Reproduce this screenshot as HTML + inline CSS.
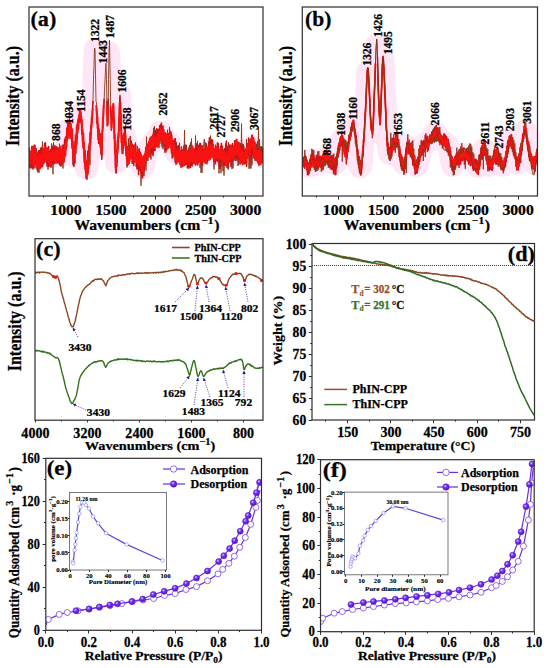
<!DOCTYPE html>
<html><head><meta charset="utf-8"><style>
html,body{margin:0;padding:0;background:#fff;width:550px;height:668px;overflow:hidden}
svg{display:block}
svg text{font-family:"Liberation Serif",serif;font-weight:bold}
</style></head><body>
<svg width="550" height="668" viewBox="0 0 550 668">
<rect width="550" height="668" fill="#fff"/>
<defs>
<clipPath id="ca"><rect x="29" y="7" width="234" height="189"/></clipPath>
<clipPath id="cb"><rect x="302.3" y="7" width="235.2" height="189"/></clipPath>
</defs>
<path d="M29.0,158.0 L30.0,157.6 L31.0,157.3 L32.0,157.1 L33.0,157.0 L34.0,157.0 L35.0,157.0 L36.0,157.2 L37.0,157.7 L38.0,158.3 L39.0,158.8 L40.0,159.0 L41.0,158.7 L42.0,157.9 L43.0,157.1 L44.0,156.3 L45.0,156.0 L46.0,156.1 L47.0,156.4 L48.0,156.6 L49.0,156.9 L50.0,157.0 L51.0,156.9 L52.0,156.6 L53.0,156.4 L54.0,156.1 L55.0,156.0 L56.0,156.0 L57.0,156.0 L58.0,156.0 L59.0,156.0 L60.0,156.0 L61.0,155.9 L62.0,155.6 L63.0,155.2 L64.0,153.6 L65.0,148.2 L66.0,142.0 L67.0,135.1 L68.0,130.0 L69.0,128.6 L70.0,128.0 L71.0,132.0 L72.0,140.0 L73.0,154.2 L74.0,156.6 L75.0,149.0 L76.0,141.2 L77.0,132.7 L78.0,125.0 L79.0,117.9 L80.0,114.0 L81.0,118.0 L82.0,127.1 L83.0,140.0 L84.0,150.4 L85.0,159.8 L86.0,168.5 L87.0,168.9 L88.0,163.0 L89.0,154.1 L90.0,142.7 L91.0,130.0 L92.0,119.3 L93.0,98.1 L94.0,63.8 L95.0,48.9 L96.0,97.3 L97.0,119.6 L98.0,130.0 L99.0,134.2 L100.0,138.0 L101.0,147.5 L102.0,143.0 L103.0,119.4 L104.0,101.0 L105.0,80.0 L106.0,62.0 L107.0,104.3 L108.0,111.5 L109.0,52.0 L110.0,66.8 L111.0,124.3 L112.0,120.4 L113.0,106.9 L114.0,124.8 L115.0,149.0 L116.0,163.0 L117.0,154.3 L118.0,142.8 L119.0,127.0 L120.0,93.8 L121.0,121.7 L122.0,140.0 L123.0,140.0 L124.0,139.0 L125.0,136.0 L126.0,144.9 L127.0,157.0 L128.0,157.0 L129.0,153.9 L130.0,152.0 L131.0,152.2 L132.0,152.7 L133.0,153.4 L134.0,154.2 L135.0,155.0 L136.0,155.8 L137.0,156.6 L138.0,157.5 L139.0,158.6 L140.0,160.0 L141.0,162.7 L142.0,166.3 L143.0,168.0 L144.0,165.3 L145.0,159.7 L146.0,155.0 L147.0,152.2 L148.0,149.8 L149.0,147.7 L150.0,146.0 L151.0,144.5 L152.0,143.3 L153.0,142.1 L154.0,141.1 L155.0,140.0 L156.0,139.1 L157.0,138.2 L158.0,137.0 L159.0,134.4 L160.0,131.5 L161.0,131.4 L162.0,133.7 L163.0,136.0 L164.0,137.5 L165.0,138.9 L166.0,140.0 L167.0,140.8 L168.0,141.5 L169.0,142.1 L170.0,143.0 L171.0,144.4 L172.0,146.3 L173.0,148.3 L174.0,150.0 L175.0,151.5 L176.0,153.0 L177.0,154.2 L178.0,155.0 L179.0,155.5 L180.0,155.9 L181.0,156.3 L182.0,156.6 L183.0,156.8 L184.0,156.9 L185.0,157.0 L186.0,157.0 L187.0,156.9 L188.0,156.8 L189.0,156.7 L190.0,156.6 L191.0,156.5 L192.0,156.4 L193.0,156.2 L194.0,156.1 L195.0,156.0 L196.0,155.9 L197.0,155.8 L198.0,155.8 L199.0,155.7 L200.0,155.6 L201.0,155.5 L202.0,155.4 L203.0,155.3 L204.0,155.2 L205.0,155.0 L206.0,154.5 L207.0,153.5 L208.0,152.4 L209.0,151.2 L210.0,150.3 L211.0,150.0 L212.0,150.8 L213.0,152.5 L214.0,154.2 L215.0,155.0 L216.0,154.8 L217.0,154.3 L218.0,153.7 L219.0,153.2 L220.0,153.0 L221.0,153.2 L222.0,153.6 L223.0,154.3 L224.0,155.0 L225.0,155.7 L226.0,156.4 L227.0,156.8 L228.0,157.0 L229.0,156.7 L230.0,155.9 L231.0,154.9 L232.0,154.0 L233.0,153.1 L234.0,152.0 L235.0,151.0 L236.0,150.3 L237.0,150.0 L238.0,150.6 L239.0,152.1 L240.0,153.9 L241.0,155.4 L242.0,156.0 L243.0,155.8 L244.0,155.4 L245.0,154.7 L246.0,153.9 L247.0,153.0 L248.0,151.6 L249.0,149.6 L250.0,147.6 L251.0,146.3 L252.0,146.1 L253.0,147.4 L254.0,149.4 L255.0,151.5 L256.0,153.0 L257.0,154.0 L258.0,154.8 L259.0,155.5 L260.0,156.0 L261.0,156.4 L262.0,156.8 L263.0,157.0" fill="none" stroke="#ffd6f2" stroke-width="22" stroke-linejoin="round" clip-path="url(#ca)" stroke-linecap="round" opacity="0.62"/>
<path d="M29.0,160.2 L29.5,147.8 L30.0,164.7 L30.5,154.0 L31.0,161.8 L31.5,146.3 L32.0,162.1 L32.5,154.3 L33.0,169.7 L33.5,146.7 L34.0,163.2 L34.5,149.9 L35.0,168.5 L35.5,153.5 L36.0,162.6 L36.5,148.1 L37.0,170.1 L37.5,152.8 L38.0,172.5 L38.5,151.6 L39.0,172.8 L39.5,154.2 L40.0,167.0 L40.5,150.5 L41.0,163.7 L41.5,147.1 L42.0,159.2 L42.5,141.5 L43.0,164.6 L43.5,149.0 L44.0,160.8 L44.5,148.7 L45.0,157.7 L45.5,142.6 L46.0,162.6 L46.5,152.2 L47.0,166.6 L47.5,152.6 L48.0,169.7 L48.5,152.4 L49.0,159.7 L49.5,153.1 L50.0,163.6 L50.5,149.0 L51.0,167.8 L51.5,143.4 L52.0,159.2 L52.5,151.2 L53.0,174.2 L53.5,142.1 L54.0,164.5 L54.5,147.9 L55.0,161.5 L55.5,156.5 L56.0,158.5 L56.5,149.1 L57.0,163.3 L57.5,151.5 L58.0,160.2 L58.5,152.6 L59.0,158.6 L59.5,143.7 L60.0,162.6 L60.5,151.5 L61.0,166.7 L61.5,153.0 L62.0,161.1 L62.5,148.8 L63.0,168.5 L63.5,151.2 L64.0,162.4 L64.5,144.2 L65.0,149.7 L65.5,142.3 L66.0,147.7 L66.5,128.2 L67.0,141.0 L67.5,119.6 L68.0,131.6 L68.5,123.1 L69.0,132.3 L69.5,107.5 L70.0,139.0 L70.5,124.4 L71.0,137.0 L71.5,128.3 L72.0,148.1 L72.5,142.1 L73.0,157.1 L73.5,153.3 L74.0,165.2 L74.5,145.4 L75.0,163.5 L75.5,139.6 L76.0,153.7 L76.5,129.7 L77.0,144.4 L77.5,119.8 L78.0,128.7 L78.5,115.8 L79.0,120.7 L79.5,111.8 L80.0,120.5 L80.5,108.4 L81.0,123.7 L81.5,117.8 L82.0,128.5 L82.5,125.3 L83.0,147.4 L83.5,134.7 L84.0,148.6 L84.5,143.0 L85.0,158.6 L85.5,150.8 L86.0,178.8 L86.5,168.6 L87.0,179.9 L87.5,165.6 L88.0,173.0 L88.5,165.8 L89.0,154.7 L89.5,143.4 L90.0,165.2 L90.5,127.0 L91.0,134.9 L91.5,130.5 L92.0,123.5 L92.5,110.7 L93.0,99.7 L93.5,79.2 L94.0,64.7 L94.5,48.1 L95.0,48.8 L95.5,74.2 L96.0,101.6 L96.5,102.1 L97.0,123.3 L97.5,113.3 L98.0,140.0 L98.5,125.7 L99.0,140.0 L99.5,131.3 L100.0,143.0 L100.5,133.4 L101.0,148.0 L101.5,140.2 L102.0,155.3 L102.5,126.6 L103.0,128.1 L103.5,110.0 L104.0,103.4 L104.5,90.2 L105.0,81.0 L105.5,68.5 L106.0,63.1 L106.5,79.5 L107.0,107.9 L107.5,122.5 L108.0,117.2 L108.5,79.5 L109.0,52.6 L109.5,40.1 L110.0,67.2 L110.5,94.0 L111.0,119.6 L111.5,118.0 L112.0,121.7 L112.5,105.2 L113.0,107.3 L113.5,106.6 L114.0,130.3 L114.5,133.9 L115.0,152.2 L115.5,146.7 L116.0,173.4 L116.5,150.1 L117.0,166.8 L117.5,137.4 L118.0,148.9 L118.5,128.1 L119.0,131.7 L119.5,105.0 L120.0,94.9 L120.5,102.1 L121.0,130.3 L121.5,129.7 L122.0,153.7 L122.5,134.9 L123.0,154.2 L123.5,133.7 L124.0,146.0 L124.5,130.8 L125.0,139.9 L125.5,124.5 L126.0,155.1 L126.5,142.6 L127.0,167.5 L127.5,146.2 L128.0,158.0 L128.5,138.4 L129.0,154.9 L129.5,145.0 L130.0,158.4 L130.5,143.0 L131.0,158.7 L131.5,140.7 L132.0,157.4 L132.5,144.6 L133.0,160.4 L133.5,144.8 L134.0,160.9 L134.5,149.8 L135.0,162.1 L135.5,142.4 L136.0,159.0 L136.5,152.5 L137.0,157.1 L137.5,146.1 L138.0,153.8 L138.5,151.2 L139.0,168.7 L139.5,148.5 L140.0,162.4 L140.5,154.1 L141.0,185.8 L141.5,155.5 L142.0,176.8 L142.5,164.7 L143.0,175.4 L143.5,156.3 L144.0,176.3 L144.5,154.7 L145.0,166.3 L145.5,147.2 L146.0,170.6 L146.5,136.7 L147.0,159.1 L147.5,147.6 L148.0,160.9 L148.5,149.1 L149.0,154.2 L149.5,146.5 L150.0,157.7 L150.5,140.2 L151.0,159.5 L151.5,146.5 L152.0,149.6 L152.5,137.3 L153.0,154.7 L153.5,127.8 L154.0,145.6 L154.5,126.0 L155.0,150.8 L155.5,130.4 L156.0,147.3 L156.5,130.4 L157.0,140.5 L157.5,128.8 L158.0,140.6 L158.5,128.7 L159.0,147.8 L159.5,125.4 L160.0,141.4 L160.5,131.0 L161.0,143.9 L161.5,123.1 L162.0,147.2 L162.5,129.4 L163.0,149.1 L163.5,135.3 L164.0,146.3 L164.5,137.3 L165.0,152.8 L165.5,136.5 L166.0,152.4 L166.5,134.5 L167.0,150.3 L167.5,129.7 L168.0,146.6 L168.5,133.8 L169.0,144.6 L169.5,127.1 L170.0,147.9 L170.5,134.4 L171.0,145.0 L171.5,132.9 L172.0,149.7 L172.5,140.6 L173.0,148.1 L173.5,140.6 L174.0,157.5 L174.5,141.2 L175.0,162.5 L175.5,138.0 L176.0,165.1 L176.5,142.1 L177.0,162.2 L177.5,146.6 L178.0,161.2 L178.5,147.2 L179.0,156.4 L179.5,142.8 L180.0,159.9 L180.5,153.5 L181.0,164.3 L181.5,146.7 L182.0,164.1 L182.5,149.6 L183.0,165.0 L183.5,151.1 L184.0,158.1 L184.5,130.1 L185.0,165.4 L185.5,144.6 L186.0,163.3 L186.5,144.8 L187.0,158.4 L187.5,153.4 L188.0,163.6 L188.5,147.7 L189.0,153.0 L189.5,144.9 L190.0,154.4 L190.5,142.4 L191.0,158.2 L191.5,138.5 L192.0,158.8 L192.5,149.5 L193.0,163.8 L193.5,153.6 L194.0,162.6 L194.5,150.1 L195.0,161.6 L195.5,135.5 L196.0,161.4 L196.5,143.4 L197.0,164.3 L197.5,140.8 L198.0,160.7 L198.5,144.8 L199.0,161.6 L199.5,149.8 L200.0,167.8 L200.5,146.5 L201.0,172.7 L201.5,149.1 L202.0,172.9 L202.5,154.1 L203.0,156.9 L203.5,147.6 L204.0,140.0 L204.5,139.0 L205.0,156.7 L205.5,142.6 L206.0,163.4 L206.5,150.8 L207.0,164.3 L207.5,151.2 L208.0,158.1 L208.5,141.6 L209.0,160.9 L209.5,142.2 L210.0,153.0 L210.5,135.5 L211.0,154.0 L211.5,148.7 L212.0,158.4 L212.5,152.7 L213.0,151.1 L213.5,152.6 L214.0,169.4 L214.5,150.8 L215.0,160.1 L215.5,144.7 L216.0,158.9 L216.5,147.2 L217.0,158.2 L217.5,150.0 L218.0,160.6 L218.5,154.9 L219.0,173.4 L219.5,156.0 L220.0,166.8 L220.5,151.2 L221.0,173.2 L221.5,154.8 L222.0,166.6 L222.5,149.7 L223.0,171.2 L223.5,149.7 L224.0,175.6 L224.5,152.1 L225.0,166.1 L225.5,143.7 L226.0,165.5 L226.5,140.4 L227.0,157.7 L227.5,147.0 L228.0,163.9 L228.5,142.3 L229.0,162.5 L229.5,144.6 L230.0,162.3 L230.5,150.9 L231.0,167.1 L231.5,151.1 L232.0,169.0 L232.5,144.5 L233.0,168.2 L233.5,148.3 L234.0,160.4 L234.5,140.2 L235.0,159.2 L235.5,140.8 L236.0,155.6 L236.5,145.4 L237.0,161.1 L237.5,141.6 L238.0,165.9 L238.5,150.4 L239.0,164.4 L239.5,146.3 L240.0,159.6 L240.5,143.1 L241.0,162.4 L241.5,123.6 L242.0,156.4 L242.5,143.7 L243.0,158.3 L243.5,144.1 L244.0,164.8 L244.5,149.1 L245.0,163.5 L245.5,148.6 L246.0,160.7 L246.5,139.2 L247.0,157.8 L247.5,143.0 L248.0,143.7 L248.5,149.1 L249.0,168.7 L249.5,150.3 L250.0,168.4 L250.5,146.7 L251.0,168.5 L251.5,149.8 L252.0,165.3 L252.5,139.3 L253.0,157.6 L253.5,137.6 L254.0,158.9 L254.5,142.3 L255.0,160.8 L255.5,147.8 L256.0,155.7 L256.5,143.7 L257.0,161.4 L257.5,141.0 L258.0,158.5 L258.5,126.5 L259.0,166.1 L259.5,139.3 L260.0,164.5 L260.5,146.4 L261.0,154.3 L261.5,146.3 L262.0,158.7 L262.5,150.2 L263.0,158.4" fill="none" stroke="#8a3418" stroke-width="0.9" stroke-linejoin="round" clip-path="url(#ca)"/>
<path d="M29.0,168.1 L29.4,155.4 L29.8,163.9 L30.2,151.5 L30.6,167.9 L31.0,157.6 L31.4,164.5 L31.8,154.0 L32.2,168.1 L32.6,151.0 L33.0,167.7 L33.4,150.4 L33.8,167.0 L34.2,145.1 L34.6,162.5 L35.0,145.5 L35.4,159.2 L35.8,152.7 L36.2,164.8 L36.6,156.9 L37.0,167.0 L37.4,154.0 L37.8,171.2 L38.2,151.5 L38.6,165.0 L39.0,150.5 L39.4,166.3 L39.8,151.3 L40.2,164.8 L40.6,148.3 L41.0,162.4 L41.4,155.6 L41.8,167.0 L42.2,149.3 L42.6,166.6 L43.0,155.3 L43.4,161.5 L43.8,148.6 L44.2,163.0 L44.6,143.5 L45.0,157.8 L45.4,142.7 L45.8,155.8 L46.2,148.9 L46.6,161.7 L47.0,149.1 L47.4,165.1 L47.8,149.7 L48.2,166.3 L48.6,146.5 L49.0,166.2 L49.4,153.7 L49.8,164.1 L50.2,150.9 L50.6,159.1 L51.0,150.2 L51.4,166.2 L51.8,146.5 L52.2,158.1 L52.6,151.5 L53.0,163.7 L53.4,144.3 L53.8,157.8 L54.2,152.2 L54.6,162.5 L55.0,145.8 L55.4,163.0 L55.8,150.2 L56.2,161.4 L56.6,146.7 L57.0,162.9 L57.4,152.6 L57.8,160.1 L58.2,147.9 L58.6,162.7 L59.0,151.0 L59.4,164.3 L59.8,145.9 L60.2,165.6 L60.6,150.3 L61.0,162.9 L61.4,149.9 L61.8,165.1 L62.2,145.8 L62.6,163.1 L63.0,145.0 L63.4,160.8 L63.8,145.6 L64.2,153.9 L64.6,139.6 L65.0,150.5 L65.4,137.4 L65.8,145.2 L66.2,136.3 L66.6,146.2 L67.0,127.8 L67.4,137.5 L67.8,125.4 L68.2,134.2 L68.6,120.5 L69.0,132.6 L69.4,122.5 L69.8,129.7 L70.2,122.5 L70.6,131.7 L71.0,123.3 L71.4,139.9 L71.8,134.3 L72.2,148.6 L72.6,145.9 L73.0,164.8 L73.4,146.4 L73.8,166.4 L74.2,146.8 L74.6,161.4 L75.0,141.8 L75.4,149.7 L75.8,137.5 L76.2,144.1 L76.6,125.7 L77.0,139.9 L77.4,124.6 L77.8,133.2 L78.2,120.6 L78.6,128.7 L79.0,117.5 L79.4,122.2 L79.8,115.2 L80.2,119.2 L80.6,112.4 L81.0,121.6 L81.4,119.6 L81.8,134.1 L82.2,130.7 L82.6,142.0 L83.0,133.2 L83.4,148.6 L83.8,144.2 L84.2,162.6 L84.6,149.7 L85.0,168.9 L85.4,153.9 L85.8,167.9 L86.2,163.8 L86.6,178.0 L87.0,161.0 L87.4,169.4 L87.8,151.1 L88.2,162.8 L88.6,146.4 L89.0,162.2 L89.4,142.9 L89.8,148.1 L90.2,133.4 L90.6,144.3 L91.0,125.6 L91.4,127.6 L91.8,120.1 L92.2,118.9 L92.6,108.2 L93.0,100.9 M96.2,108.7 L96.6,110.5 L97.0,123.5 L97.4,117.3 L97.8,135.7 L98.2,128.8 L98.6,143.5 L99.0,129.3 L99.4,142.6 L99.8,136.4 L100.2,145.1 L100.6,142.3 L101.0,154.2 L101.4,146.3 L101.8,159.5 L102.2,131.5 L102.6,131.0 L103.0,117.5 L103.4,116.6 L103.8,105.0 L104.2,98.6 M107.0,101.1 L107.4,125.8 L107.8,119.3 L108.2,98.8 M110.6,105.7 L111.0,117.1 L111.4,130.2 L111.8,115.1 L112.2,122.2 L112.6,108.5 L113.0,109.7 L113.4,103.5 L113.8,119.8 L114.2,122.3 L114.6,149.7 L115.0,141.3 L115.4,167.7 L115.8,152.0 L116.2,172.8 L116.6,153.8 L117.0,162.1 L117.4,140.4 L117.8,152.7 L118.2,137.6 L118.6,135.9 L119.0,121.3 L119.4,115.7 L119.8,96.8 M120.6,101.8 L121.0,122.1 L121.4,131.1 L121.8,145.0 L122.2,139.0 L122.6,150.2 L123.0,136.7 L123.4,147.3 L123.8,136.3 L124.2,141.8 L124.6,128.3 L125.0,139.2 L125.4,133.5 L125.8,150.6 L126.2,142.3 L126.6,159.4 L127.0,151.9 L127.4,165.4 L127.8,153.8 L128.2,164.4 L128.6,155.4 L129.0,157.0 L129.4,145.7 L129.8,159.2 L130.2,136.6 L130.6,157.1 L131.0,141.6 L131.4,158.0 L131.8,144.1 L132.2,163.6 L132.6,145.6 L133.0,162.9 L133.4,151.4 L133.8,165.5 L134.2,151.3 L134.6,157.3 L135.0,144.3 L135.4,156.9 L135.8,145.0 L136.2,166.6 L136.6,154.3 L137.0,168.9 L137.4,157.9 L137.8,168.6 L138.2,153.5 L138.6,174.6 L139.0,154.5 L139.4,169.2 L139.8,152.0 L140.2,170.6 L140.6,152.6 L141.0,173.3 L141.4,163.4 L141.8,175.9 L142.2,157.3 L142.6,177.9 L143.0,160.3 L143.4,169.8 L143.8,156.6 L144.2,171.1 L144.6,159.7 L145.0,164.3 L145.4,153.5 L145.8,163.4 L146.2,148.9 L146.6,160.4 L147.0,147.3 L147.4,157.5 L147.8,144.0 L148.2,153.4 L148.6,142.1 L149.0,155.6 L149.4,142.4 L149.8,152.8 L150.2,139.8 L150.6,154.0 L151.0,144.4 L151.4,153.1 L151.8,138.1 L152.2,151.3 L152.6,145.3 L153.0,155.8 L153.4,133.1 L153.8,150.3 L154.2,134.4 L154.6,150.5 L155.0,132.6 L155.4,138.9 L155.8,130.4 L156.2,142.5 L156.6,128.8 L157.0,145.7 L157.4,133.7 L157.8,146.1 L158.2,130.6 L158.6,144.5 L159.0,129.9 L159.4,137.3 L159.8,127.4 L160.2,134.0 L160.6,124.8 L161.0,136.6 L161.4,123.0 L161.8,135.5 L162.2,128.1 L162.6,140.6 L163.0,126.0 L163.4,143.8 L163.8,129.5 L164.2,146.2 L164.6,134.0 L165.0,150.8 L165.4,133.1 L165.8,150.5 L166.2,139.7 L166.6,146.7 L167.0,134.7 L167.4,141.6 L167.8,133.5 L168.2,148.3 L168.6,133.9 L169.0,144.7 L169.4,132.9 L169.8,141.6 L170.2,131.6 L170.6,146.4 L171.0,132.2 L171.4,152.9 L171.8,135.6 L172.2,158.0 L172.6,142.5 L173.0,151.4 L173.4,145.6 L173.8,151.4 L174.2,139.0 L174.6,151.3 L175.0,142.0 L175.4,156.9 L175.8,147.2 L176.2,162.8 L176.6,148.4 L177.0,155.3 L177.4,146.8 L177.8,162.4 L178.2,145.5 L178.6,158.4 L179.0,152.1 L179.4,158.4 L179.8,151.4 L180.2,164.3 L180.6,151.1 L181.0,167.5 L181.4,146.9 L181.8,165.3 L182.2,152.5 L182.6,166.4 L183.0,154.1 L183.4,165.4 L183.8,145.9 L184.2,165.4 L184.6,153.7 L185.0,164.2 L185.4,148.1 L185.8,164.5 L186.2,150.1 L186.6,164.2 L187.0,154.3 L187.4,168.1 L187.8,151.6 L188.2,166.6 L188.6,156.3 L189.0,168.3 L189.4,156.0 L189.8,163.6 L190.2,152.0 L190.6,167.5 L191.0,152.3 L191.4,165.1 L191.8,149.4 L192.2,165.7 L192.6,146.2 L193.0,163.2 L193.4,149.2 L193.8,157.3 L194.2,150.7 L194.6,157.2 L195.0,148.4 L195.4,158.3 L195.8,147.9 L196.2,159.6 L196.6,144.3 L197.0,158.3 L197.4,153.4 L197.8,164.9 L198.2,156.4 L198.6,161.3 L199.0,149.8 L199.4,161.1 L199.8,143.6 L200.2,160.3 L200.6,143.5 L201.0,157.3 L201.4,146.9 L201.8,162.7 L202.2,145.8 L202.6,165.1 L203.0,151.6 L203.4,159.6 L203.8,149.2 L204.2,160.7 L204.6,155.1 L205.0,162.3 L205.4,147.1 L205.8,159.1 L206.2,143.8 L206.6,159.0 L207.0,149.2 L207.4,161.5 L207.8,147.4 L208.2,157.5 L208.6,145.5 L209.0,154.3 L209.4,137.7 L209.8,153.5 L210.2,141.2 L210.6,146.3 L211.0,140.7 L211.4,150.4 L211.8,139.6 L212.2,156.1 L212.6,140.6 L213.0,156.7 L213.4,144.8 L213.8,161.4 L214.2,151.1 L214.6,160.1 L215.0,150.6 L215.4,163.8 L215.8,151.2 L216.2,160.9 L216.6,150.0 L217.0,154.7 L217.4,142.9 L217.8,161.2 L218.2,143.5 L218.6,162.4 L219.0,151.3 L219.4,168.2 L219.8,150.4 L220.2,168.6 L220.6,146.5 L221.0,159.9 L221.4,143.4 L221.8,156.3 L222.2,145.9 L222.6,158.5 L223.0,152.3 L223.4,162.6 L223.8,151.8 L224.2,164.8 L224.6,148.7 L225.0,158.0 L225.4,150.3 L225.8,158.9 L226.2,141.6 L226.6,159.2 L227.0,145.8 L227.4,164.2 L227.8,154.2 L228.2,168.9 L228.6,150.3 L229.0,162.0 L229.4,147.1 L229.8,159.8 L230.2,147.4 L230.6,160.1 L231.0,147.4 L231.4,165.3 L231.8,152.0 L232.2,159.2 L232.6,143.6 L233.0,160.3 L233.4,151.0 L233.8,156.8 L234.2,151.0 L234.6,155.8 L235.0,146.8 L235.4,160.5 L235.8,145.0 L236.2,154.1 L236.6,146.7 L237.0,158.4 L237.4,145.8 L237.8,159.4 L238.2,142.6 L238.6,159.2 L239.0,143.2 L239.4,152.9 L239.8,143.5 L240.2,163.9 L240.6,147.2 L241.0,162.4 L241.4,146.0 L241.8,158.7 L242.2,147.4 L242.6,164.4 L243.0,149.0 L243.4,160.1 L243.8,146.4 L244.2,158.9 L244.6,153.1 L245.0,163.5 L245.4,150.2 L245.8,161.3 L246.2,152.9 L246.6,166.6 L247.0,149.3 L247.4,158.1 L247.8,147.1 L248.2,155.2 L248.6,138.1 L249.0,154.9 L249.4,142.3 L249.8,152.3 L250.2,139.8 L250.6,159.9 L251.0,140.5 L251.4,153.9 L251.8,147.4 L252.2,153.9 L252.6,141.3 L253.0,151.8 L253.4,137.8 L253.8,151.6 L254.2,145.3 L254.6,157.2 L255.0,142.2 L255.4,156.1 L255.8,147.8 L256.2,156.5 L256.6,150.0 L257.0,160.6 L257.4,151.2 L257.8,162.6 L258.2,148.6 L258.6,164.0 L259.0,155.4 L259.4,159.5 L259.8,150.7 L260.2,163.9 L260.6,155.7 L261.0,159.5 L261.4,148.3 L261.8,161.8 L262.2,147.8 L262.6,160.0 L263.0,152.3" fill="none" stroke="#c81418" stroke-width="1.5" stroke-linejoin="round" clip-path="url(#ca)"/>
<path d="M29.0,160.7 L29.4,155.3 L29.7,163.4 L30.1,154.2 L30.4,163.6 L30.8,154.2 L31.1,156.9 L31.5,150.8 L31.8,156.9 L32.2,146.4 L32.5,154.7 L32.9,148.0 L33.2,163.8 L33.6,155.8 L33.9,165.1 L34.3,151.8 L34.6,159.0 L35.0,150.1 L35.3,158.7 L35.7,153.4 L36.0,160.8 L36.4,155.7 L36.7,162.8 L37.1,157.8 L37.4,166.7 L37.8,157.3 L38.1,165.8 L38.5,154.0 L38.8,168.2 L39.2,159.8 L39.5,167.9 L39.9,155.2 L40.2,168.3 L40.6,156.6 L40.9,166.8 L41.3,154.0 L41.6,162.9 L42.0,154.4 L42.3,163.2 L42.7,153.2 L43.0,162.5 L43.4,148.8 L43.7,158.1 L44.1,150.8 L44.4,154.0 L44.8,148.3 L45.1,157.5 L45.5,147.8 L45.8,160.3 L46.2,153.1 L46.5,158.2 L46.9,149.6 L47.2,160.3 L47.6,147.9 L47.9,159.7 L48.3,152.5 L48.6,161.9 L49.0,155.6 L49.3,161.2 L49.7,154.0 L50.0,165.9 L50.4,152.7 L50.7,166.3 L51.1,156.9 L51.4,160.4 L51.8,153.9 L52.1,159.9 L52.5,150.4 L52.8,157.8 L53.2,152.5 L53.5,156.1 L53.9,151.5 L54.2,160.8 L54.6,153.8 L54.9,158.6 L55.3,153.6 L55.6,162.3 L56.0,149.8 L56.3,160.2 L56.7,153.9 L57.0,162.5 L57.4,148.0 L57.7,158.1 L58.1,153.8 L58.4,159.5 L58.8,152.5 L59.1,157.8 L59.5,149.6 L59.8,156.7 L60.2,147.2 L60.5,159.8 L60.9,155.5 L61.2,162.9 L61.6,150.5 L61.9,159.4 L62.3,151.4 L62.6,159.3 L63.0,150.0 L63.3,158.8 L63.7,152.3 L64.0,161.6 L64.4,145.9 L64.7,156.9 L65.1,144.1 L65.4,155.5 L65.8,145.0 L66.1,148.9 L66.5,137.1 L66.8,141.1 L67.2,129.3 L67.5,138.6 L67.9,127.1 L68.2,137.9 L68.6,127.2 L68.9,136.1 L69.3,126.4 L69.6,134.1 L70.0,124.3 L70.3,133.1 L70.7,127.0 L71.0,134.7 L71.4,128.2 L71.7,138.6 L72.1,129.2 L72.4,145.7 L72.8,141.3 L73.1,156.1 L73.5,154.3 L73.8,158.0 L74.2,150.3 L74.5,154.2 L74.9,144.0 L75.2,149.2 L75.6,135.3 L75.9,148.2 L76.3,137.2 L76.6,138.4 L77.0,129.1 L77.3,130.8 L77.7,122.6 L78.0,127.4 L78.4,118.9 L78.7,120.2 L79.1,115.2 L79.4,118.1 L79.8,110.4 L80.1,115.1 L80.5,110.7 L80.8,117.6 L81.2,116.4 L81.5,122.3 L81.9,119.9 L82.2,134.3 L82.6,129.9 L82.9,143.2 L83.3,133.5 L83.6,148.3 L84.0,142.5 L84.3,157.4 L84.7,151.3 L85.0,165.0 L85.4,160.2 L85.7,172.2 L86.1,168.6 L86.4,175.9 L86.8,167.1 L87.1,176.0 L87.5,162.8 L87.8,174.0 L88.2,158.2 L88.5,168.5 L88.9,154.2 L89.2,155.7 L89.6,144.0 L89.9,146.3 L90.3,132.3 L90.6,138.6 L91.0,127.5 L91.3,127.0 L91.7,117.7 L92.0,122.5 L92.4,112.1 L92.7,108.7 M96.2,105.2 L96.6,108.8 L96.9,119.9 L97.3,116.6 L97.6,128.0 L98.0,124.0 L98.3,135.6 L98.7,128.7 L99.0,140.2 L99.4,133.3 L99.7,139.8 L100.1,135.5 L100.4,147.4 L100.8,137.2 L101.1,151.8 L101.5,145.1 L101.8,153.0 L102.2,132.7 L102.5,130.5 L102.9,117.9 L103.2,118.7 L103.6,105.1 M107.1,106.7 L107.4,125.4 L107.8,123.9 L108.1,107.6 M110.9,121.1 L111.3,121.2 L111.6,127.6 L112.0,116.9 L112.3,117.7 L112.7,110.6 L113.0,107.5 L113.4,104.2 L113.7,116.7 L114.1,119.0 L114.4,138.5 L114.8,134.2 L115.1,152.9 L115.5,155.5 L115.8,169.0 L116.2,155.5 L116.5,162.0 L116.9,155.5 L117.2,154.4 L117.6,143.8 L117.9,148.7 L118.3,133.8 L118.6,137.7 L119.0,120.6 L119.3,116.2 L119.7,102.8 M120.7,114.0 L121.1,121.5 L121.4,142.3 L121.8,136.6 L122.1,148.9 L122.5,136.0 L122.8,146.4 L123.2,136.0 L123.5,143.7 L123.9,133.8 L124.2,140.8 L124.6,134.5 L124.9,140.1 L125.3,133.9 L125.6,148.2 L126.0,142.4 L126.3,155.4 L126.7,149.8 L127.0,160.2 L127.4,149.1 L127.7,162.1 L128.1,155.5 L128.4,163.8 L128.8,151.9 L129.1,163.1 L129.5,152.3 L129.8,160.6 L130.2,146.5 L130.5,156.4 L130.9,146.0 L131.2,158.0 L131.6,144.0 L131.9,155.8 L132.3,148.0 L132.6,155.9 L133.0,148.7 L133.3,156.5 L133.7,152.4 L134.0,161.0 L134.4,148.8 L134.7,161.8 L135.1,152.3 L135.4,158.1 L135.8,153.2 L136.1,161.6 L136.5,153.4 L136.8,160.0 L137.2,155.0 L137.5,162.8 L137.9,149.2 L138.2,159.1 L138.6,153.4 L138.9,165.2 L139.3,152.6 L139.6,163.6 L140.0,158.8 L140.3,167.0 L140.7,155.3 L141.0,165.7 L141.4,155.3 L141.7,170.4 L142.1,160.8 L142.4,171.5 L142.8,164.7 L143.1,173.2 L143.5,156.8 L143.8,165.3 L144.2,155.3 L144.5,164.8 L144.9,154.1 L145.2,160.9 L145.6,151.6 L145.9,155.3 L146.3,147.3 L146.6,156.2 L147.0,146.6 L147.3,153.8 L147.7,150.1 L148.0,156.6 L148.4,148.1 L148.7,156.4 L149.1,141.8 L149.4,154.6 L149.8,138.4 L150.1,149.0 L150.5,138.5 L150.8,147.5 L151.2,137.0 L151.5,142.5 L151.9,139.0 L152.2,147.6 L152.6,135.5 L152.9,145.5 L153.3,140.3 L153.6,147.9 L154.0,136.1 L154.3,144.6 L154.7,137.9 L155.0,146.2 L155.4,140.3 L155.7,146.3 L156.1,138.9 L156.4,146.2 L156.8,138.1 L157.1,144.3 L157.5,135.0 L157.8,146.9 L158.2,135.9 L158.5,141.3 L158.9,131.8 L159.2,142.3 L159.6,132.9 L159.9,139.0 L160.3,128.1 L160.6,137.2 L161.0,130.6 L161.3,136.3 L161.7,130.3 L162.0,140.9 L162.4,133.4 L162.7,139.2 L163.1,130.2 L163.4,142.8 L163.8,136.0 L164.1,141.9 L164.5,137.4 L164.8,142.9 L165.2,132.8 L165.5,142.3 L165.9,136.7 L166.2,147.1 L166.6,134.3 L166.9,147.5 L167.3,138.1 L167.6,141.6 L168.0,137.4 L168.3,144.6 L168.7,134.8 L169.0,142.6 L169.4,135.0 L169.7,142.4 L170.1,131.5 L170.4,144.0 L170.8,137.9 L171.1,148.1 L171.5,138.5 L171.8,150.5 L172.2,140.2 L172.5,152.5 L172.9,142.7 L173.2,153.7 L173.6,145.2 L173.9,150.7 L174.3,145.7 L174.6,157.3 L175.0,150.7 L175.3,157.7 L175.7,152.9 L176.0,159.3 L176.4,150.2 L176.7,163.0 L177.1,150.9 L177.4,158.7 L177.8,152.0 L178.1,156.7 L178.5,151.2 L178.8,161.3 L179.2,150.5 L179.5,161.2 L179.9,152.1 L180.2,164.4 L180.6,155.7 L180.9,158.2 L181.3,154.5 L181.6,163.0 L182.0,152.9 L182.3,158.0 L182.7,151.8 L183.0,161.4 L183.4,151.8 L183.7,165.2 L184.1,152.0 L184.4,163.5 L184.8,150.9 L185.1,160.4 L185.5,152.1 L185.8,163.0 L186.2,155.0 L186.5,159.5 L186.9,150.8 L187.2,161.7 L187.6,153.2 L187.9,161.9 L188.3,152.2 L188.6,164.4 L189.0,155.2 L189.3,163.1 L189.7,152.6 L190.0,159.9 L190.4,149.9 L190.7,160.7 L191.1,149.9 L191.4,160.3 L191.8,146.0 L192.1,158.3 L192.5,147.2 L192.8,161.6 L193.2,152.7 L193.5,160.2 L193.9,149.5 L194.2,163.3 L194.6,150.8 L194.9,163.1 L195.3,154.6 L195.6,164.7 L196.0,154.6 L196.3,162.5 L196.7,154.2 L197.0,160.0 L197.4,151.7 L197.7,157.5 L198.1,153.5 L198.4,162.3 L198.8,147.4 L199.1,157.1 L199.5,150.9 L199.8,160.0 L200.2,152.3 L200.5,156.4 L200.9,147.9 L201.2,158.2 L201.6,147.7 L201.9,160.3 L202.3,151.6 L202.6,162.3 L203.0,153.4 L203.3,160.7 L203.7,152.0 L204.0,161.2 L204.4,150.2 L204.7,159.8 L205.1,154.0 L205.4,163.0 L205.8,151.3 L206.1,158.3 L206.5,148.6 L206.8,157.1 L207.2,147.4 L207.5,158.7 L207.9,150.2 L208.2,159.0 L208.6,149.2 L208.9,154.7 L209.3,145.3 L209.6,155.4 L210.0,148.4 L210.3,158.9 L210.7,145.9 L211.0,153.6 L211.4,145.7 L211.7,152.5 L212.1,145.1 L212.4,156.2 L212.8,145.3 L213.1,155.8 L213.5,147.8 L213.8,157.8 L214.2,149.0 L214.5,160.0 L214.9,152.6 L215.2,156.7 L215.6,151.4 L215.9,158.2 L216.3,148.7 L216.6,156.9 L217.0,146.9 L217.3,157.5 L217.7,152.0 L218.0,158.5 L218.4,150.1 L218.7,153.3 L219.1,149.6 L219.4,158.2 L219.8,152.4 L220.1,159.1 L220.5,153.6 L220.8,158.6 L221.2,148.2 L221.5,157.9 L221.9,150.0 L222.2,158.1 L222.6,154.1 L222.9,159.9 L223.3,155.7 L223.6,161.7 L224.0,151.7 L224.3,161.8 L224.7,155.7 L225.0,162.3 L225.4,152.7 L225.7,162.0 L226.1,155.7 L226.4,164.9 L226.8,156.8 L227.1,167.3 L227.5,157.6 L227.8,160.3 L228.2,153.6 L228.5,160.8 L228.9,149.9 L229.2,157.5 L229.6,147.4 L229.9,160.2 L230.3,148.4 L230.6,158.8 L231.0,145.1 L231.3,153.8 L231.7,149.6 L232.0,154.2 L232.4,150.8 L232.7,158.8 L233.1,148.4 L233.4,153.5 L233.8,146.0 L234.1,153.8 L234.5,149.4 L234.8,154.9 L235.2,143.8 L235.5,155.3 L235.9,140.6 L236.2,151.7 L236.6,139.5 L236.9,151.0 L237.3,143.3 L237.6,154.1 L238.0,143.9 L238.3,150.6 L238.7,142.6 L239.0,156.2 L239.4,146.3 L239.7,155.4 L240.1,150.6 L240.4,162.0 L240.8,153.6 L241.1,161.5 L241.5,151.4 L241.8,159.0 L242.2,150.3 L242.5,163.8 L242.9,155.5 L243.2,159.1 L243.6,152.6 L243.9,162.9 L244.3,155.1 L244.6,160.9 L245.0,154.2 L245.3,159.0 L245.7,149.6 L246.0,160.9 L246.4,150.1 L246.7,156.2 L247.1,146.4 L247.4,158.4 L247.8,149.5 L248.1,151.1 L248.5,143.7 L248.8,148.7 L249.2,141.9 L249.5,148.9 L249.9,139.7 L250.2,154.2 L250.6,141.9 L250.9,148.1 L251.3,138.2 L251.6,146.8 L252.0,135.2 L252.3,143.8 L252.7,141.0 L253.0,146.4 L253.4,138.9 L253.7,154.1 L254.1,141.5 L254.4,151.8 L254.8,148.0 L255.1,158.3 L255.5,149.8 L255.8,160.0 L256.2,150.1 L256.5,158.3 L256.9,151.4 L257.2,157.3 L257.6,153.7 L257.9,162.4 L258.3,150.9 L258.6,160.3 L259.0,151.3 L259.3,159.7 L259.7,150.3 L260.0,163.8 L260.4,155.6 L260.7,164.2 L261.1,152.3 L261.4,161.6 L261.8,156.6 L262.1,162.4 L262.5,158.0 L262.8,160.5" fill="none" stroke="#f81212" stroke-width="1.9" stroke-linejoin="round" clip-path="url(#ca)"/>
<path d="M302.3,166.0 L303.3,162.4 L304.3,160.4 L305.3,160.2 L306.3,162.8 L307.3,166.0 L308.3,166.9 L309.3,165.3 L310.3,162.7 L311.3,160.6 L312.3,160.1 L313.3,161.2 L314.3,163.1 L315.3,164.6 L316.3,165.0 L317.3,164.7 L318.3,164.1 L319.3,163.5 L320.3,162.8 L321.3,161.9 L322.3,160.7 L323.3,159.5 L324.3,158.3 L325.3,157.5 L326.3,157.0 L327.3,157.4 L328.3,158.8 L329.3,160.7 L330.3,162.4 L331.3,163.1 L332.3,163.5 L333.3,163.8 L334.3,164.0 L335.3,163.7 L336.3,159.5 L337.3,153.4 L338.3,148.9 L339.3,145.1 L340.3,141.7 L341.3,139.4 L342.3,139.7 L343.3,144.7 L344.3,149.0 L345.3,152.2 L346.3,154.0 L347.3,151.4 L348.3,145.1 L349.3,139.5 L350.3,133.9 L351.3,128.4 L352.3,124.7 L353.3,124.5 L354.3,129.0 L355.3,134.9 L356.3,143.2 L357.3,152.2 L358.3,158.6 L359.3,164.1 L360.3,167.6 L361.3,166.2 L362.3,157.5 L363.3,146.5 L364.3,131.2 L365.3,113.5 L366.3,92.5 L367.3,71.6 L368.3,71.8 L369.3,91.2 L370.3,112.9 L371.3,127.4 L372.3,132.8 L373.3,122.0 L374.3,94.7 L375.3,68.7 L376.3,44.2 L377.3,49.1 L378.3,89.3 L379.3,113.9 L380.3,119.7 L381.3,94.9 L382.3,67.5 L383.3,57.6 L384.3,78.0 L385.3,101.7 L386.3,126.2 L387.3,141.0 L388.3,149.5 L389.3,153.9 L390.3,153.1 L391.3,150.7 L392.3,148.4 L393.3,146.2 L394.3,144.3 L395.3,142.9 L396.3,141.6 L397.3,141.0 L398.3,143.5 L399.3,149.6 L400.3,155.3 L401.3,158.6 L402.3,161.5 L403.3,163.5 L404.3,163.6 L405.3,157.8 L406.3,150.0 L407.3,146.0 L408.3,146.4 L409.3,147.3 L410.3,148.6 L411.3,150.5 L412.3,153.8 L413.3,157.4 L414.3,160.8 L415.3,164.4 L416.3,166.0 L417.3,164.7 L418.3,161.7 L419.3,158.2 L420.3,155.2 L421.3,152.1 L422.3,149.0 L423.3,146.3 L424.3,144.3 L425.3,143.4 L426.3,142.8 L427.3,142.4 L428.3,142.0 L429.3,141.5 L430.3,140.7 L431.3,139.2 L432.3,137.2 L433.3,135.2 L434.3,133.6 L435.3,133.0 L436.3,133.5 L437.3,134.7 L438.3,136.1 L439.3,137.3 L440.3,138.4 L441.3,139.5 L442.3,140.6 L443.3,141.5 L444.3,142.3 L445.3,142.9 L446.3,143.6 L447.3,144.6 L448.3,145.8 L449.3,149.3 L450.3,155.7 L451.3,162.2 L452.3,165.9 L453.3,165.6 L454.3,164.4 L455.3,162.7 L456.3,161.0 L457.3,159.6 L458.3,158.2 L459.3,156.7 L460.3,155.4 L461.3,154.4 L462.3,154.0 L463.3,154.1 L464.3,154.4 L465.3,154.8 L466.3,155.4 L467.3,156.0 L468.3,156.8 L469.3,157.5 L470.3,158.2 L471.3,159.3 L472.3,160.6 L473.3,162.1 L474.3,163.7 L475.3,165.0 L476.3,166.2 L477.3,166.8 L478.3,166.9 L479.3,164.7 L480.3,160.8 L481.3,156.1 L482.3,152.0 L483.3,149.4 L484.3,149.4 L485.3,151.8 L486.3,155.8 L487.3,160.1 L488.3,163.8 L489.3,165.9 L490.3,165.6 L491.3,163.9 L492.3,161.3 L493.3,158.3 L494.3,155.6 L495.3,153.7 L496.3,153.0 L497.3,154.0 L498.3,156.1 L499.3,158.9 L500.3,161.8 L501.3,164.3 L502.3,165.8 L503.3,165.6 L504.3,163.1 L505.3,159.1 L506.3,154.7 L507.3,150.9 L508.3,146.5 L509.3,142.0 L510.3,138.8 L511.3,138.2 L512.3,141.5 L513.3,146.7 L514.3,151.3 L515.3,156.3 L516.3,161.0 L517.3,163.8 L518.3,163.0 L519.3,158.9 L520.3,153.5 L521.3,148.5 L522.3,142.4 L523.3,135.9 L524.3,131.2 L525.3,130.2 L526.3,133.9 L527.3,140.2 L528.3,146.6 L529.3,151.1 L530.3,154.9 L531.3,158.6 L532.3,161.6 L533.3,163.6 L534.3,163.9 L535.3,162.6 L536.3,159.9 L537.3,155.9" fill="none" stroke="#ffd6f2" stroke-width="22" stroke-linejoin="round" clip-path="url(#cb)" stroke-linecap="round" opacity="0.62"/>
<path d="M302.3,174.6 L302.8,158.1 L303.3,165.6 L303.8,158.7 L304.3,166.8 L304.8,150.0 L305.3,161.7 L305.8,156.3 L306.3,169.9 L306.8,160.7 L307.3,175.2 L307.8,168.5 L308.3,175.4 L308.8,166.8 L309.3,174.1 L309.8,163.0 L310.3,171.2 L310.8,154.6 L311.3,165.5 L311.8,148.8 L312.3,157.7 L312.8,149.6 L313.3,163.8 L313.8,150.3 L314.3,169.8 L314.8,160.3 L315.3,171.9 L315.8,160.7 L316.3,171.3 L316.8,155.7 L317.3,171.0 L317.8,151.5 L318.3,167.0 L318.8,151.0 L319.3,165.7 L319.8,157.2 L320.3,164.7 L320.8,157.3 L321.3,171.7 L321.8,158.6 L322.3,170.4 L322.8,159.0 L323.3,169.7 L323.8,153.1 L324.3,166.4 L324.8,149.9 L325.3,165.7 L325.8,152.8 L326.3,160.1 L326.8,152.4 L327.3,162.3 L327.8,153.1 L328.3,167.7 L328.8,153.6 L329.3,166.3 L329.8,155.8 L330.3,165.6 L330.8,154.8 L331.3,163.0 L331.8,155.2 L332.3,170.1 L332.8,154.7 L333.3,167.3 L333.8,153.6 L334.3,168.4 L334.8,161.4 L335.3,167.5 L335.8,156.9 L336.3,168.1 L336.8,156.3 L337.3,165.5 L337.8,148.5 L338.3,157.8 L338.8,143.3 L339.3,153.5 L339.8,138.5 L340.3,144.9 L340.8,135.9 L341.3,146.5 L341.8,138.8 L342.3,161.7 L342.8,135.4 L343.3,150.3 L343.8,138.0 L344.3,151.1 L344.8,139.7 L345.3,151.5 L345.8,139.9 L346.3,152.8 L346.8,141.8 L347.3,148.6 L347.8,141.8 L348.3,151.4 L348.8,134.7 L349.3,143.9 L349.8,137.3 L350.3,139.4 L350.8,127.5 L351.3,136.7 L351.8,123.4 L352.3,131.7 L352.8,122.8 L353.3,128.8 L353.8,128.1 L354.3,134.4 L354.8,129.4 L355.3,143.4 L355.8,135.0 L356.3,146.4 L356.8,139.9 L357.3,160.5 L357.8,149.3 L358.3,164.6 L358.8,157.7 L359.3,172.3 L359.8,163.5 L360.3,173.8 L360.8,162.4 L361.3,170.6 L361.8,165.7 L362.3,153.7 L362.8,145.6 L363.3,156.0 L363.8,134.7 L364.3,131.8 L364.8,116.2 L365.3,111.4 L365.8,102.3 L366.3,93.1 L366.8,80.5 L367.3,72.4 L367.8,68.0 L368.3,72.4 L368.8,80.8 L369.3,91.9 L369.8,101.1 L370.3,114.8 L370.8,119.5 L371.3,129.2 L371.8,126.6 L372.3,138.2 L372.8,129.9 L373.3,126.8 L373.8,106.3 L374.3,95.3 L374.8,82.0 L375.3,69.2 L375.8,54.2 L376.3,43.9 L376.8,38.9 L377.3,48.8 L377.8,68.3 L378.3,89.6 L378.8,100.7 L379.3,115.1 L379.8,120.1 L380.3,124.9 L380.8,107.9 L381.3,95.1 L381.8,81.9 L382.3,67.4 L382.8,56.5 L383.3,57.6 L383.8,65.3 L384.3,78.6 L384.8,90.3 L385.3,102.9 L385.8,112.1 L386.3,131.4 L386.8,134.1 L387.3,151.4 L387.8,142.0 L388.3,153.9 L388.8,148.0 L389.3,156.5 L389.8,159.5 L390.3,160.7 L390.8,132.9 L391.3,156.4 L391.8,137.9 L392.3,149.6 L392.8,137.9 L393.3,145.7 L393.8,134.2 L394.3,150.1 L394.8,142.4 L395.3,152.7 L395.8,134.8 L396.3,147.9 L396.8,129.4 L397.3,141.3 L397.8,133.2 L398.3,147.1 L398.8,139.1 L399.3,153.8 L399.8,146.2 L400.3,161.9 L400.8,154.3 L401.3,169.2 L401.8,160.7 L402.3,170.8 L402.8,157.1 L403.3,171.2 L403.8,160.9 L404.3,173.9 L404.8,165.7 L405.3,169.1 L405.8,153.3 L406.3,172.9 L406.8,142.5 L407.3,150.3 L407.8,134.1 L408.3,151.4 L408.8,152.8 L409.3,153.7 L409.8,145.6 L410.3,157.1 L410.8,144.1 L411.3,149.8 L411.8,141.8 L412.3,153.4 L412.8,140.3 L413.3,155.9 L413.8,148.5 L414.3,166.6 L414.8,155.2 L415.3,174.1 L415.8,164.6 L416.3,173.6 L416.8,158.9 L417.3,173.3 L417.8,156.7 L418.3,164.0 L418.8,148.8 L419.3,156.6 L419.8,145.0 L420.3,156.3 L420.8,143.4 L421.3,139.9 L421.8,147.2 L422.3,155.2 L422.8,147.3 L423.3,161.0 L423.8,142.1 L424.3,152.3 L424.8,142.7 L425.3,156.9 L425.8,138.2 L426.3,147.1 L426.8,137.2 L427.3,152.1 L427.8,136.0 L428.3,150.6 L428.8,139.0 L429.3,145.0 L429.8,134.3 L430.3,142.6 L430.8,135.2 L431.3,144.2 L431.8,137.2 L432.3,143.6 L432.8,135.3 L433.3,142.0 L433.8,134.8 L434.3,143.0 L434.8,129.9 L435.3,141.7 L435.8,128.4 L436.3,141.7 L436.8,129.7 L437.3,141.3 L437.8,133.2 L438.3,140.8 L438.8,127.7 L439.3,142.2 L439.8,127.0 L440.3,139.2 L440.8,134.4 L441.3,140.6 L441.8,139.5 L442.3,148.5 L442.8,136.4 L443.3,146.0 L443.8,133.6 L444.3,145.4 L444.8,137.8 L445.3,148.4 L445.8,140.4 L446.3,148.6 L446.8,137.7 L447.3,152.2 L447.8,143.3 L448.3,155.5 L448.8,142.0 L449.3,156.9 L449.8,149.1 L450.3,167.4 L450.8,159.1 L451.3,167.4 L451.8,157.9 L452.3,170.6 L452.8,159.2 L453.3,175.4 L453.8,162.4 L454.3,174.8 L454.8,157.0 L455.3,169.8 L455.8,154.7 L456.3,165.2 L456.8,147.7 L457.3,164.3 L457.8,151.8 L458.3,164.9 L458.8,149.6 L459.3,161.5 L459.8,148.8 L460.3,159.5 L460.8,146.4 L461.3,160.8 L461.8,143.1 L462.3,154.2 L462.8,149.4 L463.3,159.8 L463.8,147.3 L464.3,164.8 L464.8,152.5 L465.3,168.7 L465.8,149.7 L466.3,160.3 L466.8,151.7 L467.3,160.7 L467.8,147.3 L468.3,153.8 L468.8,145.5 L469.3,160.6 L469.8,143.4 L470.3,153.4 L470.8,144.2 L471.3,156.7 L471.8,146.7 L472.3,165.4 L472.8,152.2 L473.3,170.5 L473.8,153.7 L474.3,170.4 L474.8,159.9 L475.3,168.1 L475.8,158.6 L476.3,168.7 L476.8,160.7 L477.3,170.2 L477.8,166.0 L478.3,164.7 L478.8,154.9 L479.3,161.1 L479.8,156.4 L480.3,163.0 L480.8,147.5 L481.3,158.4 L481.8,145.1 L482.3,159.6 L482.8,144.2 L483.3,169.3 L483.8,142.8 L484.3,155.9 L484.8,140.4 L485.3,155.4 L485.8,145.0 L486.3,161.1 L486.8,147.8 L487.3,165.0 L487.8,149.1 L488.3,166.6 L488.8,156.2 L489.3,171.2 L489.8,155.6 L490.3,167.1 L490.8,155.8 L491.3,168.1 L491.8,162.3 L492.3,171.0 L492.8,155.9 L493.3,161.9 L493.8,150.4 L494.3,157.7 L494.8,149.4 L495.3,160.1 L495.8,153.7 L496.3,160.1 L496.8,148.1 L497.3,164.7 L497.8,149.3 L498.3,166.7 L498.8,151.6 L499.3,164.1 L499.8,153.1 L500.3,167.5 L500.8,153.5 L501.3,169.1 L501.8,157.1 L502.3,170.6 L502.8,164.3 L503.3,173.3 L503.8,163.0 L504.3,168.7 L504.8,157.8 L505.3,167.4 L505.8,150.9 L506.3,156.8 L506.8,148.8 L507.3,158.1 L507.8,139.9 L508.3,152.2 L508.8,140.2 L509.3,141.8 L509.8,135.2 L510.3,140.4 L510.8,136.5 L511.3,148.9 L511.8,137.5 L512.3,151.6 L512.8,137.4 L513.3,153.6 L513.8,140.3 L514.3,154.6 L514.8,143.4 L515.3,159.3 L515.8,152.0 L516.3,163.4 L516.8,157.4 L517.3,169.7 L517.8,163.7 L518.3,170.6 L518.8,153.5 L519.3,161.2 L519.8,147.4 L520.3,155.5 L520.8,143.1 L521.3,151.0 L521.8,143.0 L522.3,150.8 L522.8,134.6 L523.3,141.1 L523.8,125.9 L524.3,133.7 L524.8,121.2 L525.3,129.9 L525.8,122.5 L526.3,135.6 L526.8,130.8 L527.3,141.7 L527.8,137.8 L528.3,152.1 L528.8,141.5 L529.3,157.9 L529.8,146.0 L530.3,161.0 L530.8,152.6 L531.3,160.0 L531.8,156.8 L532.3,167.1 L532.8,159.8 L533.3,169.8 L533.8,158.4 L534.3,173.6 L534.8,155.8 L535.3,171.4 L535.8,159.0 L536.3,163.2 L536.8,148.7 L537.3,164.2" fill="none" stroke="#8a3418" stroke-width="0.9" stroke-linejoin="round" clip-path="url(#cb)"/>
<path d="M302.3,169.5 L302.7,159.0 L303.1,164.8 L303.5,158.9 L303.9,166.8 L304.3,156.9 L304.7,168.3 L305.1,155.7 L305.5,165.7 L305.9,157.0 L306.3,165.8 L306.7,162.1 L307.1,171.0 L307.5,165.5 L307.9,174.4 L308.3,166.3 L308.7,172.0 L309.1,162.8 L309.5,167.3 L309.9,159.6 L310.3,168.1 L310.7,156.9 L311.1,162.8 L311.5,158.0 L311.9,167.4 L312.3,154.2 L312.7,165.1 L313.1,153.9 L313.5,165.2 L313.9,155.4 L314.3,164.1 L314.7,158.6 L315.1,167.9 L315.5,158.1 L315.9,164.6 L316.3,155.3 L316.7,165.4 L317.1,156.6 L317.5,166.4 L317.9,160.2 L318.3,169.1 L318.7,155.9 L319.1,164.0 L319.5,157.5 L319.9,162.4 L320.3,156.3 L320.7,167.3 L321.1,157.1 L321.5,169.1 L321.9,156.9 L322.3,164.6 L322.7,154.8 L323.1,161.0 L323.5,153.8 L323.9,159.3 L324.3,155.8 L324.7,159.0 L325.1,154.3 L325.5,161.0 L325.9,152.1 L326.3,158.8 L326.7,150.0 L327.1,164.6 L327.5,156.0 L327.9,162.7 L328.3,156.5 L328.7,162.9 L329.1,158.1 L329.5,167.1 L329.9,158.9 L330.3,168.1 L330.7,159.1 L331.1,169.2 L331.5,156.8 L331.9,169.2 L332.3,156.7 L332.7,167.1 L333.1,162.7 L333.5,173.8 L333.9,163.3 L334.3,169.8 L334.7,164.3 L335.1,174.9 L335.5,162.6 L335.9,174.4 L336.3,159.4 L336.7,167.7 L337.1,153.6 L337.5,155.5 L337.9,149.0 L338.3,155.4 L338.7,143.9 L339.1,151.5 L339.5,142.3 L339.9,150.3 L340.3,138.9 L340.7,142.3 L341.1,136.6 L341.5,141.4 L341.9,131.6 L342.3,145.0 L342.7,137.3 L343.1,148.0 L343.5,139.5 L343.9,151.9 L344.3,145.8 L344.7,152.1 L345.1,149.1 L345.5,155.2 L345.9,147.6 L346.3,164.0 L346.7,153.2 L347.1,159.0 L347.5,152.1 L347.9,151.6 L348.3,145.4 L348.7,145.9 L349.1,136.2 L349.5,141.7 L349.9,135.0 L350.3,137.6 L350.7,130.5 L351.1,134.3 L351.5,127.0 L351.9,129.4 L352.3,123.3 L352.7,127.6 L353.1,120.0 L353.5,127.2 L353.9,120.4 L354.3,130.6 L354.7,128.2 L355.1,136.1 L355.5,132.3 L355.9,143.0 L356.3,136.4 L356.7,151.8 L357.1,147.4 L357.5,153.9 L357.9,150.3 L358.3,164.1 L358.7,156.0 L359.1,168.0 L359.5,157.0 L359.9,169.3 L360.3,160.2 L360.7,174.7 L361.1,165.7 L361.5,173.6 L361.9,161.1 L362.3,160.4 L362.7,152.7 L363.1,155.7 L363.5,139.7 L363.9,141.9 L364.3,131.4 L364.7,126.5 L365.1,116.1 L365.5,111.5 L365.9,101.0 L366.3,92.7 L366.7,82.6 L367.1,75.1 L367.5,69.1 L367.9,68.5 L368.3,71.3 L368.7,78.9 L369.1,86.9 L369.5,95.6 L369.9,103.0 L370.3,114.7 L370.7,120.2 L371.1,130.3 L371.5,126.0 L371.9,132.9 L372.3,129.8 L372.7,135.2 L373.1,125.0 L373.5,117.7 L373.9,104.1 L374.3,95.0 L374.7,85.1 L375.1,74.7 L375.5,62.5 M377.5,56.7 L377.9,73.3 L378.3,89.6 L378.7,99.3 L379.1,110.7 L379.5,115.2 L379.9,124.4 L380.3,117.7 L380.7,113.4 L381.1,100.1 L381.5,90.1 L381.9,78.7 L382.3,67.6 L382.7,57.9 L383.1,56.2 L383.5,59.5 L383.9,68.1 L384.3,77.5 L384.7,88.8 L385.1,96.7 L385.5,108.0 L385.9,116.1 L386.3,128.4 L386.7,132.3 L387.1,145.3 L387.5,142.8 L387.9,154.2 L388.3,144.2 L388.7,154.9 L389.1,147.8 L389.5,156.2 L389.9,147.2 L390.3,154.0 L390.7,146.0 L391.1,158.6 L391.5,145.4 L391.9,156.1 L392.3,146.2 L392.7,151.0 L393.1,138.2 L393.5,149.1 L393.9,141.3 L394.3,148.0 L394.7,138.9 L395.1,142.3 L395.5,138.3 L395.9,145.5 L396.3,135.0 L396.7,144.0 L397.1,137.0 L397.5,145.1 L397.9,140.8 L398.3,149.2 L398.7,144.3 L399.1,156.8 L399.5,150.1 L399.9,159.4 L400.3,156.0 L400.7,165.8 L401.1,154.5 L401.5,166.8 L401.9,156.7 L402.3,166.1 L402.7,160.8 L403.1,167.7 L403.5,161.5 L403.9,174.6 L404.3,163.3 L404.7,168.9 L405.1,160.7 L405.5,163.1 L405.9,149.1 L406.3,157.9 L406.7,143.0 L407.1,154.1 L407.5,141.5 L407.9,149.8 L408.3,143.8 L408.7,150.0 L409.1,139.9 L409.5,153.9 L409.9,143.6 L410.3,153.1 L410.7,143.1 L411.1,156.9 L411.5,148.9 L411.9,158.8 L412.3,154.1 L412.7,165.1 L413.1,154.9 L413.5,163.2 L413.9,157.4 L414.3,168.5 L414.7,157.3 L415.1,174.2 L415.5,166.4 L415.9,173.4 L416.3,166.4 L416.7,169.0 L417.1,161.0 L417.5,171.5 L417.9,158.7 L418.3,167.8 L418.7,156.7 L419.1,164.4 L419.5,149.7 L419.9,161.4 L420.3,148.6 L420.7,157.1 L421.1,146.4 L421.5,154.9 L421.9,141.6 L422.3,147.2 L422.7,141.5 L423.1,144.4 L423.5,140.5 L423.9,149.0 L424.3,141.3 L424.7,149.6 L425.1,135.5 L425.5,143.1 L425.9,133.6 L426.3,145.2 L426.7,138.4 L427.1,148.1 L427.5,136.1 L427.9,150.3 L428.3,140.3 L428.7,147.6 L429.1,139.4 L429.5,143.7 L429.9,135.7 L430.3,143.0 L430.7,135.6 L431.1,140.7 L431.5,132.4 L431.9,139.7 L432.3,131.4 L432.7,139.8 L433.1,129.7 L433.5,139.3 L433.9,129.9 L434.3,136.1 L434.7,127.5 L435.1,136.2 L435.5,126.5 L435.9,130.9 L436.3,125.4 L436.7,131.9 L437.1,129.8 L437.5,135.1 L437.9,127.7 L438.3,137.4 L438.7,132.2 L439.1,141.9 L439.5,131.6 L439.9,144.7 L440.3,134.3 L440.7,141.2 L441.1,137.8 L441.5,144.0 L441.9,135.8 L442.3,143.2 L442.7,137.0 L443.1,146.1 L443.5,135.4 L443.9,144.3 L444.3,133.9 L444.7,145.9 L445.1,134.6 L445.5,146.9 L445.9,136.0 L446.3,144.9 L446.7,136.6 L447.1,151.8 L447.5,141.8 L447.9,151.1 L448.3,139.2 L448.7,153.5 L449.1,144.0 L449.5,153.8 L449.9,146.8 L450.3,159.9 L450.7,151.5 L451.1,162.2 L451.5,155.8 L451.9,170.0 L452.3,156.9 L452.7,171.3 L453.1,160.0 L453.5,168.4 L453.9,159.4 L454.3,165.6 L454.7,156.6 L455.1,163.9 L455.5,156.6 L455.9,164.7 L456.3,153.8 L456.7,164.4 L457.1,158.8 L457.5,165.0 L457.9,156.2 L458.3,163.6 L458.7,155.0 L459.1,167.4 L459.5,152.8 L459.9,161.8 L460.3,153.3 L460.7,164.2 L461.1,149.5 L461.5,158.7 L461.9,149.5 L462.3,159.9 L462.7,148.6 L463.1,157.7 L463.5,149.1 L463.9,159.9 L464.3,152.0 L464.7,162.3 L465.1,153.6 L465.5,156.7 L465.9,150.2 L466.3,158.3 L466.7,148.6 L467.1,158.1 L467.5,152.5 L467.9,161.6 L468.3,151.7 L468.7,164.2 L469.1,155.8 L469.5,161.3 L469.9,157.6 L470.3,165.7 L470.7,152.2 L471.1,162.3 L471.5,155.3 L471.9,165.2 L472.3,158.2 L472.7,168.2 L473.1,161.8 L473.5,170.5 L473.9,159.0 L474.3,169.8 L474.7,159.8 L475.1,169.3 L475.5,159.6 L475.9,170.3 L476.3,160.0 L476.7,168.1 L477.1,160.2 L477.5,173.9 L477.9,163.9 L478.3,174.5 L478.7,164.5 L479.1,168.5 L479.5,154.9 L479.9,165.7 L480.3,153.9 L480.7,160.1 L481.1,148.9 L481.5,157.7 L481.9,148.6 L482.3,157.3 L482.7,148.9 L483.1,151.4 L483.5,142.0 L483.9,149.2 L484.3,139.4 L484.7,155.2 L485.1,142.9 L485.5,154.8 L485.9,149.5 L486.3,159.2 L486.7,153.9 L487.1,164.4 L487.5,160.5 L487.9,170.9 L488.3,160.4 L488.7,169.1 L489.1,163.9 L489.5,168.7 L489.9,162.7 L490.3,169.4 L490.7,160.8 L491.1,169.0 L491.5,159.3 L491.9,170.2 L492.3,162.5 L492.7,168.7 L493.1,156.2 L493.5,164.1 L493.9,154.4 L494.3,161.4 L494.7,148.8 L495.1,162.7 L495.5,149.7 L495.9,164.4 L496.3,152.5 L496.7,163.9 L497.1,149.2 L497.5,156.1 L497.9,147.9 L498.3,158.2 L498.7,153.0 L499.1,159.1 L499.5,156.9 L499.9,165.1 L500.3,159.6 L500.7,163.6 L501.1,157.4 L501.5,168.0 L501.9,161.9 L502.3,168.1 L502.7,160.9 L503.1,169.9 L503.5,162.0 L503.9,170.4 L504.3,159.8 L504.7,164.8 L505.1,159.0 L505.5,166.3 L505.9,152.2 L506.3,161.9 L506.7,146.4 L507.1,153.0 L507.5,142.1 L507.9,153.5 L508.3,142.9 L508.7,145.5 L509.1,136.4 L509.5,143.9 L509.9,139.3 L510.3,146.2 L510.7,138.1 L511.1,141.6 L511.5,134.5 L511.9,146.1 L512.3,138.2 L512.7,145.5 L513.1,141.5 L513.5,155.1 L513.9,147.5 L514.3,152.8 L514.7,148.8 L515.1,158.7 L515.5,153.9 L515.9,166.3 L516.3,156.9 L516.7,170.1 L517.1,161.0 L517.5,168.0 L517.9,156.7 L518.3,168.8 L518.7,157.5 L519.1,166.4 L519.5,155.5 L519.9,161.9 L520.3,155.0 L520.7,162.8 L521.1,147.3 L521.5,154.7 L521.9,141.2 L522.3,143.5 L522.7,134.3 L523.1,138.6 L523.5,132.9 L523.9,138.4 L524.3,129.8 L524.7,133.1 L525.1,128.5 L525.5,134.0 L525.9,128.1 L526.3,138.1 L526.7,133.8 L527.1,144.0 L527.5,142.3 L527.9,150.0 L528.3,142.4 L528.7,156.5 L529.1,145.5 L529.5,160.5 L529.9,151.6 L530.3,159.4 L530.7,157.4 L531.1,162.1 L531.5,154.2 L531.9,168.7 L532.3,160.0 L532.7,167.9 L533.1,156.7 L533.5,164.1 L533.9,161.0 L534.3,165.3 L534.7,157.0 L535.1,162.8 L535.5,156.3 L535.9,160.5 L536.3,152.1 L536.7,159.7 L537.1,151.8 L537.5,160.8" fill="none" stroke="#d01418" stroke-width="1.4" stroke-linejoin="round" clip-path="url(#cb)"/>
<path d="M302.3,168.5 L302.7,161.3 L303.0,163.8 L303.4,157.4 L303.7,161.6 L304.1,159.1 L304.4,163.2 L304.8,160.2 L305.1,163.7 L305.5,160.2 L305.8,164.5 L306.2,160.7 L306.5,163.2 L306.9,160.2 L307.2,167.4 L307.6,163.0 L307.9,170.6 L308.3,164.9 L308.6,168.6 L309.0,163.7 L309.3,169.2 L309.7,163.6 L310.0,165.1 L310.4,158.8 L310.7,162.9 L311.1,159.8 L311.4,161.1 L311.8,157.8 L312.1,161.3 L312.5,159.3 L312.8,163.4 L313.2,159.4 L313.5,166.9 L313.9,160.0 L314.2,164.8 L314.6,160.3 L314.9,165.2 L315.3,158.5 L315.6,165.4 L316.0,159.3 L316.3,164.7 L316.7,161.0 L317.0,165.9 L317.4,163.2 L317.7,168.3 L318.1,162.5 L318.4,167.4 L318.8,163.6 L319.1,166.4 L319.5,162.0 L319.8,166.3 L320.2,160.0 L320.5,165.0 L320.9,157.2 L321.2,164.4 L321.6,157.1 L321.9,162.9 L322.3,155.7 L322.6,162.0 L323.0,156.0 L323.3,159.3 L323.7,155.2 L324.0,160.3 L324.4,155.1 L324.7,158.2 L325.1,152.5 L325.4,159.5 L325.8,151.5 L326.1,160.1 L326.5,154.3 L326.8,158.7 L327.2,153.5 L327.5,159.8 L327.9,152.3 L328.2,158.2 L328.6,156.5 L328.9,159.7 L329.3,156.5 L329.6,163.2 L330.0,159.3 L330.3,165.0 L330.7,159.2 L331.0,164.5 L331.4,161.6 L331.7,166.0 L332.1,163.5 L332.4,164.8 L332.8,161.1 L333.1,164.1 L333.5,161.2 L333.8,163.7 L334.2,159.8 L334.5,165.2 L334.9,158.6 L335.2,163.9 L335.6,158.0 L335.9,161.0 L336.3,156.8 L336.6,160.3 L337.0,154.8 L337.3,156.8 L337.7,151.4 L338.0,153.8 L338.4,145.7 L338.7,149.0 L339.1,143.9 L339.4,146.5 L339.8,140.2 L340.1,144.7 L340.5,137.3 L340.8,143.5 L341.2,137.4 L341.5,140.4 L341.9,137.7 L342.2,142.9 L342.6,138.4 L342.9,145.2 L343.3,144.1 L343.6,148.9 L344.0,146.8 L344.3,154.4 L344.7,147.8 L345.0,156.7 L345.4,151.3 L345.7,154.2 L346.1,149.7 L346.4,157.5 L346.8,152.2 L347.1,154.6 L347.5,149.0 L347.8,150.0 L348.2,143.3 L348.5,147.6 L348.9,138.8 L349.2,143.7 L349.6,136.8 L349.9,140.1 L350.3,132.8 L350.6,134.6 L351.0,127.6 L351.3,129.0 L351.7,125.2 L352.0,127.2 L352.4,121.8 L352.7,124.2 L353.1,121.4 L353.4,126.3 L353.8,123.7 L354.1,127.8 L354.5,128.0 L354.8,133.6 L355.2,132.0 L355.5,138.3 L355.9,137.6 L356.2,145.6 L356.6,144.4 L356.9,151.0 L357.3,151.3 L357.6,157.5 L358.0,155.1 L358.3,161.4 L358.7,161.3 L359.0,165.3 L359.4,161.1 L359.7,167.9 L360.1,163.9 L360.4,169.1 L360.8,166.0 L361.1,171.4 L361.5,165.5 L361.8,165.8 L362.2,158.3 L362.5,157.5 L362.9,147.7 L363.2,150.8 L363.6,139.9 L363.9,139.8 L364.3,132.2 L364.6,127.5 L365.0,119.4 L365.3,115.4 L365.7,107.0 L366.0,100.1 L366.4,91.1 L366.7,83.1 L367.1,75.3 L367.4,70.4 L367.8,67.8 L368.1,69.4 L368.5,73.9 L368.8,80.8 L369.2,88.1 L369.5,95.3 L369.9,102.3 L370.2,112.0 L370.6,118.1 L370.9,125.1 L371.3,126.5 L371.6,129.8 L372.0,128.3 L372.3,132.5 L372.7,129.8 L373.0,130.2 L373.4,118.4 L373.7,111.8 L374.1,101.1 L374.4,92.5 L374.8,83.9 L375.1,74.7 L375.5,64.0 M377.9,73.9 L378.3,87.2 L378.6,97.3 L379.0,105.0 L379.3,114.4 L379.7,118.6 L380.0,124.8 L380.4,119.2 L380.7,113.1 L381.1,101.8 L381.4,92.5 L381.8,83.5 L382.1,73.4 L382.5,63.6 M383.9,66.7 L384.2,75.5 L384.6,84.1 L384.9,92.9 L385.3,99.9 L385.6,108.9 L386.0,116.3 L386.3,126.4 L386.7,129.6 L387.0,138.8 L387.4,138.1 L387.7,147.6 L388.1,145.3 L388.4,153.4 L388.8,151.3 L389.1,155.8 L389.5,153.9 L389.8,158.9 L390.2,151.7 L390.5,156.5 L390.9,149.7 L391.2,155.4 L391.6,148.8 L391.9,152.6 L392.3,147.9 L392.6,150.0 L393.0,143.5 L393.3,148.8 L393.7,143.1 L394.0,148.0 L394.4,141.6 L394.7,145.1 L395.1,138.4 L395.4,144.1 L395.8,138.7 L396.1,144.1 L396.5,140.9 L396.8,143.6 L397.2,141.0 L397.5,144.7 L397.9,141.7 L398.2,146.8 L398.6,142.1 L398.9,149.4 L399.3,146.6 L399.6,152.3 L400.0,149.4 L400.3,156.8 L400.7,154.9 L401.0,160.9 L401.4,155.2 L401.7,161.4 L402.1,160.3 L402.4,164.5 L402.8,161.7 L403.1,167.0 L403.5,162.8 L403.8,166.8 L404.2,159.1 L404.5,163.3 L404.9,157.6 L405.2,160.4 L405.6,153.8 L405.9,156.8 L406.3,147.9 L406.6,151.1 L407.0,145.5 L407.3,150.0 L407.7,145.7 L408.0,152.1 L408.4,148.3 L408.7,153.8 L409.1,146.2 L409.4,153.0 L409.8,146.2 L410.1,149.9 L410.5,143.9 L410.8,151.4 L411.2,147.7 L411.5,153.7 L411.9,149.0 L412.2,157.8 L412.6,151.4 L412.9,157.4 L413.3,155.2 L413.6,158.1 L414.0,155.1 L414.3,162.0 L414.7,160.0 L415.0,165.3 L415.4,164.5 L415.7,170.1 L416.1,164.7 L416.4,169.9 L416.8,162.7 L417.1,167.7 L417.5,164.1 L417.8,167.9 L418.2,159.6 L418.5,164.9 L418.9,158.9 L419.2,161.0 L419.6,154.5 L419.9,157.6 L420.3,151.2 L420.6,154.9 L421.0,148.9 L421.3,155.1 L421.7,147.4 L422.0,154.7 L422.4,147.0 L422.7,151.0 L423.1,148.3 L423.4,151.6 L423.8,147.1 L424.1,151.1 L424.5,144.6 L424.8,147.5 L425.2,144.2 L425.5,145.4 L425.9,141.0 L426.2,145.3 L426.6,141.8 L426.9,147.6 L427.3,142.7 L427.6,145.0 L428.0,141.6 L428.3,146.3 L428.7,140.5 L429.0,145.1 L429.4,138.2 L429.7,142.4 L430.1,138.1 L430.4,140.7 L430.8,136.1 L431.1,141.1 L431.5,137.1 L431.8,140.2 L432.2,135.7 L432.5,138.1 L432.9,134.4 L433.2,135.9 L433.6,132.0 L433.9,136.6 L434.3,131.3 L434.6,133.7 L435.0,129.9 L435.3,134.2 L435.7,129.4 L436.0,134.0 L436.4,129.2 L436.7,135.0 L437.1,130.5 L437.4,135.9 L437.8,135.3 L438.1,139.0 L438.5,137.0 L438.8,138.8 L439.2,135.8 L439.5,138.2 L439.9,134.5 L440.2,139.6 L440.6,134.2 L440.9,139.9 L441.3,136.9 L441.6,142.7 L442.0,138.7 L442.3,142.6 L442.7,139.0 L443.0,144.5 L443.4,141.1 L443.7,143.7 L444.1,141.3 L444.4,143.7 L444.8,140.6 L445.1,145.9 L445.5,141.2 L445.8,147.2 L446.2,139.2 L446.5,147.3 L446.9,141.6 L447.2,146.6 L447.6,141.8 L447.9,148.2 L448.3,142.7 L448.6,148.6 L449.0,145.4 L449.3,151.6 L449.7,147.8 L450.0,156.5 L450.4,154.0 L450.7,160.3 L451.1,157.2 L451.4,164.2 L451.8,157.8 L452.1,164.3 L452.5,158.6 L452.8,164.0 L453.2,159.3 L453.5,164.9 L453.9,161.8 L454.2,163.9 L454.6,159.4 L454.9,166.7 L455.3,159.4 L455.6,167.1 L456.0,159.0 L456.3,163.9 L456.7,158.9 L457.0,162.7 L457.4,156.3 L457.7,164.3 L458.1,156.6 L458.4,160.5 L458.8,154.6 L459.1,159.5 L459.5,152.4 L459.8,157.0 L460.2,154.7 L460.5,156.3 L460.9,153.1 L461.2,157.4 L461.6,151.4 L461.9,157.7 L462.3,153.2 L462.6,160.8 L463.0,155.8 L463.3,157.7 L463.7,152.6 L464.0,157.2 L464.4,151.9 L464.7,157.0 L465.1,153.5 L465.4,155.6 L465.8,152.2 L466.1,155.3 L466.5,151.0 L466.8,158.4 L467.2,154.8 L467.5,157.7 L467.9,153.5 L468.2,160.0 L468.6,154.8 L468.9,159.6 L469.3,156.1 L469.6,159.0 L470.0,156.2 L470.3,159.4 L470.7,156.9 L471.0,160.5 L471.4,157.9 L471.7,162.0 L472.1,158.0 L472.4,162.0 L472.8,157.1 L473.1,162.7 L473.5,160.7 L473.8,166.9 L474.2,163.3 L474.5,168.9 L474.9,164.6 L475.2,169.3 L475.6,164.8 L475.9,171.7 L476.3,168.6 L476.6,172.6 L477.0,165.5 L477.3,171.5 L477.7,166.0 L478.0,171.6 L478.4,166.0 L478.7,169.5 L479.1,167.0 L479.4,169.4 L479.8,163.0 L480.1,164.4 L480.5,157.0 L480.8,159.4 L481.2,151.6 L481.5,156.7 L481.9,149.6 L482.2,151.9 L482.6,147.3 L482.9,147.8 L483.3,142.8 L483.6,148.6 L484.0,147.4 L484.3,150.9 L484.7,149.8 L485.0,152.7 L485.4,151.2 L485.7,156.2 L486.1,151.7 L486.4,159.7 L486.8,155.9 L487.1,159.4 L487.5,155.3 L487.8,162.4 L488.2,159.8 L488.5,166.4 L488.9,160.4 L489.2,166.3 L489.6,161.1 L489.9,166.1 L490.3,161.1 L490.6,165.6 L491.0,161.6 L491.3,166.7 L491.7,159.9 L492.0,166.5 L492.4,158.8 L492.7,162.3 L493.1,156.8 L493.4,162.3 L493.8,154.6 L494.1,161.3 L494.5,154.1 L494.8,159.1 L495.2,152.3 L495.5,157.0 L495.9,149.9 L496.2,154.4 L496.6,149.7 L496.9,153.6 L497.3,151.1 L497.6,157.2 L498.0,153.8 L498.3,160.0 L498.7,156.4 L499.0,162.6 L499.4,157.8 L499.7,164.6 L500.1,161.3 L500.4,166.5 L500.8,163.1 L501.1,169.4 L501.5,162.9 L501.8,168.4 L502.2,163.8 L502.5,168.0 L502.9,163.8 L503.2,166.3 L503.6,162.7 L503.9,165.7 L504.3,158.1 L504.6,164.0 L505.0,157.3 L505.3,160.8 L505.7,154.1 L506.0,156.8 L506.4,151.7 L506.7,157.4 L507.1,149.8 L507.4,153.6 L507.8,149.0 L508.1,150.7 L508.5,145.5 L508.8,148.2 L509.2,141.7 L509.5,143.1 L509.9,136.7 L510.2,140.1 L510.6,135.3 L510.9,140.3 L511.3,135.2 L511.6,142.8 L512.0,140.5 L512.3,146.2 L512.7,143.3 L513.0,146.4 L513.4,143.0 L513.7,149.6 L514.1,146.9 L514.4,156.9 L514.8,151.3 L515.1,157.3 L515.5,156.3 L515.8,160.8 L516.2,160.2 L516.5,165.1 L516.9,164.4 L517.2,168.0 L517.6,164.0 L517.9,168.5 L518.3,161.4 L518.6,165.5 L519.0,157.0 L519.3,160.5 L519.7,154.6 L520.0,156.6 L520.4,150.6 L520.7,154.9 L521.1,145.0 L521.4,149.7 L521.8,141.5 L522.1,145.5 L522.5,138.1 L522.8,142.2 L523.2,136.4 L523.5,136.7 L523.9,130.4 L524.2,133.5 L524.6,127.0 L524.9,128.1 L525.3,126.4 L525.6,129.4 L526.0,128.7 L526.3,136.5 L526.7,136.8 L527.0,141.9 L527.4,140.1 L527.7,148.1 L528.1,141.9 L528.4,147.7 L528.8,144.0 L529.1,150.5 L529.5,148.1 L529.8,155.4 L530.2,151.8 L530.5,156.6 L530.9,154.4 L531.2,161.0 L531.6,156.3 L531.9,161.4 L532.3,159.2 L532.6,162.7 L533.0,158.8 L533.3,167.6 L533.7,162.8 L534.0,168.8 L534.4,161.6 L534.7,166.8 L535.1,159.4 L535.4,162.2 L535.8,157.3 L536.1,160.9 L536.5,157.0 L536.8,160.4 L537.2,152.9 L537.5,156.2" fill="none" stroke="#f81212" stroke-width="1.7" stroke-linejoin="round" clip-path="url(#cb)"/>
<path d="M302.3,166.3 L302.9,162.2 L303.5,160.3 L304.1,157.7 L304.7,157.1 L305.3,156.2 L305.9,158.3 L306.5,158.9 L307.1,162.1 L307.7,162.9 L308.3,164.2 L308.9,162.4 L309.5,163.3 L310.1,160.6 L310.7,161.4 L311.3,158.9 L311.9,160.0 L312.5,158.7 L313.1,160.1 L313.7,158.6 L314.3,159.8 L314.9,159.9 L315.5,162.7 L316.1,163.3 L316.7,165.7 L317.3,166.9 L317.9,168.4 L318.5,167.3 L319.1,167.3 L319.7,164.5 L320.3,162.9 L320.9,159.3 L321.5,159.7 L322.1,157.3 L322.7,158.4 L323.3,157.8 L323.9,159.8 L324.5,159.4 L325.1,161.3 L325.7,161.2 L326.3,163.3 L326.9,161.7 L327.5,163.7 L328.1,161.9 L328.7,162.3 L329.3,160.6 L329.9,161.0 L330.5,160.0 L331.1,162.0 L331.7,161.2 L332.3,164.3 L332.9,164.2 L333.5,166.3 L334.1,165.4 L334.7,166.3 L335.3,163.2 L335.9,161.9 L336.5,155.5 L337.1,153.3 L337.7,148.4 L338.3,148.9 L338.9,146.9 L339.5,147.1 L340.1,144.7 L340.7,145.4 L341.3,142.7 L341.9,141.8 L342.5,141.2 L343.1,143.5 L343.7,143.5 L344.3,145.9 L344.9,145.8 L345.5,148.4 L346.1,148.7 L346.7,150.2 L347.3,147.7 L347.9,145.8 L348.5,140.5 L349.1,138.8 L349.7,134.9 L350.3,133.0 L350.9,128.6 L351.5,126.8 L352.1,123.6 L352.7,122.9 L353.3,122.5 L353.9,125.0 L354.5,127.7 L355.1,131.8 L355.7,135.1 L356.3,142.3 L356.9,147.3 L357.5,155.8 L358.1,158.9 L358.7,166.1 L359.3,169.4 L359.9,173.9 L360.5,175.2 L361.1,175.5 L361.7,169.0 L362.3,163.8 L362.9,153.9 L363.5,145.8 L364.1,133.9 L364.7,123.3 L365.3,112.3 L365.9,101.7 L366.5,87.3 L367.1,74.6 L367.7,67.8 L368.3,71.6 L368.9,82.5 L369.5,94.8 L370.1,107.0 L370.7,119.2 L371.3,124.0 L371.9,128.4 L372.5,129.2 L373.1,124.6 L373.7,110.1 L374.3,94.5 L374.9,79.7 L375.5,62.7 L376.1,47.4 L376.7,39.8 L377.3,48.5 L377.9,73.0 L378.5,94.4 L379.1,107.6 L379.7,116.6 L380.3,117.4 L380.9,105.2 L381.5,89.9 L382.1,73.2 L382.7,58.6 L383.3,57.6 L383.9,68.2 L384.5,83.3 L385.1,97.3 L385.7,111.7 L386.3,128.0 L386.9,138.1 L387.5,146.8 L388.1,153.0 L388.7,159.1 L389.3,159.8 L389.9,160.8 L390.5,156.4 L391.1,154.3 L391.7,148.4 L392.3,147.4 L392.9,143.9 L393.5,143.5 L394.1,142.3 L394.7,144.4 L395.3,143.1 L395.9,145.0 L396.5,142.9 L397.1,144.1 L397.7,143.3 L398.3,147.9 L398.9,150.7 L399.5,157.2 L400.1,160.8 L400.7,165.0 L401.3,167.0 L401.9,170.3 L402.5,169.4 L403.1,169.8 L403.7,167.3 L404.3,165.5 L404.9,158.9 L405.5,154.8 L406.1,148.0 L406.7,145.7 L407.3,143.7 L407.9,145.7 L408.5,147.0 L409.1,149.9 L409.7,150.1 L410.3,152.6 L410.9,153.2 L411.5,155.6 L412.1,155.7 L412.7,158.6 L413.3,158.8 L413.9,160.9 L414.5,160.9 L415.1,163.9 L415.7,164.6 L416.3,167.4 L416.9,165.5 L417.5,165.8 L418.1,162.3 L418.7,162.0 L419.3,158.8 L419.9,157.6 L420.5,155.2 L421.1,155.0 L421.7,152.5 L422.3,152.6 L422.9,150.0 L423.5,150.6 L424.1,148.0 L424.7,147.5 L425.3,143.8 L425.9,143.8 L426.5,140.7 L427.1,140.8 L427.7,140.4 L428.3,142.0 L428.9,141.7 L429.5,142.7 L430.1,140.9 L430.7,140.8 L431.3,137.4 L431.9,136.1 L432.5,132.0 L433.1,130.7 L433.7,128.1 L434.3,128.5 L434.9,127.4 L435.5,129.1 L436.1,129.7 L436.7,133.1 L437.3,134.1 L437.9,137.3 L438.5,138.0 L439.1,139.8 L439.7,139.1 L440.3,141.2 L440.9,141.3 L441.5,143.3 L442.1,144.4 L442.7,147.4 L443.3,147.2 L443.9,149.9 L444.5,149.4 L445.1,150.7 L445.7,149.2 L446.3,150.8 L446.9,149.7 L447.5,151.4 L448.1,150.3 L448.7,151.0 L449.3,151.0 L449.9,154.9 L450.5,156.9 L451.1,161.5 L451.7,163.7 L452.3,166.8 L452.9,166.7 L453.5,168.5 L454.1,166.4 L454.7,167.6 L455.3,166.2 L455.9,165.7 L456.5,162.6 L457.1,162.3 L457.7,158.0 L458.3,157.9 L458.9,154.2 L459.5,154.8 L460.1,152.2 L460.7,153.2 L461.3,151.7 L461.9,152.8 L462.5,150.7 L463.1,151.7 L463.7,149.4 L464.3,150.1 L464.9,148.0 L465.5,149.6 L466.1,149.9 L466.7,152.0 L467.3,151.8 L467.9,153.3 L468.5,153.3 L469.1,154.5 L469.7,154.7 L470.3,157.1 L470.9,157.3 L471.5,160.8 L472.1,162.0 L472.7,165.9 L473.3,166.5 L473.9,168.5 L474.5,167.5 L475.1,169.9 L475.7,168.8 L476.3,170.0 L476.9,168.7 L477.5,169.9 L478.1,168.8 L478.7,169.1 L479.3,165.4 L479.9,163.2 L480.5,158.8 L481.1,156.9 L481.7,152.2 L482.3,151.3 L482.9,148.2 L483.5,147.9 L484.1,147.1 L484.7,148.7 L485.3,148.4 L485.9,150.5 L486.5,151.2 L487.1,154.2 L487.7,155.5 L488.3,159.0 L488.9,159.0 L489.5,161.8 L490.1,161.6 L490.7,161.9 L491.3,160.2 L491.9,160.4 L492.5,157.0 L493.1,155.9 L493.7,150.8 L494.3,149.6 L494.9,145.3 L495.5,145.2 L496.1,143.0 L496.7,145.9 L497.3,146.4 L497.9,150.9 L498.5,152.9 L499.1,157.5 L499.7,160.1 L500.3,163.8 L500.9,165.0 L501.5,167.7 L502.1,167.8 L502.7,169.9 L503.3,168.0 L503.9,168.5 L504.5,165.3 L505.1,164.6 L505.7,160.2 L506.3,159.4 L506.9,156.3 L507.5,154.6 L508.1,149.9 L508.7,147.5 L509.3,142.4 L509.9,139.6 L510.5,136.5 L511.1,137.3 L511.7,136.9 L512.3,141.8 L512.9,144.4 L513.5,149.4 L514.1,150.2 L514.7,153.7 L515.3,154.5 L515.9,157.3 L516.5,157.6 L517.1,160.9 L517.7,160.3 L518.3,161.5 L518.9,159.9 L519.5,159.9 L520.1,157.7 L520.7,156.8 L521.3,153.7 L521.9,150.7 L522.5,145.0 L523.1,140.9 L523.7,135.5 L524.3,133.1 L524.9,130.3 L525.5,131.7 L526.1,133.9 L526.7,139.0 L527.3,142.5 L527.9,149.3 L528.5,152.0 L529.1,156.8 L529.7,158.0 L530.3,161.8 L530.9,163.7 L531.5,168.0 L532.1,170.2 L532.7,174.3 L533.3,174.3 L533.9,175.2 L534.5,172.3 L535.1,171.5 L535.7,166.6 L536.3,163.9 L536.9,159.3 L537.5,157.5" fill="none" stroke="#7a3a10" stroke-width="0.8" stroke-linejoin="round" clip-path="url(#cb)"/>
<rect x="29.00" y="7.00" width="234.00" height="189.00" fill="none" stroke="#2e2e2e" stroke-width="1.2"/>
<rect x="302.30" y="7.00" width="235.20" height="189.00" fill="none" stroke="#2e2e2e" stroke-width="1.2"/>
<line x1="43.50" y1="196.00" x2="43.50" y2="197.60" stroke="#2e2e2e" stroke-width="1.0" />
<line x1="66.50" y1="196.00" x2="66.50" y2="199.60" stroke="#2e2e2e" stroke-width="1.0" />
<line x1="88.50" y1="196.00" x2="88.50" y2="197.60" stroke="#2e2e2e" stroke-width="1.0" />
<line x1="110.50" y1="196.00" x2="110.50" y2="199.60" stroke="#2e2e2e" stroke-width="1.0" />
<line x1="133.50" y1="196.00" x2="133.50" y2="197.60" stroke="#2e2e2e" stroke-width="1.0" />
<line x1="155.50" y1="196.00" x2="155.50" y2="199.60" stroke="#2e2e2e" stroke-width="1.0" />
<line x1="178.50" y1="196.00" x2="178.50" y2="197.60" stroke="#2e2e2e" stroke-width="1.0" />
<line x1="200.50" y1="196.00" x2="200.50" y2="199.60" stroke="#2e2e2e" stroke-width="1.0" />
<line x1="223.50" y1="196.00" x2="223.50" y2="197.60" stroke="#2e2e2e" stroke-width="1.0" />
<line x1="245.50" y1="196.00" x2="245.50" y2="199.60" stroke="#2e2e2e" stroke-width="1.0" />
<line x1="316.50" y1="196.00" x2="316.50" y2="197.60" stroke="#2e2e2e" stroke-width="1.0" />
<line x1="338.50" y1="196.00" x2="338.50" y2="199.60" stroke="#2e2e2e" stroke-width="1.0" />
<line x1="360.50" y1="196.00" x2="360.50" y2="197.60" stroke="#2e2e2e" stroke-width="1.0" />
<line x1="383.50" y1="196.00" x2="383.50" y2="199.60" stroke="#2e2e2e" stroke-width="1.0" />
<line x1="405.50" y1="196.00" x2="405.50" y2="197.60" stroke="#2e2e2e" stroke-width="1.0" />
<line x1="428.50" y1="196.00" x2="428.50" y2="199.60" stroke="#2e2e2e" stroke-width="1.0" />
<line x1="450.50" y1="196.00" x2="450.50" y2="197.60" stroke="#2e2e2e" stroke-width="1.0" />
<line x1="473.50" y1="196.00" x2="473.50" y2="199.60" stroke="#2e2e2e" stroke-width="1.0" />
<line x1="495.50" y1="196.00" x2="495.50" y2="197.60" stroke="#2e2e2e" stroke-width="1.0" />
<line x1="518.50" y1="196.00" x2="518.50" y2="199.60" stroke="#2e2e2e" stroke-width="1.0" />
<text transform="translate(66.00,215.20) scale(1.12,1.0)" text-anchor="middle" font-size="14" fill="#000" stroke="#000" stroke-width="0.25" >1000</text>
<text transform="translate(338.50,215.20) scale(1.12,1.0)" text-anchor="middle" font-size="14" fill="#000" stroke="#000" stroke-width="0.25" >1000</text>
<text transform="translate(110.90,215.20) scale(1.12,1.0)" text-anchor="middle" font-size="14" fill="#000" stroke="#000" stroke-width="0.25" >1500</text>
<text transform="translate(383.40,215.20) scale(1.12,1.0)" text-anchor="middle" font-size="14" fill="#000" stroke="#000" stroke-width="0.25" >1500</text>
<text transform="translate(155.80,215.20) scale(1.12,1.0)" text-anchor="middle" font-size="14" fill="#000" stroke="#000" stroke-width="0.25" >2000</text>
<text transform="translate(428.30,215.20) scale(1.12,1.0)" text-anchor="middle" font-size="14" fill="#000" stroke="#000" stroke-width="0.25" >2000</text>
<text transform="translate(200.70,215.20) scale(1.12,1.0)" text-anchor="middle" font-size="14" fill="#000" stroke="#000" stroke-width="0.25" >2500</text>
<text transform="translate(473.20,215.20) scale(1.12,1.0)" text-anchor="middle" font-size="14" fill="#000" stroke="#000" stroke-width="0.25" >2500</text>
<text transform="translate(245.60,215.20) scale(1.12,1.0)" text-anchor="middle" font-size="14" fill="#000" stroke="#000" stroke-width="0.25" >3000</text>
<text transform="translate(518.10,215.20) scale(1.12,1.0)" text-anchor="middle" font-size="14" fill="#000" stroke="#000" stroke-width="0.25" >3000</text>
<text transform="translate(146.90,229.50) scale(1.12,1.0)" text-anchor="middle" font-size="14" fill="#000" stroke="#000" stroke-width="0.25" >Wavenumbers (cm<tspan dy="-5.5" dx="1" font-size="10.1">&#8722;1</tspan><tspan dy="5.5" dx="0.6">)</tspan></text>
<text transform="translate(416.90,229.50) scale(1.1312000000000002,1.0)" text-anchor="middle" font-size="14" fill="#000" stroke="#000" stroke-width="0.25" >Wavenumbers (cm<tspan dy="-5.5" dx="1" font-size="10.1">&#8722;1</tspan><tspan dy="5.5" dx="0.6">)</tspan></text>
<text transform="translate(19.00,96.00) scale(1.12,1.0) rotate(-90)" text-anchor="middle" font-size="16" fill="#000" stroke="#000" stroke-width="0.25" >Intensity (a.u.)</text>
<text transform="translate(292.00,96.00) scale(1.12,1.0) rotate(-90)" text-anchor="middle" font-size="16" fill="#000" stroke="#000" stroke-width="0.25" >Intensity (a.u.)</text>
<text transform="translate(43.40,25.70) scale(1.08,1.0)" text-anchor="middle" font-size="20.5" fill="#000" stroke="#000" stroke-width="0.25" >(a)</text>
<text transform="translate(318.20,25.90) scale(1.05,1.0)" text-anchor="middle" font-size="20.5" fill="#000" stroke="#000" stroke-width="0.25" >(b)</text>
<text transform="translate(59.60,140.90) scale(1.12,1.0) rotate(-90)" text-anchor="start" font-size="11.6" fill="#000" stroke="#000" stroke-width="0.25" >868</text>
<text transform="translate(72.60,124.00) scale(1.12,1.0) rotate(-90)" text-anchor="start" font-size="11.6" fill="#000" stroke="#000" stroke-width="0.25" >1034</text>
<text transform="translate(85.40,111.90) scale(1.12,1.0) rotate(-90)" text-anchor="start" font-size="11.6" fill="#000" stroke="#000" stroke-width="0.25" >1154</text>
<text transform="translate(99.00,42.00) scale(1.12,1.0) rotate(-90)" text-anchor="start" font-size="11.6" fill="#000" stroke="#000" stroke-width="0.25" >1322</text>
<text transform="translate(107.30,63.40) scale(1.12,1.0) rotate(-90)" text-anchor="start" font-size="11.6" fill="#000" stroke="#000" stroke-width="0.25" >1443</text>
<text transform="translate(114.00,38.20) scale(1.12,1.0) rotate(-90)" text-anchor="start" font-size="11.6" fill="#000" stroke="#000" stroke-width="0.25" >1487</text>
<text transform="translate(126.00,92.50) scale(1.12,1.0) rotate(-90)" text-anchor="start" font-size="11.6" fill="#000" stroke="#000" stroke-width="0.25" >1606</text>
<text transform="translate(131.20,130.50) scale(1.12,1.0) rotate(-90)" text-anchor="start" font-size="11.6" fill="#000" stroke="#000" stroke-width="0.25" >1658</text>
<text transform="translate(166.80,115.50) scale(1.12,1.0) rotate(-90)" text-anchor="start" font-size="11.6" fill="#000" stroke="#000" stroke-width="0.25" >2052</text>
<text transform="translate(217.60,129.40) scale(1.12,1.0) rotate(-90)" text-anchor="start" font-size="11.6" fill="#000" stroke="#000" stroke-width="0.25" >2617</text>
<text transform="translate(224.80,137.50) scale(1.12,1.0) rotate(-90)" text-anchor="start" font-size="11.6" fill="#000" stroke="#000" stroke-width="0.25" >2727</text>
<text transform="translate(239.00,132.00) scale(1.12,1.0) rotate(-90)" text-anchor="start" font-size="11.6" fill="#000" stroke="#000" stroke-width="0.25" >2906</text>
<text transform="translate(257.60,130.00) scale(1.12,1.0) rotate(-90)" text-anchor="start" font-size="11.6" fill="#000" stroke="#000" stroke-width="0.25" >3067</text>
<text transform="translate(330.80,155.40) scale(1.12,1.0) rotate(-90)" text-anchor="start" font-size="11.6" fill="#000" stroke="#000" stroke-width="0.25" >868</text>
<text transform="translate(345.00,135.80) scale(1.12,1.0) rotate(-90)" text-anchor="start" font-size="11.6" fill="#000" stroke="#000" stroke-width="0.25" >1038</text>
<text transform="translate(357.00,119.60) scale(1.12,1.0) rotate(-90)" text-anchor="start" font-size="11.6" fill="#000" stroke="#000" stroke-width="0.25" >1160</text>
<text transform="translate(371.20,65.80) scale(1.12,1.0) rotate(-90)" text-anchor="start" font-size="11.6" fill="#000" stroke="#000" stroke-width="0.25" >1326</text>
<text transform="translate(381.70,37.00) scale(1.12,1.0) rotate(-90)" text-anchor="start" font-size="11.6" fill="#000" stroke="#000" stroke-width="0.25" >1426</text>
<text transform="translate(391.70,54.30) scale(1.12,1.0) rotate(-90)" text-anchor="start" font-size="11.6" fill="#000" stroke="#000" stroke-width="0.25" >1495</text>
<text transform="translate(402.30,136.00) scale(1.12,1.0) rotate(-90)" text-anchor="start" font-size="11.6" fill="#000" stroke="#000" stroke-width="0.25" >1653</text>
<text transform="translate(439.40,125.40) scale(1.12,1.0) rotate(-90)" text-anchor="start" font-size="11.6" fill="#000" stroke="#000" stroke-width="0.25" >2066</text>
<text transform="translate(488.80,144.40) scale(1.12,1.0) rotate(-90)" text-anchor="start" font-size="11.6" fill="#000" stroke="#000" stroke-width="0.25" >2611</text>
<text transform="translate(502.80,148.50) scale(1.12,1.0) rotate(-90)" text-anchor="start" font-size="11.6" fill="#000" stroke="#000" stroke-width="0.25" >2743</text>
<text transform="translate(514.30,131.20) scale(1.12,1.0) rotate(-90)" text-anchor="start" font-size="11.6" fill="#000" stroke="#000" stroke-width="0.25" >2903</text>
<text transform="translate(531.00,123.80) scale(1.12,1.0) rotate(-90)" text-anchor="start" font-size="11.6" fill="#000" stroke="#000" stroke-width="0.25" >3061</text>
<defs><clipPath id="cc"><rect x="35" y="238.7" width="228" height="181.5"/></clipPath></defs>
<path d="M35.0,273.5 L35.5,272.2 L36.0,272.9 L36.5,272.5 L37.0,272.5 L37.5,272.5 L38.0,272.0 L38.5,272.3 L39.0,272.1 L39.5,273.1 L40.0,272.3 L40.5,272.2 L41.0,272.2 L41.5,272.1 L42.0,272.0 L42.5,272.1 L43.0,272.3 L43.5,272.1 L44.0,272.4 L44.5,272.2 L45.0,272.2 L45.5,272.6 L46.0,272.5 L46.5,272.3 L47.0,272.5 L47.5,272.8 L48.0,273.3 L48.5,272.9 L49.0,273.1 L49.5,273.6 L50.0,273.3 L50.5,273.7 L51.0,274.5 L51.5,275.0 L52.0,275.5 L52.5,276.2 L53.0,275.8 L53.5,277.1 L54.0,276.8 L54.5,276.5 L55.0,276.8 L55.5,276.7 L56.0,276.2 L56.5,275.9 L57.0,276.0 L57.5,276.1 L58.0,277.4 L58.5,278.7 L59.0,280.3 L59.5,282.3 L60.0,284.1 L60.5,286.7 L61.0,289.8 L61.5,292.2 L62.0,294.0 L62.5,295.7 L63.0,297.8 L63.5,298.8 L64.0,301.4 L64.5,303.1 L65.0,304.4 L65.5,306.7 L66.0,308.3 L66.5,310.5 L67.0,311.7 L67.5,313.7 L68.0,315.9 L68.5,317.8 L69.0,318.9 L69.5,321.1 L70.0,322.8 L70.5,323.8 L71.0,325.5 L71.5,325.8 L72.0,326.9 L72.5,326.7 L73.0,326.9 L73.5,325.8 L74.0,324.6 L74.5,323.0 L75.0,322.0 L75.5,319.5 L76.0,317.1 L76.5,314.9 L77.0,312.3 L77.5,309.6 L78.0,307.2 L78.5,304.9 L79.0,303.1 L79.5,300.1 L80.0,298.2 L80.5,296.6 L81.0,295.3 L81.5,294.1 L82.0,292.4 L82.5,291.2 L83.0,290.6 L83.5,290.1 L84.0,289.2 L84.5,288.4 L85.0,287.7 L85.5,287.3 L86.0,286.7 L86.5,286.5 L87.0,285.7 L87.5,285.5 L88.0,285.0 L88.5,284.8 L89.0,284.3 L89.5,284.4 L90.0,283.7 L90.5,283.3 L91.0,282.0 L91.5,282.0 L92.0,281.5 L92.5,281.4 L93.0,280.4 L93.5,281.0 L94.0,280.6 L94.5,279.7 L95.0,279.5 L95.5,279.3 L96.0,279.3 L96.5,279.3 L97.0,279.5 L97.5,279.0 L98.0,279.2 L98.5,279.0 L99.0,279.4 L99.5,279.2 L100.0,279.3 L100.5,278.7 L101.0,279.0 L101.5,278.8 L102.0,279.6 L102.5,279.9 L103.0,280.4 L103.5,281.1 L104.0,282.2 L104.5,283.1 L105.0,284.2 L105.5,285.3 L106.0,285.7 L106.5,284.2 L107.0,282.8 L107.5,281.3 L108.0,280.3 L108.5,280.0 L109.0,279.3 L109.5,278.4 L110.0,278.1 L110.5,277.8 L111.0,277.5 L111.5,276.9 L112.0,276.9 L112.5,276.9 L113.0,276.5 L113.5,276.5 L114.0,276.3 L114.5,276.3 L115.0,276.4 L115.5,276.0 L116.0,276.0 L116.5,276.1 L117.0,275.9 L117.5,276.1 L118.0,275.0 L118.5,275.7 L119.0,275.3 L119.5,275.3 L120.0,275.4 L120.5,275.4 L121.0,275.3 L121.5,275.0 L122.0,275.3 L122.5,274.7 L123.0,274.7 L123.5,274.9 L124.0,274.4 L124.5,275.0 L125.0,274.7 L125.5,274.9 L126.0,274.3 L126.5,274.1 L127.0,274.2 L127.5,274.3 L128.0,273.9 L128.5,274.0 L129.0,273.9 L129.5,274.2 L130.0,273.6 L130.5,274.0 L131.0,273.5 L131.5,273.4 L132.0,273.4 L132.5,273.3 L133.0,273.6 L133.5,273.8 L134.0,273.5 L134.5,273.6 L135.0,273.8 L135.5,273.5 L136.0,273.4 L136.5,273.3 L137.0,272.9 L137.5,273.5 L138.0,272.8 L138.5,273.4 L139.0,273.2 L139.5,273.5 L140.0,273.2 L140.5,273.0 L141.0,273.3 L141.5,273.0 L142.0,273.1 L142.5,273.2 L143.0,273.1 L143.5,273.1 L144.0,272.9 L144.5,273.1 L145.0,272.6 L145.5,273.1 L146.0,272.8 L146.5,273.4 L147.0,273.4 L147.5,272.6 L148.0,273.1 L148.5,273.0 L149.0,272.8 L149.5,273.1 L150.0,272.9 L150.5,272.5 L151.0,272.9 L151.5,272.9 L152.0,272.9 L152.5,272.6 L153.0,273.0 L153.5,273.0 L154.0,272.5 L154.5,272.6 L155.0,272.7 L155.5,272.5 L156.0,273.1 L156.5,272.7 L157.0,272.3 L157.5,272.3 L158.0,272.5 L158.5,273.0 L159.0,272.3 L159.5,272.4 L160.0,272.4 L160.5,272.2 L161.0,272.7 L161.5,272.0 L162.0,272.3 L162.5,272.1 L163.0,272.1 L163.5,271.6 L164.0,272.3 L164.5,271.7 L165.0,271.7 L165.5,271.3 L166.0,271.3 L166.5,271.5 L167.0,271.5 L167.5,271.4 L168.0,271.4 L168.5,271.1 L169.0,270.8 L169.5,270.9 L170.0,270.8 L170.5,270.5 L171.0,270.6 L171.5,270.6 L172.0,270.3 L172.5,270.1 L173.0,270.3 L173.5,270.5 L174.0,269.9 L174.5,269.9 L175.0,269.8 L175.5,270.1 L176.0,269.3 L176.5,269.9 L177.0,270.1 L177.5,269.6 L178.0,270.3 L178.5,270.1 L179.0,269.9 L179.5,270.2 L180.0,269.9 L180.5,270.3 L181.0,271.1 L181.5,270.6 L182.0,271.5 L182.5,271.3 L183.0,272.0 L183.5,272.4 L184.0,272.6 L184.5,273.9 L185.0,275.1 L185.5,275.7 L186.0,277.0 L186.5,279.3 L187.0,281.2 L187.5,283.1 L188.0,285.1 L188.5,286.7 L189.0,286.7 L189.5,286.5 L190.0,285.5 L190.5,283.8 L191.0,282.0 L191.5,280.7 L192.0,279.7 L192.5,278.5 L193.0,276.9 L193.5,275.7 L194.0,274.5 L194.5,274.4 L195.0,274.9 L195.5,276.9 L196.0,279.1 L196.5,281.5 L197.0,283.6 L197.5,284.2 L198.0,283.5 L198.5,282.2 L199.0,280.1 L199.5,279.7 L200.0,278.7 L200.5,277.9 L201.0,278.0 L201.5,277.8 L202.0,277.8 L202.5,278.8 L203.0,279.1 L203.5,279.4 L204.0,281.3 L204.5,281.8 L205.0,283.1 L205.5,283.1 L206.0,283.1 L206.5,283.6 L207.0,282.4 L207.5,282.0 L208.0,281.5 L208.5,280.3 L209.0,279.5 L209.5,279.0 L210.0,278.8 L210.5,278.0 L211.0,278.0 L211.5,277.6 L212.0,277.8 L212.5,276.9 L213.0,276.5 L213.5,276.8 L214.0,276.5 L214.5,276.7 L215.0,276.8 L215.5,277.2 L216.0,276.9 L216.5,277.3 L217.0,277.0 L217.5,277.7 L218.0,278.7 L218.5,278.5 L219.0,278.8 L219.5,279.2 L220.0,280.4 L220.5,281.1 L221.0,281.6 L221.5,283.0 L222.0,283.6 L222.5,284.2 L223.0,284.2 L223.5,285.1 L224.0,285.1 L224.5,285.3 L225.0,285.4 L225.5,285.6 L226.0,285.9 L226.5,285.2 L227.0,284.6 L227.5,283.1 L228.0,281.7 L228.5,280.2 L229.0,279.0 L229.5,277.8 L230.0,277.6 L230.5,277.0 L231.0,276.2 L231.5,275.7 L232.0,274.9 L232.5,274.6 L233.0,274.1 L233.5,274.6 L234.0,274.1 L234.5,273.8 L235.0,273.5 L235.5,273.7 L236.0,274.0 L236.5,273.6 L237.0,273.3 L237.5,273.7 L238.0,273.7 L238.5,273.5 L239.0,273.4 L239.5,273.5 L240.0,273.3 L240.5,273.6 L241.0,273.6 L241.5,274.8 L242.0,275.3 L242.5,276.5 L243.0,276.7 L243.5,279.1 L244.0,280.6 L244.5,280.9 L245.0,280.7 L245.5,279.7 L246.0,278.3 L246.5,276.8 L247.0,276.0 L247.5,275.7 L248.0,275.2 L248.5,274.5 L249.0,274.3 L249.5,274.4 L250.0,274.6 L250.5,274.2 L251.0,274.2 L251.5,274.7 L252.0,274.6 L252.5,274.9 L253.0,275.2 L253.5,275.5 L254.0,275.3 L254.5,276.0 L255.0,275.6 L255.5,276.3 L256.0,276.0 L256.5,276.3 L257.0,277.1 L257.5,277.1 L258.0,277.3 L258.5,277.6 L259.0,278.2 L259.5,278.4 L260.0,278.7 L260.5,279.3 L261.0,279.3 L261.5,279.7 L262.0,280.1 L262.5,280.9 L263.0,281.2" fill="none" stroke="#8a4822" stroke-width="1.4" stroke-linejoin="round" clip-path="url(#cc)"/>
<path d="M35.0,350.3 L35.5,350.5 L36.0,351.0 L36.5,350.8 L37.0,350.2 L37.5,350.7 L38.0,350.6 L38.5,350.9 L39.0,350.5 L39.5,351.0 L40.0,351.1 L40.5,351.6 L41.0,351.3 L41.5,351.5 L42.0,351.1 L42.5,352.1 L43.0,351.2 L43.5,352.1 L44.0,351.8 L44.5,351.8 L45.0,352.0 L45.5,352.1 L46.0,352.5 L46.5,352.5 L47.0,353.1 L47.5,352.4 L48.0,353.0 L48.5,353.0 L49.0,353.6 L49.5,353.1 L50.0,353.8 L50.5,354.2 L51.0,354.0 L51.5,354.9 L52.0,355.1 L52.5,355.7 L53.0,356.1 L53.5,356.1 L54.0,356.5 L54.5,357.0 L55.0,357.5 L55.5,357.8 L56.0,357.5 L56.5,357.7 L57.0,357.7 L57.5,357.9 L58.0,358.3 L58.5,358.7 L59.0,360.6 L59.5,361.8 L60.0,363.7 L60.5,366.0 L61.0,368.0 L61.5,370.3 L62.0,372.3 L62.5,374.4 L63.0,375.7 L63.5,378.3 L64.0,380.0 L64.5,382.4 L65.0,384.8 L65.5,386.8 L66.0,388.7 L66.5,390.1 L67.0,391.6 L67.5,393.2 L68.0,394.3 L68.5,396.3 L69.0,397.3 L69.5,398.7 L70.0,400.9 L70.5,401.5 L71.0,402.1 L71.5,403.6 L72.0,403.3 L72.5,403.4 L73.0,402.4 L73.5,401.8 L74.0,400.6 L74.5,399.6 L75.0,398.7 L75.5,397.6 L76.0,396.3 L76.5,394.9 L77.0,391.8 L77.5,389.8 L78.0,386.8 L78.5,384.0 L79.0,380.9 L79.5,378.9 L80.0,377.6 L80.5,376.2 L81.0,375.5 L81.5,374.3 L82.0,373.9 L82.5,372.9 L83.0,372.1 L83.5,371.7 L84.0,370.9 L84.5,370.1 L85.0,369.5 L85.5,368.9 L86.0,368.7 L86.5,368.1 L87.0,367.5 L87.5,367.1 L88.0,366.3 L88.5,366.1 L89.0,365.2 L89.5,365.5 L90.0,364.7 L90.5,364.3 L91.0,364.0 L91.5,363.5 L92.0,363.1 L92.5,363.2 L93.0,362.7 L93.5,362.3 L94.0,362.4 L94.5,361.7 L95.0,362.4 L95.5,361.7 L96.0,361.6 L96.5,362.0 L97.0,361.8 L97.5,361.2 L98.0,361.2 L98.5,361.2 L99.0,361.3 L99.5,360.7 L100.0,360.7 L100.5,360.9 L101.0,360.7 L101.5,360.8 L102.0,360.9 L102.5,361.0 L103.0,361.7 L103.5,362.0 L104.0,363.5 L104.5,365.2 L105.0,365.8 L105.5,367.2 L106.0,367.1 L106.5,366.1 L107.0,365.0 L107.5,364.0 L108.0,363.1 L108.5,362.7 L109.0,362.2 L109.5,362.0 L110.0,361.8 L110.5,361.2 L111.0,361.4 L111.5,360.9 L112.0,360.8 L112.5,360.8 L113.0,360.5 L113.5,360.4 L114.0,360.3 L114.5,360.0 L115.0,359.8 L115.5,359.8 L116.0,360.0 L116.5,359.6 L117.0,360.0 L117.5,359.5 L118.0,358.6 L118.5,359.2 L119.0,359.6 L119.5,359.2 L120.0,359.0 L120.5,358.9 L121.0,359.4 L121.5,359.3 L122.0,359.2 L122.5,359.1 L123.0,359.4 L123.5,359.2 L124.0,358.7 L124.5,359.2 L125.0,359.1 L125.5,359.1 L126.0,359.4 L126.5,359.2 L127.0,358.5 L127.5,359.7 L128.0,359.6 L128.5,359.4 L129.0,359.4 L129.5,359.6 L130.0,359.3 L130.5,359.8 L131.0,359.7 L131.5,359.8 L132.0,359.7 L132.5,359.9 L133.0,360.4 L133.5,360.5 L134.0,360.4 L134.5,360.3 L135.0,360.2 L135.5,360.6 L136.0,360.9 L136.5,360.2 L137.0,360.9 L137.5,360.2 L138.0,360.7 L138.5,360.9 L139.0,360.5 L139.5,360.5 L140.0,360.9 L140.5,361.1 L141.0,360.8 L141.5,361.3 L142.0,360.8 L142.5,361.5 L143.0,361.1 L143.5,361.1 L144.0,361.2 L144.5,361.2 L145.0,361.6 L145.5,361.7 L146.0,361.3 L146.5,361.2 L147.0,360.9 L147.5,361.1 L148.0,361.3 L148.5,361.3 L149.0,361.3 L149.5,361.3 L150.0,361.5 L150.5,361.0 L151.0,361.1 L151.5,361.7 L152.0,361.6 L152.5,361.3 L153.0,361.8 L153.5,361.3 L154.0,361.4 L154.5,361.0 L155.0,361.7 L155.5,361.5 L156.0,361.8 L156.5,361.7 L157.0,361.6 L157.5,361.6 L158.0,361.9 L158.5,361.5 L159.0,361.5 L159.5,361.6 L160.0,361.8 L160.5,361.8 L161.0,362.1 L161.5,361.6 L162.0,361.9 L162.5,361.4 L163.0,361.8 L163.5,361.6 L164.0,362.0 L164.5,361.7 L165.0,361.4 L165.5,361.6 L166.0,361.5 L166.5,361.3 L167.0,361.2 L167.5,361.0 L168.0,361.9 L168.5,361.2 L169.0,361.3 L169.5,360.7 L170.0,360.6 L170.5,360.8 L171.0,360.7 L171.5,360.9 L172.0,360.4 L172.5,360.7 L173.0,360.8 L173.5,360.2 L174.0,360.6 L174.5,360.0 L175.0,360.3 L175.5,360.3 L176.0,360.6 L176.5,359.9 L177.0,360.1 L177.5,360.3 L178.0,359.7 L178.5,360.0 L179.0,359.8 L179.5,359.9 L180.0,360.4 L180.5,360.5 L181.0,361.2 L181.5,361.1 L182.0,361.4 L182.5,361.3 L183.0,361.6 L183.5,362.1 L184.0,361.9 L184.5,363.3 L185.0,363.2 L185.5,363.6 L186.0,364.6 L186.5,366.2 L187.0,367.8 L187.5,369.0 L188.0,370.8 L188.5,372.6 L189.0,374.2 L189.5,375.3 L190.0,374.4 L190.5,372.0 L191.0,370.3 L191.5,367.6 L192.0,366.2 L192.5,363.9 L193.0,362.2 L193.5,360.8 L194.0,360.7 L194.5,361.0 L195.0,363.2 L195.5,366.1 L196.0,367.8 L196.5,370.4 L197.0,373.4 L197.5,375.3 L198.0,376.5 L198.5,375.8 L199.0,375.0 L199.5,373.4 L200.0,371.8 L200.5,371.4 L201.0,370.7 L201.5,371.4 L202.0,372.5 L202.5,374.2 L203.0,375.7 L203.5,376.4 L204.0,376.5 L204.5,375.4 L205.0,374.8 L205.5,374.3 L206.0,373.1 L206.5,372.4 L207.0,372.2 L207.5,371.6 L208.0,371.4 L208.5,371.0 L209.0,371.2 L209.5,370.8 L210.0,370.2 L210.5,370.3 L211.0,369.7 L211.5,370.1 L212.0,369.8 L212.5,369.5 L213.0,369.3 L213.5,368.8 L214.0,369.4 L214.5,369.1 L215.0,368.9 L215.5,369.1 L216.0,368.7 L216.5,368.6 L217.0,368.5 L217.5,368.3 L218.0,369.2 L218.5,368.5 L219.0,368.4 L219.5,368.7 L220.0,367.7 L220.5,368.5 L221.0,368.5 L221.5,368.2 L222.0,368.5 L222.5,367.9 L223.0,368.4 L223.5,368.5 L224.0,367.5 L224.5,367.3 L225.0,367.2 L225.5,366.8 L226.0,366.2 L226.5,366.0 L227.0,365.5 L227.5,364.8 L228.0,364.7 L228.5,364.0 L229.0,363.4 L229.5,363.0 L230.0,363.5 L230.5,362.9 L231.0,363.1 L231.5,362.1 L232.0,362.1 L232.5,362.1 L233.0,361.9 L233.5,361.9 L234.0,361.6 L234.5,361.3 L235.0,360.7 L235.5,360.9 L236.0,361.4 L236.5,361.0 L237.0,360.9 L237.5,360.2 L238.0,360.1 L238.5,359.7 L239.0,359.8 L239.5,359.5 L240.0,359.5 L240.5,359.7 L241.0,359.1 L241.5,359.8 L242.0,360.0 L242.5,361.7 L243.0,363.3 L243.5,367.3 L244.0,369.5 L244.5,369.5 L245.0,368.0 L245.5,366.8 L246.0,365.7 L246.5,365.3 L247.0,364.4 L247.5,363.9 L248.0,363.9 L248.5,364.1 L249.0,363.9 L249.5,364.5 L250.0,365.1 L250.5,364.6 L251.0,365.7 L251.5,366.2 L252.0,365.8 L252.5,366.4 L253.0,366.3 L253.5,367.1 L254.0,367.4 L254.5,367.9 L255.0,367.9 L255.5,368.1 L256.0,368.3 L256.5,368.2 L257.0,368.2 L257.5,368.3 L258.0,368.1 L258.5,368.3 L259.0,368.4 L259.5,367.6 L260.0,368.2 L260.5,367.9 L261.0,367.7 L261.5,367.5 L262.0,367.5 L262.5,367.3 L263.0,367.3" fill="none" stroke="#36701c" stroke-width="1.4" stroke-linejoin="round" clip-path="url(#cc)"/>
<circle cx="188.9" cy="286.3" r="1.5" fill="#e01818" clip-path="url(#cc)"/>
<circle cx="197.5" cy="284.0" r="1.5" fill="#e01818" clip-path="url(#cc)"/>
<circle cx="206" cy="283.0" r="1.5" fill="#e01818" clip-path="url(#cc)"/>
<circle cx="226" cy="285.2" r="1.5" fill="#e01818" clip-path="url(#cc)"/>
<circle cx="244.5" cy="280.5" r="1.5" fill="#e01818" clip-path="url(#cc)"/>
<circle cx="53.5" cy="276.5" r="1.5" fill="#e01818" clip-path="url(#cc)"/>
<circle cx="55.5" cy="277.5" r="1.5" fill="#e01818" clip-path="url(#cc)"/>
<circle cx="261.5" cy="280.5" r="1.5" fill="#e01818" clip-path="url(#cc)"/>
<circle cx="219" cy="278.5" r="1.5" fill="#e01818" clip-path="url(#cc)"/>
<circle cx="236" cy="273.6" r="1.5" fill="#e01818" clip-path="url(#cc)"/>
<rect x="35.00" y="238.70" width="228.00" height="181.50" fill="none" stroke="#2e2e2e" stroke-width="1.2"/>
<line x1="35.50" y1="420.20" x2="35.50" y2="422.40" stroke="#2e2e2e" stroke-width="1.0" />
<line x1="61.50" y1="420.20" x2="61.50" y2="421.50" stroke="#2e2e2e" stroke-width="1.0" />
<line x1="87.50" y1="420.20" x2="87.50" y2="422.40" stroke="#2e2e2e" stroke-width="1.0" />
<line x1="113.50" y1="420.20" x2="113.50" y2="421.50" stroke="#2e2e2e" stroke-width="1.0" />
<line x1="139.50" y1="420.20" x2="139.50" y2="422.40" stroke="#2e2e2e" stroke-width="1.0" />
<line x1="165.50" y1="420.20" x2="165.50" y2="421.50" stroke="#2e2e2e" stroke-width="1.0" />
<line x1="191.50" y1="420.20" x2="191.50" y2="422.40" stroke="#2e2e2e" stroke-width="1.0" />
<line x1="217.50" y1="420.20" x2="217.50" y2="421.50" stroke="#2e2e2e" stroke-width="1.0" />
<line x1="243.50" y1="420.20" x2="243.50" y2="422.40" stroke="#2e2e2e" stroke-width="1.0" />
<text transform="translate(35.40,437.80) scale(1.08,1.08)" text-anchor="middle" font-size="13" fill="#000" stroke="#000" stroke-width="0.25" >4000</text>
<text transform="translate(87.40,437.80) scale(1.08,1.08)" text-anchor="middle" font-size="13" fill="#000" stroke="#000" stroke-width="0.25" >3200</text>
<text transform="translate(139.40,437.80) scale(1.08,1.08)" text-anchor="middle" font-size="13" fill="#000" stroke="#000" stroke-width="0.25" >2400</text>
<text transform="translate(191.40,437.80) scale(1.08,1.08)" text-anchor="middle" font-size="13" fill="#000" stroke="#000" stroke-width="0.25" >1600</text>
<text transform="translate(243.40,437.80) scale(1.08,1.08)" text-anchor="middle" font-size="13" fill="#000" stroke="#000" stroke-width="0.25" >800</text>
<text transform="translate(150.00,449.50) scale(1.1,1.0)" text-anchor="middle" font-size="13" fill="#000" stroke="#000" stroke-width="0.25" >Wavenumbers (cm<tspan dy="-5" font-size="9.4">&#8722;1</tspan><tspan dy="5">)</tspan></text>
<text transform="translate(20.50,371.30) scale(1.12,1.0) rotate(-90)" text-anchor="start" font-size="16" fill="#000" stroke="#000" stroke-width="0.25" >Intensity (a.u.)</text>
<text transform="translate(48.30,255.80) scale(1.08,1.0)" text-anchor="middle" font-size="20.5" fill="#000" stroke="#000" stroke-width="0.25" >(c)</text>
<line x1="172.00" y1="247.50" x2="189.70" y2="247.50" stroke="#8e4a22" stroke-width="1.6" />
<line x1="172.00" y1="258.00" x2="189.70" y2="258.00" stroke="#3a7a1c" stroke-width="1.6" />
<text transform="translate(194.40,251.00) scale(1.02,1.0)" text-anchor="start" font-size="10" fill="#000" stroke="#000" stroke-width="0.25" >PhIN-CPP</text>
<text transform="translate(194.40,261.50) scale(1.02,1.0)" text-anchor="start" font-size="10" fill="#000" stroke="#000" stroke-width="0.25" >ThIN-CPP</text>
<defs><marker id="ah" viewBox="0 0 10 10" refX="9" refY="5" markerWidth="3.4" markerHeight="3.4" orient="auto"><path d="M0,0 L10,5 L0,10 z" fill="#2a1a90"/></marker></defs>
<line x1="78.00" y1="337.00" x2="73.00" y2="328.00" stroke="#6a48c8" stroke-width="1" stroke-dasharray="1.1,1.3" marker-end="url(#ah)"/>
<text transform="translate(80.00,351.30) scale(1.1,1.0)" text-anchor="middle" font-size="10.5" fill="#000" stroke="#000" stroke-width="0.25" >3430</text>
<line x1="88.00" y1="411.00" x2="73.00" y2="404.00" stroke="#6a48c8" stroke-width="1" stroke-dasharray="1.1,1.3" marker-end="url(#ah)"/>
<text transform="translate(98.40,416.30) scale(1.1,1.0)" text-anchor="middle" font-size="10.5" fill="#000" stroke="#000" stroke-width="0.25" >3430</text>
<line x1="175.00" y1="302.00" x2="189.00" y2="288.00" stroke="#6a48c8" stroke-width="1" stroke-dasharray="1.1,1.3" marker-end="url(#ah)"/>
<text transform="translate(165.60,311.60) scale(1.1,1.0)" text-anchor="middle" font-size="10.5" fill="#000" stroke="#000" stroke-width="0.25" >1617</text>
<line x1="195.00" y1="311.00" x2="197.50" y2="286.00" stroke="#6a48c8" stroke-width="1" stroke-dasharray="1.1,1.3" marker-end="url(#ah)"/>
<text transform="translate(191.20,319.60) scale(1.1,1.0)" text-anchor="middle" font-size="10.5" fill="#000" stroke="#000" stroke-width="0.25" >1500</text>
<line x1="209.00" y1="302.00" x2="206.00" y2="285.00" stroke="#6a48c8" stroke-width="1" stroke-dasharray="1.1,1.3" marker-end="url(#ah)"/>
<text transform="translate(210.50,311.60) scale(1.1,1.0)" text-anchor="middle" font-size="10.5" fill="#000" stroke="#000" stroke-width="0.25" >1364</text>
<line x1="230.00" y1="311.00" x2="225.50" y2="287.00" stroke="#6a48c8" stroke-width="1" stroke-dasharray="1.1,1.3" marker-end="url(#ah)"/>
<text transform="translate(231.40,319.60) scale(1.1,1.0)" text-anchor="middle" font-size="10.5" fill="#000" stroke="#000" stroke-width="0.25" >1120</text>
<line x1="248.00" y1="302.00" x2="244.50" y2="283.00" stroke="#6a48c8" stroke-width="1" stroke-dasharray="1.1,1.3" marker-end="url(#ah)"/>
<text transform="translate(249.60,311.60) scale(1.1,1.0)" text-anchor="middle" font-size="10.5" fill="#000" stroke="#000" stroke-width="0.25" >802</text>
<line x1="180.00" y1="388.00" x2="189.50" y2="376.00" stroke="#6a48c8" stroke-width="1" stroke-dasharray="1.1,1.3" marker-end="url(#ah)"/>
<text transform="translate(174.10,397.10) scale(1.1,1.0)" text-anchor="middle" font-size="10.5" fill="#000" stroke="#000" stroke-width="0.25" >1629</text>
<line x1="194.00" y1="405.00" x2="198.00" y2="378.00" stroke="#6a48c8" stroke-width="1" stroke-dasharray="1.1,1.3" marker-end="url(#ah)"/>
<text transform="translate(193.40,414.80) scale(1.1,1.0)" text-anchor="middle" font-size="10.5" fill="#000" stroke="#000" stroke-width="0.25" >1483</text>
<line x1="210.00" y1="397.00" x2="203.60" y2="378.00" stroke="#6a48c8" stroke-width="1" stroke-dasharray="1.1,1.3" marker-end="url(#ah)"/>
<text transform="translate(212.00,406.20) scale(1.1,1.0)" text-anchor="middle" font-size="10.5" fill="#000" stroke="#000" stroke-width="0.25" >1365</text>
<line x1="228.00" y1="388.00" x2="223.00" y2="370.00" stroke="#6a48c8" stroke-width="1" stroke-dasharray="1.1,1.3" marker-end="url(#ah)"/>
<text transform="translate(229.30,397.10) scale(1.1,1.0)" text-anchor="middle" font-size="10.5" fill="#000" stroke="#000" stroke-width="0.25" >1124</text>
<line x1="244.00" y1="397.00" x2="244.00" y2="371.00" stroke="#6a48c8" stroke-width="1" stroke-dasharray="1.1,1.3" marker-end="url(#ah)"/>
<text transform="translate(243.50,406.20) scale(1.1,1.0)" text-anchor="middle" font-size="10.5" fill="#000" stroke="#000" stroke-width="0.25" >792</text>
<rect x="312.00" y="243.50" width="222.50" height="176.50" fill="none" stroke="#2e2e2e" stroke-width="1.2"/>
<line x1="347.50" y1="420.00" x2="347.50" y2="423.20" stroke="#2e2e2e" stroke-width="1.0" />
<line x1="390.50" y1="420.00" x2="390.50" y2="423.20" stroke="#2e2e2e" stroke-width="1.0" />
<line x1="433.50" y1="420.00" x2="433.50" y2="423.20" stroke="#2e2e2e" stroke-width="1.0" />
<line x1="477.50" y1="420.00" x2="477.50" y2="423.20" stroke="#2e2e2e" stroke-width="1.0" />
<line x1="520.50" y1="420.00" x2="520.50" y2="423.20" stroke="#2e2e2e" stroke-width="1.0" />
<line x1="325.50" y1="420.00" x2="325.50" y2="421.60" stroke="#2e2e2e" stroke-width="1.0" />
<line x1="369.50" y1="420.00" x2="369.50" y2="421.60" stroke="#2e2e2e" stroke-width="1.0" />
<line x1="412.50" y1="420.00" x2="412.50" y2="421.60" stroke="#2e2e2e" stroke-width="1.0" />
<line x1="455.50" y1="420.00" x2="455.50" y2="421.60" stroke="#2e2e2e" stroke-width="1.0" />
<line x1="498.50" y1="420.00" x2="498.50" y2="421.60" stroke="#2e2e2e" stroke-width="1.0" />
<line x1="308.80" y1="420.50" x2="312.00" y2="420.50" stroke="#2e2e2e" stroke-width="1.0" />
<line x1="310.20" y1="409.50" x2="312.00" y2="409.50" stroke="#2e2e2e" stroke-width="1.0" />
<line x1="308.80" y1="398.50" x2="312.00" y2="398.50" stroke="#2e2e2e" stroke-width="1.0" />
<line x1="310.20" y1="387.50" x2="312.00" y2="387.50" stroke="#2e2e2e" stroke-width="1.0" />
<line x1="308.80" y1="376.50" x2="312.00" y2="376.50" stroke="#2e2e2e" stroke-width="1.0" />
<line x1="310.20" y1="365.50" x2="312.00" y2="365.50" stroke="#2e2e2e" stroke-width="1.0" />
<line x1="308.80" y1="354.50" x2="312.00" y2="354.50" stroke="#2e2e2e" stroke-width="1.0" />
<line x1="310.20" y1="343.50" x2="312.00" y2="343.50" stroke="#2e2e2e" stroke-width="1.0" />
<line x1="308.80" y1="332.50" x2="312.00" y2="332.50" stroke="#2e2e2e" stroke-width="1.0" />
<line x1="310.20" y1="321.50" x2="312.00" y2="321.50" stroke="#2e2e2e" stroke-width="1.0" />
<line x1="308.80" y1="310.50" x2="312.00" y2="310.50" stroke="#2e2e2e" stroke-width="1.0" />
<line x1="310.20" y1="299.50" x2="312.00" y2="299.50" stroke="#2e2e2e" stroke-width="1.0" />
<line x1="308.80" y1="288.50" x2="312.00" y2="288.50" stroke="#2e2e2e" stroke-width="1.0" />
<line x1="310.20" y1="277.50" x2="312.00" y2="277.50" stroke="#2e2e2e" stroke-width="1.0" />
<line x1="308.80" y1="266.50" x2="312.00" y2="266.50" stroke="#2e2e2e" stroke-width="1.0" />
<line x1="310.20" y1="255.50" x2="312.00" y2="255.50" stroke="#2e2e2e" stroke-width="1.0" />
<line x1="308.80" y1="244.50" x2="312.00" y2="244.50" stroke="#2e2e2e" stroke-width="1.0" />
<text transform="translate(347.70,436.60) scale(1.08,1.13)" text-anchor="middle" font-size="13" fill="#000" stroke="#000" stroke-width="0.25" >150</text>
<text transform="translate(390.90,436.60) scale(1.08,1.13)" text-anchor="middle" font-size="13" fill="#000" stroke="#000" stroke-width="0.25" >300</text>
<text transform="translate(434.10,436.60) scale(1.08,1.13)" text-anchor="middle" font-size="13" fill="#000" stroke="#000" stroke-width="0.25" >450</text>
<text transform="translate(477.30,436.60) scale(1.08,1.13)" text-anchor="middle" font-size="13" fill="#000" stroke="#000" stroke-width="0.25" >600</text>
<text transform="translate(520.50,436.60) scale(1.08,1.13)" text-anchor="middle" font-size="13" fill="#000" stroke="#000" stroke-width="0.25" >750</text>
<text transform="translate(306.20,424.70) scale(1.05,1.13)" text-anchor="end" font-size="13" fill="#000" stroke="#000" stroke-width="0.25" >60</text>
<text transform="translate(306.20,402.70) scale(1.05,1.13)" text-anchor="end" font-size="13" fill="#000" stroke="#000" stroke-width="0.25" >65</text>
<text transform="translate(306.20,380.70) scale(1.05,1.13)" text-anchor="end" font-size="13" fill="#000" stroke="#000" stroke-width="0.25" >70</text>
<text transform="translate(306.20,358.70) scale(1.05,1.13)" text-anchor="end" font-size="13" fill="#000" stroke="#000" stroke-width="0.25" >75</text>
<text transform="translate(306.20,336.70) scale(1.05,1.13)" text-anchor="end" font-size="13" fill="#000" stroke="#000" stroke-width="0.25" >80</text>
<text transform="translate(306.20,314.70) scale(1.05,1.13)" text-anchor="end" font-size="13" fill="#000" stroke="#000" stroke-width="0.25" >85</text>
<text transform="translate(306.20,292.70) scale(1.05,1.13)" text-anchor="end" font-size="13" fill="#000" stroke="#000" stroke-width="0.25" >90</text>
<text transform="translate(306.20,270.70) scale(1.05,1.13)" text-anchor="end" font-size="13" fill="#000" stroke="#000" stroke-width="0.25" >95</text>
<text transform="translate(306.20,248.70) scale(1.05,1.13)" text-anchor="end" font-size="13" fill="#000" stroke="#000" stroke-width="0.25" >100</text>
<text transform="translate(422.90,449.50) scale(1.02,1.0)" text-anchor="middle" font-size="13.5" fill="#000" stroke="#000" stroke-width="0.25" >Temperature (&#176;C)</text>
<text transform="translate(282.30,365.40) scale(0.92,1.0) rotate(-90)" text-anchor="start" font-size="14" fill="#000" stroke="#000" stroke-width="0.25" >Weight (%)</text>
<text transform="translate(521.30,260.60) scale(1.08,1.0)" text-anchor="middle" font-size="20.5" fill="#000" stroke="#000" stroke-width="0.25" >(d)</text>
<line x1="312" y1="265.5" x2="534.5" y2="265.5" stroke="#4a3880" stroke-width="1.1" stroke-dasharray="1.1,0.9"/>
<path d="M312.0,243.8 L312.5,244.2 L313.0,244.9 L313.5,245.5 L314.0,246.2 L314.5,246.4 L315.0,246.7 L315.5,247.1 L316.0,247.8 L316.5,248.4 L317.0,248.5 L317.5,248.6 L318.0,248.9 L318.5,249.7 L319.0,249.7 L319.5,249.5 L320.0,250.1 L320.5,250.1 L321.0,250.4 L321.5,250.7 L322.0,250.8 L322.5,251.3 L323.0,251.3 L323.5,251.4 L324.0,251.8 L324.5,252.1 L325.0,251.7 L325.5,252.2 L326.0,252.2 L326.5,252.5 L327.0,252.4 L327.5,252.8 L328.0,252.9 L328.5,253.0 L329.0,253.0 L329.5,253.3 L330.0,253.3 L330.5,253.4 L331.0,253.8 L331.5,253.7 L332.0,254.3 L332.5,254.3 L333.0,253.9 L333.5,254.5 L334.0,254.4 L334.5,254.7 L335.0,254.8 L335.5,254.5 L336.0,255.0 L336.5,255.1 L337.0,255.5 L337.5,255.2 L338.0,255.7 L338.5,255.4 L339.0,255.7 L339.5,255.7 L340.0,256.2 L340.5,256.2 L341.0,256.6 L341.5,256.4 L342.0,256.5 L342.5,256.6 L343.0,256.4 L343.5,256.6 L344.0,257.0 L344.5,256.8 L345.0,257.0 L345.5,257.0 L346.0,257.2 L346.5,257.1 L347.0,257.3 L347.5,257.4 L348.0,257.5 L348.5,257.4 L349.0,257.8 L349.5,257.5 L350.0,257.6 L350.5,257.7 L351.0,258.2 L351.5,258.0 L352.0,258.0 L352.5,258.1 L353.0,258.5 L353.5,258.3 L354.0,258.3 L354.5,258.8 L355.0,258.6 L355.5,258.8 L356.0,259.0 L356.5,259.0 L357.0,259.2 L357.5,259.6 L358.0,259.4 L358.5,259.3 L359.0,259.3 L359.5,259.8 L360.0,259.9 L360.5,260.1 L361.0,260.1 L361.5,260.2 L362.0,260.3 L362.5,260.4 L363.0,260.7 L363.5,260.7 L364.0,260.9 L364.5,261.4 L365.0,261.2 L365.5,260.9 L366.0,261.7 L366.5,261.5 L367.0,261.4 L367.5,261.9 L368.0,261.8 L368.5,261.8 L369.0,261.9 L369.5,262.0 L370.0,262.3 L370.5,262.6 L371.0,262.5 L371.5,262.7 L372.0,263.2 L372.5,262.6 L373.0,263.0 L373.5,263.0 L374.0,263.0 L374.5,263.1 L375.0,263.4 L375.5,263.6 L376.0,263.5 L376.5,263.7 L377.0,263.9 L377.5,263.9 L378.0,264.1 L378.5,264.1 L379.0,264.2 L379.5,264.5 L380.0,264.3 L380.5,264.3 L381.0,264.5 L381.5,264.2 L382.0,264.4 L382.5,264.7 L383.0,264.7 L383.5,265.0 L384.0,264.7 L384.5,264.5 L385.0,265.3 L385.5,265.2 L386.0,264.8 L386.5,265.4 L387.0,265.2 L387.5,264.9 L388.0,265.3 L388.5,265.4 L389.0,265.9 L389.5,265.6 L390.0,265.8 L390.5,265.9 L391.0,266.1 L391.5,266.1 L392.0,266.5 L392.5,266.8 L393.0,266.9 L393.5,266.7 L394.0,266.8 L394.5,267.3 L395.0,267.2 L395.5,267.4 L396.0,267.3 L396.5,268.2 L397.0,268.1 L397.5,267.8 L398.0,268.3 L398.5,268.5 L399.0,267.9 L399.5,268.3 L400.0,268.5 L400.5,268.8 L401.0,268.7 L401.5,268.8 L402.0,268.9 L402.5,269.4 L403.0,269.5 L403.5,269.0 L404.0,269.1 L404.5,269.9 L405.0,269.2 L405.5,269.4 L406.0,269.6 L406.5,269.8 L407.0,270.0 L407.5,269.9 L408.0,269.8 L408.5,270.2 L409.0,270.2 L409.5,270.7 L410.0,270.4 L410.5,270.3 L411.0,270.5 L411.5,271.1 L412.0,270.8 L412.5,270.7 L413.0,271.1 L413.5,271.3 L414.0,271.7 L414.5,271.4 L415.0,271.9 L415.5,272.0 L416.0,271.8 L416.5,272.0 L417.0,272.5 L417.5,272.6 L418.0,272.5 L418.5,272.5 L419.0,272.7 L419.5,272.5 L420.0,272.6 L420.5,272.5 L421.0,272.7 L421.5,272.7 L422.0,273.3 L422.5,272.8 L423.0,273.1 L423.5,273.1 L424.0,272.9 L424.5,273.2 L425.0,272.5 L425.5,273.0 L426.0,273.2 L426.5,272.6 L427.0,272.9 L427.5,273.4 L428.0,273.2 L428.5,273.0 L429.0,273.2 L429.5,273.2 L430.0,273.6 L430.5,273.6 L431.0,273.5 L431.5,273.4 L432.0,273.6 L432.5,274.0 L433.0,273.8 L433.5,273.9 L434.0,273.8 L434.5,273.7 L435.0,273.9 L435.5,274.2 L436.0,274.1 L436.5,274.0 L437.0,273.9 L437.5,274.3 L438.0,274.3 L438.5,274.4 L439.0,274.4 L439.5,274.6 L440.0,274.7 L440.5,274.9 L441.0,275.0 L441.5,275.1 L442.0,275.1 L442.5,274.9 L443.0,275.0 L443.5,275.2 L444.0,275.1 L444.5,275.3 L445.0,275.5 L445.5,275.2 L446.0,275.0 L446.5,275.7 L447.0,275.5 L447.5,275.7 L448.0,275.3 L448.5,276.0 L449.0,275.8 L449.5,275.7 L450.0,275.7 L450.5,275.8 L451.0,275.8 L451.5,275.8 L452.0,275.7 L452.5,276.2 L453.0,276.0 L453.5,276.1 L454.0,276.1 L454.5,275.7 L455.0,276.3 L455.5,276.2 L456.0,276.2 L456.5,276.3 L457.0,276.2 L457.5,276.6 L458.0,276.3 L458.5,276.4 L459.0,276.4 L459.5,276.7 L460.0,276.9 L460.5,276.7 L461.0,276.6 L461.5,277.2 L462.0,276.8 L462.5,277.3 L463.0,277.2 L463.5,277.2 L464.0,277.3 L464.5,277.6 L465.0,277.9 L465.5,277.8 L466.0,278.2 L466.5,278.6 L467.0,278.3 L467.5,278.2 L468.0,278.4 L468.5,278.5 L469.0,278.8 L469.5,279.0 L470.0,279.0 L470.5,279.6 L471.0,279.1 L471.5,279.5 L472.0,280.4 L472.5,280.3 L473.0,280.4 L473.5,280.5 L474.0,281.0 L474.5,280.9 L475.0,280.9 L475.5,280.8 L476.0,281.2 L476.5,281.2 L477.0,281.4 L477.5,281.5 L478.0,281.8 L478.5,281.9 L479.0,282.3 L479.5,282.1 L480.0,282.4 L480.5,283.0 L481.0,282.8 L481.5,283.2 L482.0,283.4 L482.5,283.6 L483.0,283.6 L483.5,283.4 L484.0,283.8 L484.5,283.9 L485.0,283.9 L485.5,284.3 L486.0,284.3 L486.5,284.4 L487.0,285.0 L487.5,285.1 L488.0,285.2 L488.5,285.4 L489.0,285.7 L489.5,285.9 L490.0,286.1 L490.5,286.4 L491.0,286.6 L491.5,287.0 L492.0,287.2 L492.5,287.4 L493.0,287.5 L493.5,287.7 L494.0,288.2 L494.5,288.4 L495.0,288.7 L495.5,288.5 L496.0,288.8 L496.5,289.7 L497.0,290.0 L497.5,290.6 L498.0,290.8 L498.5,291.1 L499.0,291.5 L499.5,291.6 L500.0,292.5 L500.5,292.7 L501.0,293.3 L501.5,293.7 L502.0,294.2 L502.5,294.8 L503.0,295.0 L503.5,295.4 L504.0,295.8 L504.5,296.4 L505.0,297.3 L505.5,297.3 L506.0,298.2 L506.5,298.6 L507.0,299.1 L507.5,299.6 L508.0,299.8 L508.5,300.6 L509.0,301.3 L509.5,301.4 L510.0,302.0 L510.5,302.4 L511.0,303.1 L511.5,303.3 L512.0,304.3 L512.5,304.4 L513.0,304.6 L513.5,305.7 L514.0,306.0 L514.5,306.4 L515.0,306.8 L515.5,307.1 L516.0,307.6 L516.5,308.2 L517.0,308.7 L517.5,309.1 L518.0,309.4 L518.5,309.7 L519.0,310.2 L519.5,310.9 L520.0,311.4 L520.5,311.5 L521.0,312.0 L521.5,312.8 L522.0,313.2 L522.5,313.7 L523.0,313.7 L523.5,314.4 L524.0,314.8 L524.5,315.4 L525.0,315.5 L525.5,316.5 L526.0,316.7 L526.5,317.1 L527.0,317.1 L527.5,317.7 L528.0,318.2 L528.5,317.9 L529.0,318.6 L529.5,319.0 L530.0,319.0 L530.5,319.5 L531.0,319.5 L531.5,320.1 L532.0,320.2 L532.5,320.3 L533.0,320.9 L533.5,320.8 L534.0,321.1 L534.5,320.8" fill="none" stroke="#8b4826" stroke-width="1.5" stroke-linejoin="round" />
<path d="M312.0,244.2 L312.5,244.9 L313.0,244.6 L313.5,245.6 L314.0,246.3 L314.5,246.9 L315.0,247.3 L315.5,247.9 L316.0,248.1 L316.5,248.6 L317.0,248.9 L317.5,249.0 L318.0,249.4 L318.5,250.0 L319.0,250.0 L319.5,250.7 L320.0,250.9 L320.5,251.2 L321.0,251.1 L321.5,251.6 L322.0,251.3 L322.5,251.5 L323.0,251.9 L323.5,252.1 L324.0,251.9 L324.5,252.0 L325.0,252.6 L325.5,252.5 L326.0,253.1 L326.5,253.1 L327.0,253.2 L327.5,253.3 L328.0,253.6 L328.5,253.5 L329.0,253.9 L329.5,253.7 L330.0,253.9 L330.5,254.0 L331.0,254.4 L331.5,254.4 L332.0,254.4 L332.5,255.1 L333.0,254.8 L333.5,255.0 L334.0,255.2 L334.5,255.7 L335.0,255.4 L335.5,255.8 L336.0,255.8 L336.5,255.6 L337.0,256.2 L337.5,256.4 L338.0,256.3 L338.5,256.5 L339.0,256.3 L339.5,256.4 L340.0,256.8 L340.5,257.1 L341.0,257.0 L341.5,257.3 L342.0,257.5 L342.5,257.5 L343.0,257.7 L343.5,258.0 L344.0,257.5 L344.5,258.0 L345.0,257.6 L345.5,258.2 L346.0,258.2 L346.5,258.1 L347.0,258.1 L347.5,258.4 L348.0,258.4 L348.5,258.6 L349.0,258.5 L349.5,258.9 L350.0,258.7 L350.5,258.9 L351.0,259.0 L351.5,259.4 L352.0,258.9 L352.5,259.2 L353.0,259.6 L353.5,259.4 L354.0,259.3 L354.5,259.7 L355.0,259.7 L355.5,260.0 L356.0,259.8 L356.5,260.1 L357.0,260.3 L357.5,260.5 L358.0,260.1 L358.5,260.7 L359.0,260.4 L359.5,260.3 L360.0,260.5 L360.5,260.8 L361.0,260.8 L361.5,261.1 L362.0,261.2 L362.5,261.2 L363.0,261.2 L363.5,261.7 L364.0,261.0 L364.5,261.2 L365.0,261.5 L365.5,261.4 L366.0,261.2 L366.5,261.7 L367.0,261.8 L367.5,261.5 L368.0,262.3 L368.5,262.4 L369.0,262.5 L369.5,262.2 L370.0,262.4 L370.5,262.2 L371.0,262.5 L371.5,262.4 L372.0,262.6 L372.5,262.4 L373.0,262.6 L373.5,262.4 L374.0,262.4 L374.5,261.7 L375.0,261.5 L375.5,261.8 L376.0,261.5 L376.5,261.6 L377.0,261.6 L377.5,261.5 L378.0,261.7 L378.5,261.7 L379.0,261.8 L379.5,261.6 L380.0,262.2 L380.5,261.9 L381.0,262.2 L381.5,262.2 L382.0,262.5 L382.5,262.4 L383.0,262.5 L383.5,262.7 L384.0,262.7 L384.5,262.9 L385.0,263.1 L385.5,263.3 L386.0,263.3 L386.5,264.2 L387.0,263.7 L387.5,264.1 L388.0,264.8 L388.5,264.4 L389.0,264.8 L389.5,265.0 L390.0,265.0 L390.5,265.0 L391.0,265.2 L391.5,265.7 L392.0,266.0 L392.5,265.7 L393.0,266.4 L393.5,266.4 L394.0,266.9 L394.5,267.0 L395.0,267.0 L395.5,267.3 L396.0,267.6 L396.5,268.0 L397.0,268.5 L397.5,268.1 L398.0,268.2 L398.5,268.5 L399.0,268.5 L399.5,268.8 L400.0,268.8 L400.5,268.9 L401.0,268.9 L401.5,269.2 L402.0,269.4 L402.5,269.4 L403.0,269.8 L403.5,269.8 L404.0,269.7 L404.5,270.2 L405.0,269.7 L405.5,270.3 L406.0,270.6 L406.5,270.3 L407.0,270.4 L407.5,270.8 L408.0,271.0 L408.5,271.0 L409.0,271.1 L409.5,271.4 L410.0,271.5 L410.5,271.4 L411.0,271.8 L411.5,272.0 L412.0,271.9 L412.5,272.5 L413.0,272.4 L413.5,272.9 L414.0,272.7 L414.5,273.0 L415.0,273.1 L415.5,273.9 L416.0,274.1 L416.5,274.3 L417.0,274.5 L417.5,274.6 L418.0,274.8 L418.5,274.5 L419.0,275.1 L419.5,275.1 L420.0,275.3 L420.5,275.3 L421.0,276.0 L421.5,276.0 L422.0,275.9 L422.5,276.5 L423.0,276.5 L423.5,276.5 L424.0,276.9 L424.5,277.0 L425.0,276.8 L425.5,277.2 L426.0,277.8 L426.5,277.9 L427.0,278.1 L427.5,278.0 L428.0,278.3 L428.5,278.6 L429.0,278.9 L429.5,278.8 L430.0,278.9 L430.5,279.5 L431.0,279.4 L431.5,279.5 L432.0,279.6 L432.5,279.8 L433.0,280.4 L433.5,280.4 L434.0,280.3 L434.5,280.3 L435.0,281.0 L435.5,281.1 L436.0,281.1 L436.5,281.2 L437.0,280.8 L437.5,281.0 L438.0,281.5 L438.5,281.5 L439.0,281.7 L439.5,281.7 L440.0,281.8 L440.5,282.1 L441.0,282.0 L441.5,282.2 L442.0,282.4 L442.5,282.5 L443.0,282.9 L443.5,283.0 L444.0,282.6 L444.5,283.0 L445.0,283.0 L445.5,283.4 L446.0,283.2 L446.5,283.7 L447.0,283.9 L447.5,284.0 L448.0,283.9 L448.5,284.2 L449.0,284.1 L449.5,284.6 L450.0,284.9 L450.5,284.5 L451.0,284.9 L451.5,285.2 L452.0,285.3 L452.5,285.8 L453.0,285.7 L453.5,286.0 L454.0,285.9 L454.5,286.6 L455.0,286.5 L455.5,286.8 L456.0,286.9 L456.5,286.7 L457.0,287.0 L457.5,287.3 L458.0,287.9 L458.5,288.0 L459.0,288.4 L459.5,288.6 L460.0,288.9 L460.5,289.3 L461.0,289.5 L461.5,289.4 L462.0,289.9 L462.5,290.6 L463.0,290.4 L463.5,291.2 L464.0,291.6 L464.5,291.4 L465.0,291.9 L465.5,291.9 L466.0,292.6 L466.5,292.6 L467.0,292.8 L467.5,293.3 L468.0,293.6 L468.5,293.9 L469.0,294.3 L469.5,294.5 L470.0,294.7 L470.5,295.4 L471.0,296.0 L471.5,295.8 L472.0,295.9 L472.5,296.2 L473.0,296.8 L473.5,297.0 L474.0,297.3 L474.5,297.3 L475.0,297.8 L475.5,298.1 L476.0,298.9 L476.5,299.0 L477.0,298.9 L477.5,299.8 L478.0,300.3 L478.5,300.7 L479.0,300.3 L479.5,301.3 L480.0,301.8 L480.5,302.2 L481.0,302.4 L481.5,302.5 L482.0,303.2 L482.5,303.7 L483.0,304.3 L483.5,304.7 L484.0,305.0 L484.5,305.7 L485.0,305.8 L485.5,306.3 L486.0,306.9 L486.5,307.5 L487.0,307.8 L487.5,308.6 L488.0,309.0 L488.5,309.2 L489.0,309.9 L489.5,310.2 L490.0,310.7 L490.5,311.1 L491.0,312.2 L491.5,312.7 L492.0,312.8 L492.5,313.9 L493.0,314.5 L493.5,314.9 L494.0,315.8 L494.5,316.9 L495.0,317.4 L495.5,318.4 L496.0,319.6 L496.5,320.3 L497.0,321.5 L497.5,322.8 L498.0,324.4 L498.5,325.9 L499.0,326.9 L499.5,328.2 L500.0,330.0 L500.5,331.4 L501.0,333.1 L501.5,334.5 L502.0,336.1 L502.5,337.7 L503.0,339.3 L503.5,340.6 L504.0,342.1 L504.5,344.1 L505.0,345.9 L505.5,347.0 L506.0,347.9 L506.5,349.7 L507.0,351.4 L507.5,352.3 L508.0,354.0 L508.5,355.5 L509.0,356.9 L509.5,358.4 L510.0,360.3 L510.5,361.6 L511.0,363.1 L511.5,365.1 L512.0,366.1 L512.5,367.4 L513.0,369.4 L513.5,371.2 L514.0,372.3 L514.5,373.7 L515.0,374.9 L515.5,376.4 L516.0,378.3 L516.5,379.7 L517.0,380.9 L517.5,382.1 L518.0,383.3 L518.5,384.6 L519.0,385.8 L519.5,387.4 L520.0,388.3 L520.5,389.4 L521.0,390.7 L521.5,391.7 L522.0,392.6 L522.5,393.6 L523.0,394.5 L523.5,395.1 L524.0,396.4 L524.5,397.3 L525.0,398.3 L525.5,399.5 L526.0,400.4 L526.5,401.8 L527.0,402.5 L527.5,403.6 L528.0,404.7 L528.5,405.6 L529.0,406.7 L529.5,407.7 L530.0,408.6 L530.5,409.3 L531.0,410.1 L531.5,411.0 L532.0,412.0 L532.5,412.5 L533.0,413.5 L533.5,414.2 L534.0,415.1 L534.5,415.8" fill="none" stroke="#2f6a22" stroke-width="1.5" stroke-linejoin="round" />
<text transform="translate(351.30,293.20)" text-anchor="start" font-size="12" fill="#9a4e28" stroke="#9a4e28" stroke-width="0.25" >T</text>
<text transform="translate(359.40,295.60)" text-anchor="start" font-size="7.5" fill="#9a4e28" stroke="#9a4e28" stroke-width="0.125" >d</text>
<text transform="translate(364.20,293.20) scale(0.92,1.0)" text-anchor="start" font-size="12" fill="#9a4e28" stroke="#9a4e28" stroke-width="0.25" >= 302</text>
<text transform="translate(398.20,293.20) scale(0.95,1.0)" text-anchor="middle" font-size="12" fill="#111" stroke="#111" stroke-width="0.25" >&#176;C</text>
<text transform="translate(351.30,309.00)" text-anchor="start" font-size="12" fill="#36722a" stroke="#36722a" stroke-width="0.25" >T</text>
<text transform="translate(359.40,311.40)" text-anchor="start" font-size="7.5" fill="#36722a" stroke="#36722a" stroke-width="0.125" >d</text>
<text transform="translate(364.20,309.00) scale(0.92,1.0)" text-anchor="start" font-size="12" fill="#36722a" stroke="#36722a" stroke-width="0.25" >= 291</text>
<text transform="translate(398.20,309.00) scale(0.95,1.0)" text-anchor="middle" font-size="12" fill="#111" stroke="#111" stroke-width="0.25" >&#176;C</text>
<line x1="324.30" y1="389.40" x2="347.00" y2="389.40" stroke="#9a4e28" stroke-width="1.5" />
<line x1="324.30" y1="404.60" x2="347.00" y2="404.60" stroke="#36722a" stroke-width="1.5" />
<text transform="translate(352.50,392.90)" text-anchor="start" font-size="12" fill="#000" stroke="#000" stroke-width="0.25" >PhIN-CPP</text>
<text transform="translate(352.50,408.10)" text-anchor="start" font-size="12" fill="#000" stroke="#000" stroke-width="0.25" >ThIN-CPP</text>
<defs><radialGradient id="gf" cx="0.38" cy="0.35" r="0.7"><stop offset="0" stop-color="#e8c8ff"/><stop offset="0.35" stop-color="#7a38f0"/><stop offset="1" stop-color="#4a0cc8"/></radialGradient>
<clipPath id="ce"><rect x="45.8" y="458.3" width="215.7" height="172"/></clipPath>
<clipPath id="cf"><rect x="320.5" y="459.7" width="213.7" height="172"/></clipPath></defs>
<path d="M45.8,624.8 L48.3,619.5 L59.2,614.4 L67.3,612.5 L78.0,610.8 L89.0,609.0 L99.5,607.3 L110.0,605.6 L121.8,603.6 L132.5,601.6 L143.0,600.0 L153.6,598.5 L164.5,595.5 L175.1,593.6 L186.0,589.5 L196.5,586.6 L207.5,580.7 L218.0,573.9 L222.7,569.4 L228.9,563.4 L234.3,556.2 L239.8,547.3 L245.3,537.5 L250.7,524.4 L255.9,507.3 L257.3,500.5 L260.0,488.0" fill="none" stroke="#6a2ee0" stroke-width="1.2" stroke-linejoin="round" clip-path="url(#ce)"/>
<g clip-path="url(#ce)"><circle cx="48.3" cy="619.5" r="3.0" fill="#fff" stroke="#8a58e8" stroke-width="0.9"/><circle cx="59.2" cy="614.4" r="3.0" fill="#fff" stroke="#8a58e8" stroke-width="0.9"/><circle cx="67.3" cy="612.5" r="3.0" fill="#fff" stroke="#8a58e8" stroke-width="0.9"/><circle cx="78.0" cy="610.8" r="3.0" fill="#fff" stroke="#8a58e8" stroke-width="0.9"/><circle cx="89.0" cy="609.0" r="3.0" fill="#fff" stroke="#8a58e8" stroke-width="0.9"/><circle cx="99.5" cy="607.3" r="3.0" fill="#fff" stroke="#8a58e8" stroke-width="0.9"/><circle cx="110.0" cy="605.6" r="3.0" fill="#fff" stroke="#8a58e8" stroke-width="0.9"/><circle cx="121.8" cy="603.6" r="3.0" fill="#fff" stroke="#8a58e8" stroke-width="0.9"/><circle cx="132.5" cy="601.6" r="3.0" fill="#fff" stroke="#8a58e8" stroke-width="0.9"/><circle cx="143.0" cy="600.0" r="3.0" fill="#fff" stroke="#8a58e8" stroke-width="0.9"/><circle cx="153.6" cy="598.5" r="3.0" fill="#fff" stroke="#8a58e8" stroke-width="0.9"/><circle cx="164.5" cy="595.5" r="3.0" fill="#fff" stroke="#8a58e8" stroke-width="0.9"/><circle cx="175.1" cy="593.6" r="3.0" fill="#fff" stroke="#8a58e8" stroke-width="0.9"/><circle cx="186.0" cy="589.5" r="3.0" fill="#fff" stroke="#8a58e8" stroke-width="0.9"/><circle cx="196.5" cy="586.6" r="3.0" fill="#fff" stroke="#8a58e8" stroke-width="0.9"/><circle cx="207.5" cy="580.7" r="3.0" fill="#fff" stroke="#8a58e8" stroke-width="0.9"/><circle cx="218.0" cy="573.9" r="3.0" fill="#fff" stroke="#8a58e8" stroke-width="0.9"/><circle cx="222.7" cy="569.4" r="3.0" fill="#fff" stroke="#8a58e8" stroke-width="0.9"/><circle cx="228.9" cy="563.4" r="3.0" fill="#fff" stroke="#8a58e8" stroke-width="0.9"/><circle cx="234.3" cy="556.2" r="3.0" fill="#fff" stroke="#8a58e8" stroke-width="0.9"/><circle cx="239.8" cy="547.3" r="3.0" fill="#fff" stroke="#8a58e8" stroke-width="0.9"/><circle cx="245.3" cy="537.5" r="3.0" fill="#fff" stroke="#8a58e8" stroke-width="0.9"/><circle cx="250.7" cy="524.4" r="3.0" fill="#fff" stroke="#8a58e8" stroke-width="0.9"/><circle cx="255.9" cy="507.3" r="3.0" fill="#fff" stroke="#8a58e8" stroke-width="0.9"/><circle cx="257.3" cy="500.5" r="3.0" fill="#fff" stroke="#8a58e8" stroke-width="0.9"/><circle cx="260.0" cy="488.0" r="3.0" fill="#fff" stroke="#8a58e8" stroke-width="0.9"/></g>
<path d="M76.0,610.7 L89.1,609.0 L99.3,607.0 L109.8,605.0 L117.5,603.8 L131.8,601.5 L142.7,599.0 L153.3,594.5 L164.2,591.3 L175.1,588.2 L186.4,583.6 L196.5,578.0 L207.5,571.0 L218.6,561.6 L223.8,555.7 L229.6,548.6 L234.7,540.7 L240.2,531.2 L245.6,521.2 L248.2,515.5 L253.2,502.7 L256.4,492.7 L259.5,482.3" fill="none" stroke="#6a2ee0" stroke-width="1.2" stroke-linejoin="round" clip-path="url(#ce)"/>
<g clip-path="url(#ce)"><circle cx="76.0" cy="610.7" r="3.0" fill="url(#gf)" stroke="#5a18d8" stroke-width="0.6"/><circle cx="89.1" cy="609.0" r="3.0" fill="url(#gf)" stroke="#5a18d8" stroke-width="0.6"/><circle cx="99.3" cy="607.0" r="3.0" fill="url(#gf)" stroke="#5a18d8" stroke-width="0.6"/><circle cx="109.8" cy="605.0" r="3.0" fill="url(#gf)" stroke="#5a18d8" stroke-width="0.6"/><circle cx="117.5" cy="603.8" r="3.0" fill="url(#gf)" stroke="#5a18d8" stroke-width="0.6"/><circle cx="131.8" cy="601.5" r="3.0" fill="url(#gf)" stroke="#5a18d8" stroke-width="0.6"/><circle cx="142.7" cy="599.0" r="3.0" fill="url(#gf)" stroke="#5a18d8" stroke-width="0.6"/><circle cx="153.3" cy="594.5" r="3.0" fill="url(#gf)" stroke="#5a18d8" stroke-width="0.6"/><circle cx="164.2" cy="591.3" r="3.0" fill="url(#gf)" stroke="#5a18d8" stroke-width="0.6"/><circle cx="175.1" cy="588.2" r="3.0" fill="url(#gf)" stroke="#5a18d8" stroke-width="0.6"/><circle cx="186.4" cy="583.6" r="3.0" fill="url(#gf)" stroke="#5a18d8" stroke-width="0.6"/><circle cx="196.5" cy="578.0" r="3.0" fill="url(#gf)" stroke="#5a18d8" stroke-width="0.6"/><circle cx="207.5" cy="571.0" r="3.0" fill="url(#gf)" stroke="#5a18d8" stroke-width="0.6"/><circle cx="218.6" cy="561.6" r="3.0" fill="url(#gf)" stroke="#5a18d8" stroke-width="0.6"/><circle cx="223.8" cy="555.7" r="3.0" fill="url(#gf)" stroke="#5a18d8" stroke-width="0.6"/><circle cx="229.6" cy="548.6" r="3.0" fill="url(#gf)" stroke="#5a18d8" stroke-width="0.6"/><circle cx="234.7" cy="540.7" r="3.0" fill="url(#gf)" stroke="#5a18d8" stroke-width="0.6"/><circle cx="240.2" cy="531.2" r="3.0" fill="url(#gf)" stroke="#5a18d8" stroke-width="0.6"/><circle cx="245.6" cy="521.2" r="3.0" fill="url(#gf)" stroke="#5a18d8" stroke-width="0.6"/><circle cx="248.2" cy="515.5" r="3.0" fill="url(#gf)" stroke="#5a18d8" stroke-width="0.6"/><circle cx="253.2" cy="502.7" r="3.0" fill="url(#gf)" stroke="#5a18d8" stroke-width="0.6"/><circle cx="256.4" cy="492.7" r="3.0" fill="url(#gf)" stroke="#5a18d8" stroke-width="0.6"/><circle cx="259.5" cy="482.3" r="3.0" fill="url(#gf)" stroke="#5a18d8" stroke-width="0.6"/></g>
<rect x="45.80" y="458.30" width="215.70" height="172.00" fill="none" stroke="#2e2e2e" stroke-width="1.2"/>
<line x1="45.50" y1="630.30" x2="45.50" y2="633.50" stroke="#2e2e2e" stroke-width="1.0" />
<line x1="67.50" y1="630.30" x2="67.50" y2="632.10" stroke="#2e2e2e" stroke-width="1.0" />
<line x1="88.50" y1="630.30" x2="88.50" y2="633.50" stroke="#2e2e2e" stroke-width="1.0" />
<line x1="110.50" y1="630.30" x2="110.50" y2="632.10" stroke="#2e2e2e" stroke-width="1.0" />
<line x1="132.50" y1="630.30" x2="132.50" y2="633.50" stroke="#2e2e2e" stroke-width="1.0" />
<line x1="153.50" y1="630.30" x2="153.50" y2="632.10" stroke="#2e2e2e" stroke-width="1.0" />
<line x1="175.50" y1="630.30" x2="175.50" y2="633.50" stroke="#2e2e2e" stroke-width="1.0" />
<line x1="196.50" y1="630.30" x2="196.50" y2="632.10" stroke="#2e2e2e" stroke-width="1.0" />
<line x1="218.50" y1="630.30" x2="218.50" y2="633.50" stroke="#2e2e2e" stroke-width="1.0" />
<line x1="239.50" y1="630.30" x2="239.50" y2="632.10" stroke="#2e2e2e" stroke-width="1.0" />
<line x1="261.50" y1="630.30" x2="261.50" y2="633.50" stroke="#2e2e2e" stroke-width="1.0" />
<line x1="42.60" y1="630.50" x2="45.80" y2="630.50" stroke="#2e2e2e" stroke-width="1.0" />
<line x1="44.00" y1="608.50" x2="45.80" y2="608.50" stroke="#2e2e2e" stroke-width="1.0" />
<line x1="42.60" y1="587.50" x2="45.80" y2="587.50" stroke="#2e2e2e" stroke-width="1.0" />
<line x1="44.00" y1="565.50" x2="45.80" y2="565.50" stroke="#2e2e2e" stroke-width="1.0" />
<line x1="42.60" y1="544.50" x2="45.80" y2="544.50" stroke="#2e2e2e" stroke-width="1.0" />
<line x1="44.00" y1="522.50" x2="45.80" y2="522.50" stroke="#2e2e2e" stroke-width="1.0" />
<line x1="42.60" y1="501.50" x2="45.80" y2="501.50" stroke="#2e2e2e" stroke-width="1.0" />
<line x1="44.00" y1="479.50" x2="45.80" y2="479.50" stroke="#2e2e2e" stroke-width="1.0" />
<line x1="42.60" y1="458.50" x2="45.80" y2="458.50" stroke="#2e2e2e" stroke-width="1.0" />
<text transform="translate(45.80,646.90) scale(1.0,1.06)" text-anchor="middle" font-size="13" fill="#000" stroke="#000" stroke-width="0.25" >0.0</text>
<text transform="translate(88.94,646.90) scale(1.0,1.06)" text-anchor="middle" font-size="13" fill="#000" stroke="#000" stroke-width="0.25" >0.2</text>
<text transform="translate(132.08,646.90) scale(1.0,1.06)" text-anchor="middle" font-size="13" fill="#000" stroke="#000" stroke-width="0.25" >0.4</text>
<text transform="translate(175.22,646.90) scale(1.0,1.06)" text-anchor="middle" font-size="13" fill="#000" stroke="#000" stroke-width="0.25" >0.6</text>
<text transform="translate(218.36,646.90) scale(1.0,1.06)" text-anchor="middle" font-size="13" fill="#000" stroke="#000" stroke-width="0.25" >0.8</text>
<text transform="translate(261.50,646.90) scale(1.0,1.06)" text-anchor="middle" font-size="13" fill="#000" stroke="#000" stroke-width="0.25" >1.0</text>
<text transform="translate(39.80,634.80) scale(0.94,1.06)" text-anchor="end" font-size="13" fill="#000" stroke="#000" stroke-width="0.25" >0</text>
<text transform="translate(39.80,591.80) scale(0.94,1.06)" text-anchor="end" font-size="13" fill="#000" stroke="#000" stroke-width="0.25" >40</text>
<text transform="translate(39.80,548.80) scale(0.94,1.06)" text-anchor="end" font-size="13" fill="#000" stroke="#000" stroke-width="0.25" >80</text>
<text transform="translate(39.80,505.80) scale(0.94,1.06)" text-anchor="end" font-size="13" fill="#000" stroke="#000" stroke-width="0.25" >120</text>
<text transform="translate(39.80,462.80) scale(0.94,1.06)" text-anchor="end" font-size="13" fill="#000" stroke="#000" stroke-width="0.25" >160</text>
<text transform="translate(153.60,659.50) scale(1.04,1.0)" text-anchor="middle" font-size="13" fill="#000" stroke="#000" stroke-width="0.25" >Relative Pressure (P/P<tspan font-size="9.1" dy="3">0</tspan><tspan dy="-3">)</tspan></text>
<text transform="translate(18.80,638.20) scale(1.04,1.0) rotate(-90)" text-anchor="start" font-size="13" fill="#000" stroke="#000" stroke-width="0.25" >Quantity Adsorbed (c<tspan dx="0.6">m</tspan><tspan font-size="10" dy="-5.5" dx="1.2">3</tspan><tspan dy="5.5" dx="1.8"> &#183;g</tspan><tspan font-size="10" dy="-5.5" dx="1.2">&#8722;1</tspan><tspan dy="5.5" dx="1.6">)</tspan></text>
<text transform="translate(59.40,474.80) scale(1.12,1.0)" text-anchor="middle" font-size="20.5" fill="#000" stroke="#000" stroke-width="0.25" >(e)</text>
<line x1="163.00" y1="469.00" x2="185.00" y2="469.00" stroke="#6a2ee0" stroke-width="1.2" />
<circle cx="173.6" cy="469" r="3.2" fill="#fff" stroke="#8a58e8" stroke-width="0.9"/>
<line x1="163.00" y1="484.00" x2="185.00" y2="484.00" stroke="#6a2ee0" stroke-width="1.2" />
<circle cx="173.6" cy="484" r="3.2" fill="url(#gf)" stroke="#5a18d8" stroke-width="0.6"/>
<text transform="translate(190.50,473.60)" text-anchor="start" font-size="12" fill="#000" stroke="#000" stroke-width="0.25" >Adsorption</text>
<text transform="translate(190.50,488.00)" text-anchor="start" font-size="12" fill="#000" stroke="#000" stroke-width="0.25" >Desorption</text>
<rect x="69.60" y="492.40" width="96.80" height="77.60" fill="none" stroke="#555" stroke-width="0.8"/>
<line x1="70.50" y1="570.00" x2="70.50" y2="572.00" stroke="#2e2e2e" stroke-width="1.0" />
<line x1="89.50" y1="570.00" x2="89.50" y2="572.00" stroke="#2e2e2e" stroke-width="1.0" />
<line x1="108.50" y1="570.00" x2="108.50" y2="572.00" stroke="#2e2e2e" stroke-width="1.0" />
<line x1="127.50" y1="570.00" x2="127.50" y2="572.00" stroke="#2e2e2e" stroke-width="1.0" />
<line x1="146.50" y1="570.00" x2="146.50" y2="572.00" stroke="#2e2e2e" stroke-width="1.0" />
<line x1="165.50" y1="570.00" x2="165.50" y2="572.00" stroke="#2e2e2e" stroke-width="1.0" />
<line x1="67.60" y1="570.50" x2="69.60" y2="570.50" stroke="#2e2e2e" stroke-width="1.0" />
<line x1="67.60" y1="552.50" x2="69.60" y2="552.50" stroke="#2e2e2e" stroke-width="1.0" />
<line x1="67.60" y1="535.50" x2="69.60" y2="535.50" stroke="#2e2e2e" stroke-width="1.0" />
<line x1="67.60" y1="518.50" x2="69.60" y2="518.50" stroke="#2e2e2e" stroke-width="1.0" />
<line x1="67.60" y1="501.50" x2="69.60" y2="501.50" stroke="#2e2e2e" stroke-width="1.0" />
<text transform="translate(70.20,578.00) scale(1.04,1.0)" text-anchor="middle" font-size="6.5" fill="#000" stroke="#000" stroke-width="0.125" >0</text>
<text transform="translate(89.26,578.00) scale(1.04,1.0)" text-anchor="middle" font-size="6.5" fill="#000" stroke="#000" stroke-width="0.125" >20</text>
<text transform="translate(108.32,578.00) scale(1.04,1.0)" text-anchor="middle" font-size="6.5" fill="#000" stroke="#000" stroke-width="0.125" >40</text>
<text transform="translate(127.38,578.00) scale(1.04,1.0)" text-anchor="middle" font-size="6.5" fill="#000" stroke="#000" stroke-width="0.125" >60</text>
<text transform="translate(146.44,578.00) scale(1.04,1.0)" text-anchor="middle" font-size="6.5" fill="#000" stroke="#000" stroke-width="0.125" >80</text>
<text transform="translate(165.50,578.00) scale(1.04,1.0)" text-anchor="middle" font-size="6.5" fill="#000" stroke="#000" stroke-width="0.125" >100</text>
<text transform="translate(68.00,572.20) scale(1.04,1.0)" text-anchor="end" font-size="6.5" fill="#000" stroke="#000" stroke-width="0.125" >0.00</text>
<text transform="translate(68.00,555.15) scale(1.04,1.0)" text-anchor="end" font-size="6.5" fill="#000" stroke="#000" stroke-width="0.125" >0.05</text>
<text transform="translate(68.00,538.10) scale(1.04,1.0)" text-anchor="end" font-size="6.5" fill="#000" stroke="#000" stroke-width="0.125" >0.10</text>
<text transform="translate(68.00,521.05) scale(1.04,1.0)" text-anchor="end" font-size="6.5" fill="#000" stroke="#000" stroke-width="0.125" >0.15</text>
<text transform="translate(68.00,504.00) scale(1.04,1.0)" text-anchor="end" font-size="6.5" fill="#000" stroke="#000" stroke-width="0.125" >0.20</text>
<text transform="translate(118.00,583.80) scale(1.04,1.0)" text-anchor="middle" font-size="6.6" fill="#000" stroke="#000" stroke-width="0.125" >Pore Diameter (nm)</text>
<text transform="translate(54.60,529.00) scale(1.04,1.14) rotate(-90)" text-anchor="middle" font-size="6.1" fill="#000" stroke="#000" stroke-width="0.125" >pore volume (cm<tspan font-size="4.4" dy="-2.3">3</tspan><tspan dy="2.3">&#183;g</tspan><tspan font-size="4.4" dy="-2.3">&#8722;1</tspan><tspan dy="2.3">)</tspan></text>
<text transform="translate(86.50,500.50) scale(1.04,1.0)" text-anchor="middle" font-size="5.5" fill="#000" stroke="#000" stroke-width="0.125" >11.26 nm</text>
<path d="M72.7,561.5 L73.2,563.2 L74.5,550.2 L75.3,544.4 L76.0,538.3 L76.7,532.5 L78.0,522.3 L79.2,513.7 L80.4,506.9 L82.0,502.5 L84.5,502.8 L86.0,505.2 L89.0,508.6 L93.0,516.5 L98.0,523.3 L106.0,533.2 L126.5,544.4 L162.5,560.5" fill="none" stroke="#5a48d8" stroke-width="1.2" stroke-linejoin="round" />
<circle cx="72.7" cy="561.5" r="1.75" fill="#fff" stroke="#8a78f0" stroke-width="0.6"/><circle cx="73.2" cy="563.2" r="1.75" fill="#fff" stroke="#8a78f0" stroke-width="0.6"/><circle cx="74.5" cy="550.2" r="1.75" fill="#fff" stroke="#8a78f0" stroke-width="0.6"/><circle cx="75.3" cy="544.4" r="1.75" fill="#fff" stroke="#8a78f0" stroke-width="0.6"/><circle cx="76.0" cy="538.3" r="1.75" fill="#fff" stroke="#8a78f0" stroke-width="0.6"/><circle cx="76.7" cy="532.5" r="1.75" fill="#fff" stroke="#8a78f0" stroke-width="0.6"/><circle cx="78.0" cy="522.3" r="1.75" fill="#fff" stroke="#8a78f0" stroke-width="0.6"/><circle cx="79.2" cy="513.7" r="1.75" fill="#fff" stroke="#8a78f0" stroke-width="0.6"/><circle cx="80.4" cy="506.9" r="1.75" fill="#fff" stroke="#8a78f0" stroke-width="0.6"/><circle cx="82.0" cy="502.5" r="1.75" fill="#fff" stroke="#8a78f0" stroke-width="0.6"/><circle cx="84.5" cy="502.8" r="1.75" fill="#fff" stroke="#8a78f0" stroke-width="0.6"/><circle cx="86.0" cy="505.2" r="1.75" fill="#fff" stroke="#8a78f0" stroke-width="0.6"/><circle cx="89.0" cy="508.6" r="1.75" fill="#fff" stroke="#8a78f0" stroke-width="0.6"/><circle cx="93.0" cy="516.5" r="1.75" fill="#fff" stroke="#8a78f0" stroke-width="0.6"/><circle cx="98.0" cy="523.3" r="1.75" fill="#fff" stroke="#8a78f0" stroke-width="0.6"/><circle cx="106.0" cy="533.2" r="1.75" fill="#fff" stroke="#8a78f0" stroke-width="0.6"/><circle cx="126.5" cy="544.4" r="1.75" fill="#fff" stroke="#8a78f0" stroke-width="0.6"/><circle cx="162.5" cy="560.5" r="1.75" fill="#fff" stroke="#8a78f0" stroke-width="0.6"/>
<path d="M320.6,621.5 L322.6,618.2 L334.2,613.2 L342.3,611.6 L352.5,609.5 L363.4,608.0 L373.5,606.6 L384.4,605.0 L395.3,603.6 L406.2,602.9 L416.5,601.8 L427.4,600.9 L437.7,599.5 L448.4,598.4 L459.0,596.8 L470.0,595.0 L481.0,592.3 L491.6,587.7 L496.1,585.5 L502.3,581.4 L507.5,576.8 L512.7,570.0 L518.2,561.4 L523.4,546.1 L528.4,520.0 L530.4,504.4 L531.6,483.0 L533.5,465.0" fill="none" stroke="#6a2ee0" stroke-width="1.2" stroke-linejoin="round" clip-path="url(#cf)"/>
<g clip-path="url(#cf)"><circle cx="320.6" cy="621.5" r="3.0" fill="#fff" stroke="#8a58e8" stroke-width="0.9"/><circle cx="322.6" cy="618.2" r="3.0" fill="#fff" stroke="#8a58e8" stroke-width="0.9"/><circle cx="334.2" cy="613.2" r="3.0" fill="#fff" stroke="#8a58e8" stroke-width="0.9"/><circle cx="342.3" cy="611.6" r="3.0" fill="#fff" stroke="#8a58e8" stroke-width="0.9"/><circle cx="352.5" cy="609.5" r="3.0" fill="#fff" stroke="#8a58e8" stroke-width="0.9"/><circle cx="363.4" cy="608.0" r="3.0" fill="#fff" stroke="#8a58e8" stroke-width="0.9"/><circle cx="373.5" cy="606.6" r="3.0" fill="#fff" stroke="#8a58e8" stroke-width="0.9"/><circle cx="384.4" cy="605.0" r="3.0" fill="#fff" stroke="#8a58e8" stroke-width="0.9"/><circle cx="395.3" cy="603.6" r="3.0" fill="#fff" stroke="#8a58e8" stroke-width="0.9"/><circle cx="406.2" cy="602.9" r="3.0" fill="#fff" stroke="#8a58e8" stroke-width="0.9"/><circle cx="416.5" cy="601.8" r="3.0" fill="#fff" stroke="#8a58e8" stroke-width="0.9"/><circle cx="427.4" cy="600.9" r="3.0" fill="#fff" stroke="#8a58e8" stroke-width="0.9"/><circle cx="437.7" cy="599.5" r="3.0" fill="#fff" stroke="#8a58e8" stroke-width="0.9"/><circle cx="448.4" cy="598.4" r="3.0" fill="#fff" stroke="#8a58e8" stroke-width="0.9"/><circle cx="459.0" cy="596.8" r="3.0" fill="#fff" stroke="#8a58e8" stroke-width="0.9"/><circle cx="470.0" cy="595.0" r="3.0" fill="#fff" stroke="#8a58e8" stroke-width="0.9"/><circle cx="481.0" cy="592.3" r="3.0" fill="#fff" stroke="#8a58e8" stroke-width="0.9"/><circle cx="491.6" cy="587.7" r="3.0" fill="#fff" stroke="#8a58e8" stroke-width="0.9"/><circle cx="496.1" cy="585.5" r="3.0" fill="#fff" stroke="#8a58e8" stroke-width="0.9"/><circle cx="502.3" cy="581.4" r="3.0" fill="#fff" stroke="#8a58e8" stroke-width="0.9"/><circle cx="507.5" cy="576.8" r="3.0" fill="#fff" stroke="#8a58e8" stroke-width="0.9"/><circle cx="512.7" cy="570.0" r="3.0" fill="#fff" stroke="#8a58e8" stroke-width="0.9"/><circle cx="518.2" cy="561.4" r="3.0" fill="#fff" stroke="#8a58e8" stroke-width="0.9"/><circle cx="523.4" cy="546.1" r="3.0" fill="#fff" stroke="#8a58e8" stroke-width="0.9"/><circle cx="528.4" cy="520.0" r="3.0" fill="#fff" stroke="#8a58e8" stroke-width="0.9"/><circle cx="530.4" cy="504.4" r="3.0" fill="#fff" stroke="#8a58e8" stroke-width="0.9"/><circle cx="531.6" cy="483.0" r="3.0" fill="#fff" stroke="#8a58e8" stroke-width="0.9"/><circle cx="533.5" cy="465.0" r="3.0" fill="#fff" stroke="#8a58e8" stroke-width="0.9"/></g>
<path d="M351.0,604.4 L363.4,602.5 L373.5,601.4 L384.4,600.4 L395.3,599.2 L405.6,597.8 L416.5,596.4 L427.4,595.2 L438.2,593.9 L449.0,592.3 L459.0,590.0 L470.0,587.7 L481.0,584.3 L491.6,579.5 L497.3,575.7 L502.3,571.0 L507.5,564.3 L512.7,555.2 L518.2,541.6 L521.1,531.8 L526.0,506.6 L529.4,484.4 L532.0,464.0" fill="none" stroke="#6a2ee0" stroke-width="1.2" stroke-linejoin="round" clip-path="url(#cf)"/>
<g clip-path="url(#cf)"><circle cx="351.0" cy="604.4" r="3.0" fill="url(#gf)" stroke="#5a18d8" stroke-width="0.6"/><circle cx="363.4" cy="602.5" r="3.0" fill="url(#gf)" stroke="#5a18d8" stroke-width="0.6"/><circle cx="373.5" cy="601.4" r="3.0" fill="url(#gf)" stroke="#5a18d8" stroke-width="0.6"/><circle cx="384.4" cy="600.4" r="3.0" fill="url(#gf)" stroke="#5a18d8" stroke-width="0.6"/><circle cx="395.3" cy="599.2" r="3.0" fill="url(#gf)" stroke="#5a18d8" stroke-width="0.6"/><circle cx="405.6" cy="597.8" r="3.0" fill="url(#gf)" stroke="#5a18d8" stroke-width="0.6"/><circle cx="416.5" cy="596.4" r="3.0" fill="url(#gf)" stroke="#5a18d8" stroke-width="0.6"/><circle cx="427.4" cy="595.2" r="3.0" fill="url(#gf)" stroke="#5a18d8" stroke-width="0.6"/><circle cx="438.2" cy="593.9" r="3.0" fill="url(#gf)" stroke="#5a18d8" stroke-width="0.6"/><circle cx="449.0" cy="592.3" r="3.0" fill="url(#gf)" stroke="#5a18d8" stroke-width="0.6"/><circle cx="459.0" cy="590.0" r="3.0" fill="url(#gf)" stroke="#5a18d8" stroke-width="0.6"/><circle cx="470.0" cy="587.7" r="3.0" fill="url(#gf)" stroke="#5a18d8" stroke-width="0.6"/><circle cx="481.0" cy="584.3" r="3.0" fill="url(#gf)" stroke="#5a18d8" stroke-width="0.6"/><circle cx="491.6" cy="579.5" r="3.0" fill="url(#gf)" stroke="#5a18d8" stroke-width="0.6"/><circle cx="497.3" cy="575.7" r="3.0" fill="url(#gf)" stroke="#5a18d8" stroke-width="0.6"/><circle cx="502.3" cy="571.0" r="3.0" fill="url(#gf)" stroke="#5a18d8" stroke-width="0.6"/><circle cx="507.5" cy="564.3" r="3.0" fill="url(#gf)" stroke="#5a18d8" stroke-width="0.6"/><circle cx="512.7" cy="555.2" r="3.0" fill="url(#gf)" stroke="#5a18d8" stroke-width="0.6"/><circle cx="518.2" cy="541.6" r="3.0" fill="url(#gf)" stroke="#5a18d8" stroke-width="0.6"/><circle cx="521.1" cy="531.8" r="3.0" fill="url(#gf)" stroke="#5a18d8" stroke-width="0.6"/><circle cx="526.0" cy="506.6" r="3.0" fill="url(#gf)" stroke="#5a18d8" stroke-width="0.6"/><circle cx="529.4" cy="484.4" r="3.0" fill="url(#gf)" stroke="#5a18d8" stroke-width="0.6"/><circle cx="532.0" cy="464.0" r="3.0" fill="url(#gf)" stroke="#5a18d8" stroke-width="0.6"/></g>
<rect x="320.50" y="459.70" width="213.70" height="172.00" fill="none" stroke="#2e2e2e" stroke-width="1.2"/>
<line x1="320.50" y1="631.70" x2="320.50" y2="634.90" stroke="#2e2e2e" stroke-width="1.0" />
<line x1="341.50" y1="631.70" x2="341.50" y2="633.50" stroke="#2e2e2e" stroke-width="1.0" />
<line x1="363.50" y1="631.70" x2="363.50" y2="634.90" stroke="#2e2e2e" stroke-width="1.0" />
<line x1="384.50" y1="631.70" x2="384.50" y2="633.50" stroke="#2e2e2e" stroke-width="1.0" />
<line x1="405.50" y1="631.70" x2="405.50" y2="634.90" stroke="#2e2e2e" stroke-width="1.0" />
<line x1="427.50" y1="631.70" x2="427.50" y2="633.50" stroke="#2e2e2e" stroke-width="1.0" />
<line x1="448.50" y1="631.70" x2="448.50" y2="634.90" stroke="#2e2e2e" stroke-width="1.0" />
<line x1="470.50" y1="631.70" x2="470.50" y2="633.50" stroke="#2e2e2e" stroke-width="1.0" />
<line x1="491.50" y1="631.70" x2="491.50" y2="634.90" stroke="#2e2e2e" stroke-width="1.0" />
<line x1="512.50" y1="631.70" x2="512.50" y2="633.50" stroke="#2e2e2e" stroke-width="1.0" />
<line x1="534.50" y1="631.70" x2="534.50" y2="634.90" stroke="#2e2e2e" stroke-width="1.0" />
<line x1="317.30" y1="631.50" x2="320.50" y2="631.50" stroke="#2e2e2e" stroke-width="1.0" />
<line x1="318.70" y1="617.50" x2="320.50" y2="617.50" stroke="#2e2e2e" stroke-width="1.0" />
<line x1="317.30" y1="603.50" x2="320.50" y2="603.50" stroke="#2e2e2e" stroke-width="1.0" />
<line x1="318.70" y1="588.50" x2="320.50" y2="588.50" stroke="#2e2e2e" stroke-width="1.0" />
<line x1="317.30" y1="574.50" x2="320.50" y2="574.50" stroke="#2e2e2e" stroke-width="1.0" />
<line x1="318.70" y1="560.50" x2="320.50" y2="560.50" stroke="#2e2e2e" stroke-width="1.0" />
<line x1="317.30" y1="545.50" x2="320.50" y2="545.50" stroke="#2e2e2e" stroke-width="1.0" />
<line x1="318.70" y1="531.50" x2="320.50" y2="531.50" stroke="#2e2e2e" stroke-width="1.0" />
<line x1="317.30" y1="517.50" x2="320.50" y2="517.50" stroke="#2e2e2e" stroke-width="1.0" />
<line x1="318.70" y1="502.50" x2="320.50" y2="502.50" stroke="#2e2e2e" stroke-width="1.0" />
<line x1="317.30" y1="488.50" x2="320.50" y2="488.50" stroke="#2e2e2e" stroke-width="1.0" />
<line x1="318.70" y1="474.50" x2="320.50" y2="474.50" stroke="#2e2e2e" stroke-width="1.0" />
<line x1="317.30" y1="459.50" x2="320.50" y2="459.50" stroke="#2e2e2e" stroke-width="1.0" />
<text transform="translate(320.50,646.90) scale(1.0,1.06)" text-anchor="middle" font-size="13" fill="#000" stroke="#000" stroke-width="0.25" >0.0</text>
<text transform="translate(363.24,646.90) scale(1.0,1.06)" text-anchor="middle" font-size="13" fill="#000" stroke="#000" stroke-width="0.25" >0.2</text>
<text transform="translate(405.98,646.90) scale(1.0,1.06)" text-anchor="middle" font-size="13" fill="#000" stroke="#000" stroke-width="0.25" >0.4</text>
<text transform="translate(448.72,646.90) scale(1.0,1.06)" text-anchor="middle" font-size="13" fill="#000" stroke="#000" stroke-width="0.25" >0.6</text>
<text transform="translate(491.46,646.90) scale(1.0,1.06)" text-anchor="middle" font-size="13" fill="#000" stroke="#000" stroke-width="0.25" >0.8</text>
<text transform="translate(534.20,646.90) scale(1.0,1.06)" text-anchor="middle" font-size="13" fill="#000" stroke="#000" stroke-width="0.25" >1.0</text>
<text transform="translate(315.00,636.20) scale(0.98,1.06)" text-anchor="end" font-size="13" fill="#000" stroke="#000" stroke-width="0.25" >0</text>
<text transform="translate(315.00,607.53) scale(0.98,1.06)" text-anchor="end" font-size="13" fill="#000" stroke="#000" stroke-width="0.25" >20</text>
<text transform="translate(315.00,578.87) scale(0.98,1.06)" text-anchor="end" font-size="13" fill="#000" stroke="#000" stroke-width="0.25" >40</text>
<text transform="translate(315.00,550.20) scale(0.98,1.06)" text-anchor="end" font-size="13" fill="#000" stroke="#000" stroke-width="0.25" >60</text>
<text transform="translate(315.00,521.54) scale(0.98,1.06)" text-anchor="end" font-size="13" fill="#000" stroke="#000" stroke-width="0.25" >80</text>
<text transform="translate(315.00,492.87) scale(0.98,1.06)" text-anchor="end" font-size="13" fill="#000" stroke="#000" stroke-width="0.25" >100</text>
<text transform="translate(315.00,464.20) scale(0.98,1.06)" text-anchor="end" font-size="13" fill="#000" stroke="#000" stroke-width="0.25" >120</text>
<text transform="translate(427.00,659.50) scale(1.04,1.0)" text-anchor="middle" font-size="13" fill="#000" stroke="#000" stroke-width="0.25" >Relative Pressure (P/P<tspan font-size="9.1" dy="3">0</tspan><tspan dy="-3">)</tspan></text>
<text transform="translate(289.40,637.60) scale(1.04,1.0) rotate(-90)" text-anchor="start" font-size="12.6" fill="#000" stroke="#000" stroke-width="0.25" >Quantity Adsorbed (c<tspan dx="0.6">m</tspan><tspan font-size="10" dy="-5.5" dx="1.2">3</tspan><tspan dy="5.5" dx="1.8"> &#183;g</tspan><tspan font-size="10" dy="-5.5" dx="1.2">&#8722;1</tspan><tspan dy="5.5" dx="1.6">)</tspan></text>
<text transform="translate(334.80,477.20) scale(1.18,1.0)" text-anchor="middle" font-size="20.5" fill="#000" stroke="#000" stroke-width="0.25" >(f)</text>
<line x1="437.00" y1="472.40" x2="458.00" y2="472.40" stroke="#6a2ee0" stroke-width="1.2" />
<circle cx="446" cy="472.4" r="3.2" fill="#fff" stroke="#8a58e8" stroke-width="0.9"/>
<line x1="437.00" y1="487.00" x2="458.00" y2="487.00" stroke="#6a2ee0" stroke-width="1.2" />
<circle cx="446" cy="487" r="3.2" fill="url(#gf)" stroke="#5a18d8" stroke-width="0.6"/>
<text transform="translate(461.00,476.80)" text-anchor="start" font-size="12" fill="#000" stroke="#000" stroke-width="0.25" >Adsorption</text>
<text transform="translate(461.00,491.40)" text-anchor="start" font-size="12" fill="#000" stroke="#000" stroke-width="0.25" >Desorption</text>
<rect x="344.40" y="492.10" width="103.60" height="82.70" fill="none" stroke="#555" stroke-width="0.8"/>
<line x1="345.50" y1="574.80" x2="345.50" y2="576.80" stroke="#2e2e2e" stroke-width="1.0" />
<line x1="361.50" y1="574.80" x2="361.50" y2="576.80" stroke="#2e2e2e" stroke-width="1.0" />
<line x1="377.50" y1="574.80" x2="377.50" y2="576.80" stroke="#2e2e2e" stroke-width="1.0" />
<line x1="392.50" y1="574.80" x2="392.50" y2="576.80" stroke="#2e2e2e" stroke-width="1.0" />
<line x1="408.50" y1="574.80" x2="408.50" y2="576.80" stroke="#2e2e2e" stroke-width="1.0" />
<line x1="424.50" y1="574.80" x2="424.50" y2="576.80" stroke="#2e2e2e" stroke-width="1.0" />
<line x1="440.50" y1="574.80" x2="440.50" y2="576.80" stroke="#2e2e2e" stroke-width="1.0" />
<line x1="342.40" y1="571.50" x2="344.40" y2="571.50" stroke="#2e2e2e" stroke-width="1.0" />
<line x1="342.40" y1="555.50" x2="344.40" y2="555.50" stroke="#2e2e2e" stroke-width="1.0" />
<line x1="342.40" y1="539.50" x2="344.40" y2="539.50" stroke="#2e2e2e" stroke-width="1.0" />
<line x1="342.40" y1="524.50" x2="344.40" y2="524.50" stroke="#2e2e2e" stroke-width="1.0" />
<line x1="342.40" y1="508.50" x2="344.40" y2="508.50" stroke="#2e2e2e" stroke-width="1.0" />
<line x1="342.40" y1="492.50" x2="344.40" y2="492.50" stroke="#2e2e2e" stroke-width="1.0" />
<text transform="translate(345.80,583.00) scale(1.04,1.0)" text-anchor="middle" font-size="6.5" fill="#000" stroke="#000" stroke-width="0.125" >0</text>
<text transform="translate(361.52,583.00) scale(1.04,1.0)" text-anchor="middle" font-size="6.5" fill="#000" stroke="#000" stroke-width="0.125" >10</text>
<text transform="translate(377.24,583.00) scale(1.04,1.0)" text-anchor="middle" font-size="6.5" fill="#000" stroke="#000" stroke-width="0.125" >20</text>
<text transform="translate(392.96,583.00) scale(1.04,1.0)" text-anchor="middle" font-size="6.5" fill="#000" stroke="#000" stroke-width="0.125" >30</text>
<text transform="translate(408.68,583.00) scale(1.04,1.0)" text-anchor="middle" font-size="6.5" fill="#000" stroke="#000" stroke-width="0.125" >40</text>
<text transform="translate(424.40,583.00) scale(1.04,1.0)" text-anchor="middle" font-size="6.5" fill="#000" stroke="#000" stroke-width="0.125" >50</text>
<text transform="translate(440.12,583.00) scale(1.04,1.0)" text-anchor="middle" font-size="6.5" fill="#000" stroke="#000" stroke-width="0.125" >60</text>
<text transform="translate(342.70,573.50) scale(1.04,1.0)" text-anchor="end" font-size="6.5" fill="#000" stroke="#000" stroke-width="0.125" >0.00</text>
<text transform="translate(342.70,557.74) scale(1.04,1.0)" text-anchor="end" font-size="6.5" fill="#000" stroke="#000" stroke-width="0.125" >0.04</text>
<text transform="translate(342.70,541.98) scale(1.04,1.0)" text-anchor="end" font-size="6.5" fill="#000" stroke="#000" stroke-width="0.125" >0.08</text>
<text transform="translate(342.70,526.22) scale(1.04,1.0)" text-anchor="end" font-size="6.5" fill="#000" stroke="#000" stroke-width="0.125" >0.12</text>
<text transform="translate(342.70,510.46) scale(1.04,1.0)" text-anchor="end" font-size="6.5" fill="#000" stroke="#000" stroke-width="0.125" >0.16</text>
<text transform="translate(342.70,494.70) scale(1.04,1.0)" text-anchor="end" font-size="6.5" fill="#000" stroke="#000" stroke-width="0.125" >0.20</text>
<text transform="translate(395.30,591.00) scale(1.04,1.0)" text-anchor="middle" font-size="7" fill="#000" stroke="#000" stroke-width="0.125" >Pore diameter (nm)</text>
<text transform="translate(331.20,531.00) scale(1.04,1.2) rotate(-90)" text-anchor="middle" font-size="6.3" fill="#000" stroke="#000" stroke-width="0.125" >Pore volume (cm<tspan font-size="4.5" dy="-2.4">3</tspan><tspan dy="2.4">&#183;g</tspan><tspan font-size="4.5" dy="-2.4">&#8722;1</tspan><tspan dy="2.4">)</tspan></text>
<text transform="translate(397.50,503.50) scale(1.04,1.0)" text-anchor="middle" font-size="5.5" fill="#000" stroke="#000" stroke-width="0.125" >30.08 nm</text>
<path d="M350.5,566.6 L350.8,563.4 L351.3,561.1 L352.1,559.1 L352.4,556.3 L353.7,557.5 L355.2,558.3 L358.4,553.6 L359.9,545.7 L363.1,540.6 L364.7,535.8 L367.8,529.9 L371.0,526.0 L375.7,520.9 L383.5,513.0 L393.1,506.3 L405.5,508.3 L443.3,520.1" fill="none" stroke="#5a48d8" stroke-width="1.2" stroke-linejoin="round" />
<circle cx="350.5" cy="566.6" r="1.75" fill="#fff" stroke="#8a78f0" stroke-width="0.6"/><circle cx="350.8" cy="563.4" r="1.75" fill="#fff" stroke="#8a78f0" stroke-width="0.6"/><circle cx="351.3" cy="561.1" r="1.75" fill="#fff" stroke="#8a78f0" stroke-width="0.6"/><circle cx="352.1" cy="559.1" r="1.75" fill="#fff" stroke="#8a78f0" stroke-width="0.6"/><circle cx="352.4" cy="556.3" r="1.75" fill="#fff" stroke="#8a78f0" stroke-width="0.6"/><circle cx="353.7" cy="557.5" r="1.75" fill="#fff" stroke="#8a78f0" stroke-width="0.6"/><circle cx="355.2" cy="558.3" r="1.75" fill="#fff" stroke="#8a78f0" stroke-width="0.6"/><circle cx="358.4" cy="553.6" r="1.75" fill="#fff" stroke="#8a78f0" stroke-width="0.6"/><circle cx="359.9" cy="545.7" r="1.75" fill="#fff" stroke="#8a78f0" stroke-width="0.6"/><circle cx="363.1" cy="540.6" r="1.75" fill="#fff" stroke="#8a78f0" stroke-width="0.6"/><circle cx="364.7" cy="535.8" r="1.75" fill="#fff" stroke="#8a78f0" stroke-width="0.6"/><circle cx="367.8" cy="529.9" r="1.75" fill="#fff" stroke="#8a78f0" stroke-width="0.6"/><circle cx="371.0" cy="526.0" r="1.75" fill="#fff" stroke="#8a78f0" stroke-width="0.6"/><circle cx="375.7" cy="520.9" r="1.75" fill="#fff" stroke="#8a78f0" stroke-width="0.6"/><circle cx="383.5" cy="513.0" r="1.75" fill="#fff" stroke="#8a78f0" stroke-width="0.6"/><circle cx="393.1" cy="506.3" r="1.75" fill="#fff" stroke="#8a78f0" stroke-width="0.6"/><circle cx="405.5" cy="508.3" r="1.75" fill="#fff" stroke="#8a78f0" stroke-width="0.6"/><circle cx="443.3" cy="520.1" r="1.75" fill="#fff" stroke="#8a78f0" stroke-width="0.6"/>
</svg></body></html>
